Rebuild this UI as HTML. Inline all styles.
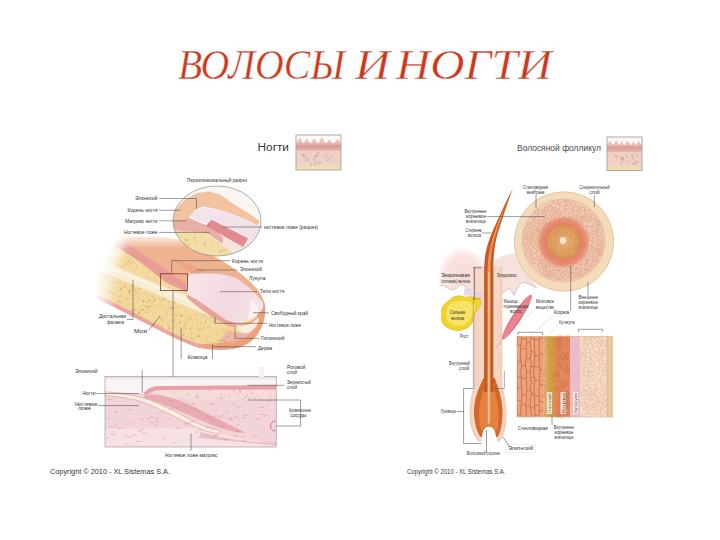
<!DOCTYPE html>
<html><head><meta charset="utf-8"><style>
html,body{margin:0;padding:0;background:#fff;width:720px;height:540px;overflow:hidden}
svg{display:block}
text{font-family:'Liberation Sans',sans-serif}
text.ttl{font-family:'Liberation Serif',serif;font-style:italic}
</style></head><body>
<svg width="720" height="540" viewBox="0 0 720 540"><defs>
<filter id="soft" x="-10%" y="-10%" width="120%" height="120%"><feGaussianBlur stdDeviation="0.7"/></filter>
<filter id="soft2" x="-30%" y="-30%" width="160%" height="160%"><feGaussianBlur stdDeviation="2"/></filter>
<filter id="soft4" x="-50%" y="-50%" width="200%" height="200%"><feGaussianBlur stdDeviation="4"/></filter>
<clipPath id="circClip"><ellipse cx="217" cy="221" rx="44" ry="35"/></clipPath>
<clipPath id="xsClip"><rect x="105" y="376.5" width="171.2" height="70.5"/></clipPath>
<linearGradient id="fadeL" gradientUnits="userSpaceOnUse" x1="95" y1="275" x2="121" y2="279">
 <stop offset="0" stop-color="#fff" stop-opacity="1"/>
 <stop offset="0.4" stop-color="#fff" stop-opacity="0.7"/>
 <stop offset="1" stop-color="#fff" stop-opacity="0"/>
</linearGradient>
<linearGradient id="fadeT" gradientUnits="userSpaceOnUse" x1="150" y1="233" x2="150" y2="248">
 <stop offset="0" stop-color="#fff" stop-opacity="1"/>
 <stop offset="1" stop-color="#fff" stop-opacity="0"/>
</linearGradient>
<linearGradient id="nailG" gradientUnits="userSpaceOnUse" x1="190" y1="274" x2="262" y2="305">
 <stop offset="0" stop-color="#f7e6ea"/>
 <stop offset="0.6" stop-color="#f3d8e0"/>
 <stop offset="1" stop-color="#f6e4e8"/>
</linearGradient>
<radialGradient id="pinkL" cx="0.55" cy="0.6" r="0.6">
 <stop offset="0" stop-color="#f7d9d6"/>
 <stop offset="0.7" stop-color="#f9e4e2"/>
 <stop offset="1" stop-color="#fdf2f2" stop-opacity="0.5"/>
</radialGradient>
<pattern id="cellsO" width="6" height="9" patternUnits="userSpaceOnUse">
 <rect width="6" height="9" fill="#eba06a"/>
 <path d="M0,0 L0,9 M3,0 L3,4.5 M0,4.5 L6,4.5" stroke="#c8703e" stroke-width="0.6"/>
</pattern>
<pattern id="cellsP" width="4" height="4" patternUnits="userSpaceOnUse">
 <rect width="4" height="4" fill="#f6d9c6"/>
 <circle cx="2" cy="2" r="1.4" fill="none" stroke="#e5b4a0" stroke-width="0.5"/>
</pattern>
<pattern id="cellsC" width="5" height="5" patternUnits="userSpaceOnUse">
 <rect width="5" height="5" fill="#f1cdb8"/>
 <circle cx="2.5" cy="2.5" r="1.9" fill="none" stroke="#e0a088" stroke-width="0.5"/>
</pattern>
<radialGradient id="coreG" gradientUnits="userSpaceOnUse" cx="563.5" cy="242" r="27">
 <stop offset="0" stop-color="#eab478"/>
 <stop offset="0.5" stop-color="#e0a060"/>
 <stop offset="0.64" stop-color="#df9058"/>
 <stop offset="0.67" stop-color="#e8846c"/>
 <stop offset="0.82" stop-color="#ea8c74"/>
 <stop offset="0.93" stop-color="#eeb098"/>
 <stop offset="1" stop-color="#f0cbb2" stop-opacity="0"/>
</radialGradient>
<linearGradient id="oliveG" x1="0" y1="0" x2="1" y2="0">
 <stop offset="0" stop-color="#e2b888"/>
 <stop offset="0.45" stop-color="#d6a24a"/>
 <stop offset="1" stop-color="#cf983c"/>
</linearGradient>
<clipPath id="rectClip"><rect x="517" y="336.3" width="95.4" height="80.7"/></clipPath>
<radialGradient id="fadeR" gradientUnits="userSpaceOnUse" cx="90" cy="236" r="42">
 <stop offset="0" stop-color="#fff" stop-opacity="1"/>
 <stop offset="0.55" stop-color="#fff" stop-opacity="0.9"/>
 <stop offset="1" stop-color="#fff" stop-opacity="0"/>
</radialGradient>
<linearGradient id="thG" x1="0" y1="0" x2="0" y2="1">
 <stop offset="0" stop-color="#efcfc6"/>
 <stop offset="1" stop-color="#f1e2b0"/>
</linearGradient>
</defs>
<rect width="720" height="540" fill="#fff"/>
<text x="178" y="78.5" class="ttl" font-size="41.5" fill="#cc391d" stroke="#fff" stroke-width="0.4" textLength="167" lengthAdjust="spacingAndGlyphs">ВОЛОСЫ</text>
<text x="355" y="78.5" class="ttl" font-size="41.5" fill="#cc391d" stroke="#fff" stroke-width="0.4" textLength="35" lengthAdjust="spacingAndGlyphs">И</text>
<text x="396" y="78.5" class="ttl" font-size="41.5" fill="#cc391d" stroke="#fff" stroke-width="0.4" textLength="156" lengthAdjust="spacingAndGlyphs">НОГТИ</text>
<text x="257.5" y="151.3" font-size="10" fill="#3a3a3a" textLength="31.5" lengthAdjust="spacingAndGlyphs">Ногти</text>
<rect x="296" y="135" width="45" height="35" fill="#efcfc6"/>
<rect x="296" y="135" width="45" height="8.4" fill="#fcf8f6"/>
<polygon points="296.0,144.1 295.7,143.8 300.0,137.5 302.8,143.8 307.0,138.6 310.3,143.8 314.0,138.5 318.4,143.8 321.6,137.3 325.9,143.8 329.1,139.4 333.1,143.8 338.0,138.9 341.1,143.8 341.0,144.1" fill="#e9c2b4"/>
<rect x="296" y="143.4" width="45" height="7.0" fill="#e2aaa2"/>
<rect x="296" y="145.5" width="45" height="1.75" fill="#d8968e" opacity="0.7"/>
<rect x="296" y="162.3" width="45" height="7.7" fill="url(#thG)"/>
<circle cx="314.8" cy="164.5" r="0.6" fill="none" stroke="#c09a90" stroke-width="0.5"/>
<circle cx="331.4" cy="156.0" r="0.7" fill="none" stroke="#c09a90" stroke-width="0.5"/>
<circle cx="304.7" cy="156.3" r="1.3" fill="none" stroke="#c09a90" stroke-width="0.5"/>
<circle cx="307.0" cy="159.6" r="1.1" fill="none" stroke="#c09a90" stroke-width="0.5"/>
<circle cx="313.9" cy="159.2" r="0.7" fill="none" stroke="#c09a90" stroke-width="0.5"/>
<circle cx="302.6" cy="155.0" r="1.1" fill="none" stroke="#c09a90" stroke-width="0.5"/>
<circle cx="315.9" cy="156.3" r="1.1" fill="none" stroke="#c09a90" stroke-width="0.5"/>
<circle cx="316.8" cy="156.2" r="1.2" fill="none" stroke="#c09a90" stroke-width="0.5"/>
<circle cx="325.7" cy="155.5" r="1.1" fill="none" stroke="#c09a90" stroke-width="0.5"/>
<circle cx="319.4" cy="163.2" r="1.2" fill="none" stroke="#c09a90" stroke-width="0.5"/>
<circle cx="310.9" cy="164.5" r="0.7" fill="none" stroke="#c09a90" stroke-width="0.5"/>
<circle cx="315.6" cy="161.8" r="0.7" fill="none" stroke="#c09a90" stroke-width="0.5"/>
<circle cx="318.1" cy="153.0" r="1.1" fill="none" stroke="#c09a90" stroke-width="0.5"/>
<circle cx="328.0" cy="159.5" r="1.3" fill="none" stroke="#c09a90" stroke-width="0.5"/>
<rect x="296" y="135" width="45" height="35" fill="none" stroke="#a8a2a0" stroke-width="0.9"/>
<text x="517" y="150.8" font-size="8.4" fill="#4a4a4a" textLength="84" lengthAdjust="spacingAndGlyphs">Волосяной фолликул</text>
<rect x="607" y="137" width="35" height="33.5" fill="#efcfc6"/>
<rect x="607" y="137" width="35" height="8.04" fill="#fcf8f6"/>
<polygon points="607.0,145.7 606.7,145.4 610.1,140.9 613.0,145.4 616.3,140.2 619.4,145.4 621.8,140.3 623.8,145.4 627.7,140.9 631.1,145.4 632.9,141.2 636.0,145.4 638.3,140.8 641.9,145.4 642.0,145.7" fill="#e9c2b4"/>
<rect x="607" y="145.04" width="35" height="6.7" fill="#e2aaa2"/>
<rect x="607" y="147.05" width="35" height="1.675" fill="#d8968e" opacity="0.7"/>
<rect x="607" y="163.13" width="35" height="7.37" fill="url(#thG)"/>
<circle cx="615.2" cy="155.1" r="0.6" fill="none" stroke="#c09a90" stroke-width="0.5"/>
<circle cx="632.0" cy="155.3" r="0.8" fill="none" stroke="#c09a90" stroke-width="0.5"/>
<circle cx="621.4" cy="164.0" r="0.7" fill="none" stroke="#c09a90" stroke-width="0.5"/>
<circle cx="623.1" cy="160.2" r="1.3" fill="none" stroke="#c09a90" stroke-width="0.5"/>
<circle cx="633.4" cy="163.9" r="0.8" fill="none" stroke="#c09a90" stroke-width="0.5"/>
<circle cx="622.1" cy="158.0" r="1.3" fill="none" stroke="#c09a90" stroke-width="0.5"/>
<circle cx="637.3" cy="155.5" r="0.7" fill="none" stroke="#c09a90" stroke-width="0.5"/>
<circle cx="617.0" cy="156.5" r="1.0" fill="none" stroke="#c09a90" stroke-width="0.5"/>
<circle cx="627.0" cy="156.8" r="0.6" fill="none" stroke="#c09a90" stroke-width="0.5"/>
<circle cx="622.2" cy="158.1" r="1.1" fill="none" stroke="#c09a90" stroke-width="0.5"/>
<circle cx="637.2" cy="161.8" r="1.0" fill="none" stroke="#c09a90" stroke-width="0.5"/>
<circle cx="627.8" cy="161.7" r="0.6" fill="none" stroke="#c09a90" stroke-width="0.5"/>
<circle cx="635.7" cy="162.9" r="1.3" fill="none" stroke="#c09a90" stroke-width="0.5"/>
<circle cx="632.8" cy="158.4" r="0.9" fill="none" stroke="#c09a90" stroke-width="0.5"/>
<rect x="607" y="137" width="35" height="33.5" fill="none" stroke="#a8a2a0" stroke-width="0.9"/>
<g filter="url(#soft)">
<path d="M122,238 C140,236 160,236 180,240 C195,246 205,252 217,258 C230,265 248,278 257,289 C262,295 265,301 265,310 C265,316 264,322 262,326 C258,336 250,345 237,348 C225,350 210,350 200,348 C185,344 165,333 147,324 C130,315 112,306 97,299 C93,290 96,262 105,250 C110,243 116,239 122,238 Z" fill="#f4d99c"/>
<path d="M97,299 C112,306 130,315 147,324 C165,333 185,344 200,348 C210,350 225,350 237,348 L236,344 C222,346 210,346 200,344 C185,340 166,330 148,320 C131,311 113,302 98,295 Z" fill="#eaa59e"/>
<path d="M103,260 C115,266 130,273 150,281 C165,287 178,292 190,297 C200,301 210,306 220,312 L232,326 C222,322 212,317 200,312 C188,307 175,302 163,297 C148,291 128,283 100,271 Z" fill="#f7ecd4"/>
<path d="M106,266 C125,274 150,284 175,295 C195,303 210,311 225,320" fill="none" stroke="#fbf6ea" stroke-width="1.6" opacity="0.9"/>
<path d="M112,244 C125,252 135,258 140,262 C150,270 158,276 165,282 L188,293 L188,294 C178,291 165,287 150,281 C130,272 115,265 103,258 Z" fill="#f5dba2"/>
<path d="M122,238 C140,236 160,236 180,240 C195,246 205,252 217,258 C230,265 248,278 257,289 C262,295 265,301 265,310 L262,301.5 L189,272 L190,286 C180,280 165,268 150,258 C140,251 130,244 120,240 Z" fill="#efb48f"/>
<path d="M120,240 C130,244 140,251 150,258 C165,268 175,276 190,286 L188,293 C178,288 170,285 165,282 C158,276 150,270 140,262 C130,255 120,249 112,244 Z" fill="#eba09a"/>
<path d="M117.0,241.0 C135,250.0 160,268.0 189,287.0" fill="none" stroke="#dc8884" stroke-width="0.45" opacity="0.8"/>
<path d="M115.92,242.44 C135,251.8 160,269.8 189,288.44" fill="none" stroke="#dc8884" stroke-width="0.45" opacity="0.8"/>
<path d="M114.84,243.88 C135,253.6 160,271.6 189,289.88" fill="none" stroke="#dc8884" stroke-width="0.45" opacity="0.8"/>
<path d="M113.76,245.32 C135,255.4 160,273.4 189,291.32" fill="none" stroke="#dc8884" stroke-width="0.45" opacity="0.8"/>
<path d="M172,258 C190,264 215,274 240,287 C252,293 259,298 263,303 L262,301.5 L189,272 C182,268 177,262 172,258 Z" fill="#eba283" opacity="0.9"/>
<path d="M188,293 C195,298 205,305 215,312 C225,319 232,323 238,324 C245,325 252,322 258,316 L259,320 C252,326 245,328 238,328 C230,327 222,323 212,317 C202,310 194,304 187,298 Z" fill="#e9a39c"/>
<path d="M257,312 C258,322 254,332 245,337 C232,342 215,344 200,344 L205,348 C215,350 228,350 237,348 C250,345 258,336 262,326 C266,316 266,306 264,302 Z" fill="#eea07c"/>
<path d="M228,330 C235,333 245,334 252,330 C250,336 244,339 236,341 C230,342 224,342 218,342 C222,338 225,334 228,330 Z" fill="#efb4a8"/>
<path d="M236,325 C244,327 252,324 259,317 C259,324 255,330 248,333 C242,334 238,331 236,325 Z" fill="#f8eedc"/>
</g>
<path d="M189.5,274 C205,272 225,273 235,277 C246,283 256,293 262,301 C265,306 262,312 258,313.4 C254,318 250,320 247.8,320.5 C242,322.5 238,323 235.5,322.6 C230,321 226,320 225.4,319.5 C218,314 212,310 205,305.3 C198,300 192,297 188,295 C186,290 186,280 189.5,274 Z" fill="url(#nailG)"/>
<path d="M189.5,274 C205,272 225,273 235,277 C246,283 256,293 262,301" stroke="#eab2ac" stroke-width="1.0" fill="none"/>
<path d="M250,300 C256,303 260,306 258,313.4 C254,318 250,320 247.8,320.5 C249,314 251,306 250,300 Z" fill="#fbf2f4" opacity="0.8"/>
<clipPath id="fatClip"><path d="M98,295 C113,302 131,311 148,320 C166,330 185,340 200,344 C210,346 222,346 236,344 C240,340 238,334 232,326 C222,322 212,317 200,312 C188,307 175,302 163,297 C148,291 128,283 100,271 Z"/></clipPath>
<clipPath id="fatClip2"><path d="M112,244 C125,252 135,258 140,262 C150,270 158,276 165,282 L188,294 C178,291 165,287 150,281 C130,272 115,265 103,258 Z"/></clipPath>
<g clip-path="url(#fatClip)"><path d="M235.8,342.8L241.7,340.0M235.1,334.0L228.9,331.7M235.1,334.0L231.6,341.0M228.9,331.7L230.2,340.7M230.2,340.7L231.6,341.0M235.8,342.8L232.8,342.2M232.4,343.9L232.8,342.2M232.4,343.9L226.6,352.2M226.6,352.2L150.2,2642.1M241.7,340.0L239.2,330.2M235.1,334.0L237.8,330.7M231.6,341.0L232.8,342.2M239.2,330.2L237.8,330.7M228.9,331.7L227.3,329.4M224.5,340.6L230.2,340.7M224.5,340.6L225.7,329.3M225.7,329.3L227.3,329.4M237.8,330.7L230.6,327.7M227.3,329.4L230.6,327.7M238.3,307.6L247.6,305.0M238.3,307.6L238.7,315.8M240.5,315.9L238.7,315.8M240.5,315.9L250.4,305.0M250.4,305.0L247.6,305.0M224.5,340.6L222.7,341.2M226.6,352.2L222.7,343.2M222.7,341.2L222.7,343.2M92.4,302.2L101.8,298.7M92.4,302.2L103.0,310.2M101.8,298.7L105.4,306.6M105.4,306.6L103.0,310.2M-200.5,314.1L-7900.8,338.8M-200.5,314.1L92.4,302.2M-7900.8,338.8L21.3,288.1M101.8,298.7L101.8,298.5M21.3,288.1L91.2,292.2M101.8,298.5L91.2,292.2M157.6,289.6L167.8,288.9M157.6,289.6L155.3,285.4M167.8,288.9L164.7,283.6M164.7,283.6L155.3,285.4M261.3,326.5L241.1,328.5M261.3,326.5L242.7,317.6M242.7,317.6L239.2,325.3M241.1,328.5L239.2,325.3M239.2,330.2L241.1,328.5M230.6,327.7L231.5,321.9M239.2,325.3L234.7,319.6M231.5,321.9L234.7,319.6M240.5,315.9L242.7,317.6M238.7,315.8L235.0,317.8M235.0,317.8L234.7,319.6M250.4,305.0L287.8,295.7M315.8,292.3L287.8,295.7M235.3,299.6L237.1,299.5M235.3,299.6L231.7,296.1M237.1,299.5L244.0,293.1M231.7,296.1L234.8,292.1M234.8,292.1L238.8,291.2M238.8,291.2L244.0,293.1M235.0,306.7L235.3,299.6M235.0,306.7L238.3,307.6M247.6,305.0L237.1,299.5M287.8,295.7L244.0,293.1M315.8,292.3L238.9,282.0M238.9,282.0L238.8,291.2M202.6,298.9L207.6,302.9M202.6,298.9L199.9,307.3M207.6,302.9L203.5,307.6M199.9,307.3L202.6,307.6M203.5,307.6L202.6,307.6M207.4,309.2L203.5,307.6M207.4,309.2L212.3,302.8M212.3,302.8L207.6,302.9M205.9,316.0L205.9,316.0M205.9,316.0L203.1,316.0M205.9,316.0L202.6,307.6M203.1,316.0L195.6,312.9M195.6,312.9L196.5,308.9M196.5,308.9L199.9,307.3M206.1,315.9L205.9,316.0M206.1,315.9L209.6,312.7M209.6,312.7L207.4,309.2M163.9,317.0L169.6,321.6M163.9,317.0L166.6,314.5M166.6,314.5L174.6,314.5M174.6,314.5L174.7,320.3M169.6,321.6L174.7,320.3M-200.5,314.1L90.4,317.7M90.4,317.7L98.6,315.8M103.0,310.2L101.7,313.7M98.6,315.8L101.7,313.7M153.7,323.3L154.7,321.6M153.7,323.3L155.7,327.8M155.7,327.8L162.3,330.6M163.9,317.0L158.8,318.6M162.3,330.6L168.4,329.5M169.6,321.6L168.4,329.5M154.7,321.6L158.8,318.6M168.4,329.5L168.7,329.5M168.7,329.5L175.7,326.6M176.3,322.4L174.7,320.3M176.3,322.4L176.1,326.1M176.1,326.1L175.7,326.6M117.0,339.2L114.2,338.3M117.0,339.2L113.5,351.6M114.2,338.3L111.0,340.3M111.0,340.3L109.8,342.0M109.8,342.0L111.7,348.7M113.5,351.6L111.7,348.7M119.2,333.4L114.3,330.1M119.2,333.4L125.8,325.6M125.8,325.6L114.3,330.1M121.3,338.9L122.1,337.9M121.3,338.9L117.0,339.2M122.1,337.9L119.2,333.4M113.1,330.0L114.3,330.1M113.1,330.0L114.2,338.3M130.8,332.3L126.8,335.8M130.8,332.3L126.1,325.4M126.8,335.8L122.1,337.9M126.1,325.4L125.8,325.6M139.8,317.1L137.0,310.9M139.8,317.1L128.3,320.7M137.0,310.9L135.7,309.9M135.7,309.9L129.1,312.3M129.1,312.3L128.3,320.7M130.8,332.3L132.1,332.7M141.6,318.8L132.1,332.7M141.6,318.8L140.6,317.6M126.1,325.4L125.7,322.6M140.6,317.6L139.8,317.1M128.3,320.7L125.7,322.6M112.6,324.4L111.8,326.1M112.6,324.4L105.5,315.4M105.5,315.4L104.0,314.9M104.0,314.9L108.4,325.1M111.8,326.1L108.4,325.1M98.6,315.8L103.6,324.8M101.7,313.7L104.0,314.9M108.4,325.1L103.6,324.8M155.7,327.8L155.3,328.9M155.3,328.9L153.2,337.7M162.3,330.6L165.4,339.8M165.4,339.8L162.9,342.7M153.2,337.7L162.9,342.7M144.7,343.1L135.7,338.0M144.7,343.1L145.5,342.4M145.5,342.4L144.3,335.2M144.3,335.2L140.4,332.3M140.4,332.3L134.3,334.3M134.3,334.3L135.7,338.0M153.7,323.3L150.0,322.8M150.0,322.8L140.4,332.3M155.3,328.9L144.3,335.2M150.0,322.8L141.6,318.8M132.1,332.7L134.3,334.3M165.4,339.8L169.9,341.0M168.7,329.5L170.0,331.2M170.0,331.2L169.9,341.0M176.8,329.7L175.7,326.6M176.8,329.7L176.0,336.4M170.0,331.2L176.0,336.4M101.8,298.5L103.8,294.8M91.2,292.2L96.6,290.4M96.6,290.4L101.9,292.1M101.9,292.1L103.8,294.8M105.4,306.6L106.6,306.3M106.6,306.3L112.2,299.1M112.2,299.1L104.4,294.6M103.8,294.8L104.4,294.6M143.7,29.3L139.9,258.9M143.7,29.3L157.0,254.0M146.9,268.1L157.0,254.0M146.9,268.1L142.1,266.4M142.1,266.4L139.9,258.9M146.9,268.1L149.2,270.8M142.1,266.4L141.9,271.5M149.2,270.8L141.9,271.5M183.3,289.5L188.1,298.5M183.3,289.5L183.9,287.2M183.9,287.2L191.0,283.7M196.4,295.6L193.1,283.8M196.4,295.6L189.2,298.9M191.0,283.7L193.1,283.8M189.2,298.9L188.1,298.5M180.7,273.6L180.6,281.5M180.7,273.6L184.6,271.3M180.6,281.5L183.9,287.2M184.6,271.3L190.4,275.4M190.4,275.4L191.0,283.7M182.8,304.8L186.4,312.1M182.8,304.8L185.0,301.3M186.4,312.1L190.2,300.7M185.0,301.3L188.1,298.5M190.2,300.7L189.2,298.9M156.0,276.4L165.5,280.2M156.0,276.4L156.7,270.2M158.0,268.2L156.7,270.2M158.0,268.2L166.0,279.1M166.0,279.1L165.5,280.2M164.7,283.6L165.6,281.4M155.3,285.4L154.0,284.6M165.6,281.4L165.5,280.2M156.0,276.4L153.1,282.8M153.1,282.8L154.0,284.6M225.7,329.3L225.5,329.1M225.5,329.1L226.4,323.8M231.5,321.9L228.8,321.6M226.4,323.8L228.8,321.6M225.2,296.9L231.7,296.1M225.2,296.9L225.1,299.2M235.0,306.7L228.1,309.9M228.1,309.9L225.1,299.2M235.0,317.8L228.0,310.1M228.1,309.9L228.0,310.1M207.8,327.8L213.5,322.5M207.8,327.8L203.9,327.0M205.8,319.8L212.3,321.6M205.8,319.8L203.7,326.4M212.3,321.6L213.5,322.5M203.7,326.4L203.9,327.0M206.1,315.9L212.3,321.6M205.9,316.0L205.8,319.8M201.4,323.1L203.7,326.4M201.4,323.1L203.1,316.0M201.4,323.1L196.9,319.8M196.9,319.8L196.3,329.0M196.3,329.0L199.3,330.5M199.3,330.5L203.9,327.0M217.7,319.8L222.6,328.7M217.7,319.8L214.8,322.0M214.8,322.0L217.0,331.6M222.6,328.7L218.8,332.1M218.8,332.1L217.0,331.6M225.5,329.1L222.6,328.7M226.4,323.8L217.9,319.5M217.9,319.5L217.7,319.8M207.8,327.8L210.6,332.6M213.5,322.5L214.8,322.0M210.6,332.6L217.0,331.6M222.7,341.2L220.8,340.5M220.8,340.5L218.8,332.1M196.9,319.8L193.4,316.0M196.3,329.0L191.8,327.6M191.8,327.6L193.4,316.0M176.7,312.2L174.6,314.5M176.7,312.2L185.7,316.5M176.3,322.4L184.1,320.2M184.1,320.2L185.7,316.5M195.6,312.9L193.3,315.6M196.5,308.9L190.2,300.7M186.4,312.1L187.3,315.7M187.3,315.7L193.3,315.6M193.3,315.6L193.4,316.0M199.0,273.8L198.0,267.2M199.0,273.8L193.7,273.9M193.7,273.9L189.1,262.1M198.0,267.2L192.1,253.1M192.1,253.1L189.1,262.1M184.6,271.3L189.1,262.1M190.4,275.4L193.7,273.9M222.9,-674.5L214.6,265.7M222.9,-674.5L202.9,-167.4M202.9,-167.4L192.1,253.1M214.6,265.7L212.8,269.4M212.8,269.4L198.0,267.2M140.6,317.6L147.5,307.8M137.0,310.9L143.5,304.5M143.5,304.5L147.5,307.8M153.1,314.0L155.9,308.0M153.1,314.0L149.7,307.9M155.9,308.0L151.2,305.8M149.7,307.9L151.2,305.8M160.4,306.5L158.8,318.6M160.4,306.5L159.8,305.1M159.8,305.1L155.9,308.0M154.7,321.6L153.1,314.0M147.5,307.8L149.7,307.9M159.8,305.1L159.8,305.0M159.8,305.0L151.7,304.5M151.7,304.5L151.2,305.8M159.9,299.1L155.0,298.7M159.9,299.1L159.2,292.8M159.2,292.8L157.6,289.8M157.6,289.8L153.4,295.0M155.0,298.7L153.2,296.4M153.2,296.4L153.4,295.0M157.6,289.6L157.6,289.8M154.0,284.6L150.4,289.4M150.4,289.4L153.4,295.0M146.3,293.5L146.6,295.4M146.3,293.5L146.6,292.6M146.6,295.4L153.2,296.4M150.4,289.4L146.6,292.6M135.7,309.9L133.8,306.2M143.5,304.5L143.5,300.6M143.5,300.6L138.6,299.2M133.8,306.2L138.6,299.2M137.2,292.4L130.0,298.2M137.2,292.4L137.4,292.8M137.4,292.8L138.1,298.6M138.1,298.6L130.0,298.2M137.2,292.4L137.1,292.2M137.1,292.2L128.9,292.3M128.9,292.3L127.0,298.7M130.0,298.2L127.0,298.7M176.0,336.4L176.2,336.8M170.0,341.1L169.9,341.0M170.0,341.1L175.2,339.0M176.2,336.8L175.2,339.0M170.5,346.5L170.0,341.1M170.5,346.5L176.2,346.1M176.2,346.1L176.3,346.0M176.3,346.0L175.2,339.2M175.2,339.2L175.2,339.0M134.0,342.4L143.0,356.0M134.0,342.4L132.7,343.5M132.7,343.5L145.9,456.8M143.0,356.0L145.9,456.8M144.7,343.1L143.0,356.0M135.7,338.0L134.0,342.4M126.8,335.8L128.3,343.4M128.3,343.4L130.5,344.3M130.5,344.3L132.7,343.5M148.5,519.2L145.9,456.8M148.5,519.2L142.7,749.0M142.7,749.0L120.1,379.0M130.5,344.3L120.1,379.0M153.2,337.7L152.3,339.3M145.5,342.4L151.9,339.6M151.9,339.6L152.3,339.3M148.5,519.2L159.8,381.3M151.9,339.6L159.8,381.3M112.4,292.4L112.7,298.8M112.4,292.4L118.7,297.5M112.7,298.8L115.8,299.6M118.7,297.5L115.8,299.6M106.6,306.3L111.1,307.4M112.2,299.1L112.7,298.8M116.0,300.9L115.8,299.6M116.0,300.9L115.8,305.6M111.1,307.4L115.8,305.6M96.6,290.4L98.9,284.4M101.8,288.9L101.9,292.1M101.8,288.9L101.1,285.6M101.1,285.6L98.9,284.4M21.3,288.1L97.4,282.5M98.1,272.3L99.5,278.8M99.5,278.8L97.4,282.5M97.4,282.5L98.9,284.4M98.1,272.3L98.6,272.2M107.7,261.5L105.6,266.5M98.6,272.2L105.6,266.5M119.6,290.8L121.1,296.5M119.6,290.8L114.4,290.1M121.1,296.5L118.7,297.5M112.4,292.4L112.2,291.8M114.4,290.1L112.2,291.8M137.0,272.7L137.3,263.9M137.0,272.7L135.6,272.5M135.6,272.5L132.1,272.0M137.3,263.9L132.5,270.3M132.5,270.3L132.1,272.0M139.9,258.9L137.3,263.9M141.9,271.5L140.8,274.0M140.8,274.0L137.0,272.7M127.8,-529.7L123.7,250.2M127.8,-529.7L143.7,29.3M123.7,250.2L132.5,270.3M168.0,289.1L168.8,289.4M168.0,289.1L164.7,292.0M168.8,289.4L169.1,294.2M164.7,292.0L163.7,299.6M163.7,299.6L169.1,294.2M167.8,288.9L168.0,289.1M159.2,292.8L164.7,292.0M179.5,290.8L173.8,298.4M179.5,290.8L170.2,289.0M170.2,289.0L168.8,289.4M173.8,298.4L169.1,294.2M161.3,300.4L159.9,299.1M161.3,300.4L163.4,300.1M163.4,300.1L163.7,299.6M180.6,273.5L173.8,272.0M180.6,273.5L176.4,261.0M176.4,261.0L173.8,272.0M202.9,-167.4L175.4,248.4M180.7,273.6L180.6,273.5M175.4,248.4L176.4,261.0M170.5,272.6L171.2,272.2M170.5,272.6L158.1,268.0M171.2,272.2L170.7,266.9M170.7,266.9L158.1,263.6M158.1,263.6L158.1,268.0M169.9,275.2L166.0,279.1M169.9,275.2L170.5,272.6M158.0,268.2L158.1,268.0M175.4,248.4L170.7,266.9M173.8,272.0L171.2,272.2M157.0,254.0L158.1,263.6M149.2,270.8L150.3,271.2M150.3,271.2L156.7,270.2M175.9,281.4L172.0,278.7M175.9,281.4L172.1,283.6M172.0,278.7L170.0,281.9M172.1,283.6L170.0,281.9M180.6,281.5L175.9,281.4M169.9,275.2L172.0,278.7M183.3,289.5L179.5,290.8M170.2,289.0L172.1,283.6M165.6,281.4L170.0,281.9M151.5,282.4L143.1,287.0M151.5,282.4L144.6,278.2M143.1,287.0L141.3,278.6M144.6,278.2L142.0,277.8M142.0,277.8L141.3,278.6M153.1,282.8L151.5,282.4M142.9,287.5L143.1,287.0M142.9,287.5L146.6,292.6M150.3,271.2L144.6,278.2M140.8,274.0L142.0,277.8M218.7,316.8L221.6,315.2M218.7,316.8L214.4,313.1M214.4,313.1L214.5,305.1M221.6,315.2L224.1,312.5M224.1,312.5L217.9,305.0M214.5,305.1L217.9,305.0M228.8,321.6L221.6,315.2M217.9,319.5L218.7,316.8M209.6,312.7L214.4,313.1M212.3,302.8L212.3,302.8M212.3,302.8L214.5,305.1M228.0,310.1L224.1,312.5M225.1,299.2L217.9,305.0M210.6,332.6L210.2,336.2M220.8,340.5L219.1,340.8M219.1,340.8L210.2,336.2M153.4,2088.2L142.7,749.0M153.4,2088.2L171.9,1373.3M170.5,346.5L161.8,367.2M176.2,346.1L186.0,361.5M159.8,381.3L161.8,367.2M186.0,361.5L171.9,1373.3M150.2,2642.1L153.4,2088.2M222.7,343.2L219.4,349.8M219.4,349.8L206.2,456.6M171.9,1373.3L206.2,456.6M191.2,327.8L185.7,328.5M191.2,327.8L191.8,337.8M184.2,333.1L185.6,328.6M184.2,333.1L184.0,334.6M185.6,328.6L185.7,328.5M184.0,334.6L186.1,336.7M191.8,337.8L186.1,336.7M191.8,327.6L191.2,327.8M184.1,320.2L185.7,328.5M187.3,315.7L185.7,316.5M199.3,330.5L199.0,333.5M194.0,338.7L199.0,333.5M194.0,338.7L193.1,338.4M193.1,338.4L191.8,337.8M176.8,329.7L184.2,333.1M176.1,326.1L185.6,328.6M182.7,335.2L176.2,336.8M182.7,335.2L184.0,334.6M193.1,283.8L197.6,283.0M197.6,283.0L197.9,282.3M199.0,273.8L199.8,274.6M199.8,274.6L197.9,282.3M202.6,298.9L202.3,296.0M196.4,295.6L200.9,294.8M200.9,294.8L202.3,296.0M227.5,273.5L214.6,265.7M227.5,273.5L229.6,271.6M245.7,250.9L229.6,271.6M235.3,281.4L236.0,275.8M235.3,281.4L238.8,281.9M239.8,278.8L238.8,281.9M239.8,278.8L238.3,273.1M238.3,273.1L236.0,275.8M232.0,285.4L234.8,281.5M232.0,285.4L234.8,292.1M238.9,282.0L238.8,281.9M234.8,281.5L235.3,281.4M245.7,250.9L238.3,273.1M229.6,271.6L236.0,275.8M225.2,296.9L222.7,294.4M232.0,285.4L227.8,286.1M222.7,294.4L223.7,289.8M227.8,286.1L223.7,289.8M166.6,314.5L166.6,312.9M160.4,306.5L163.9,308.2M163.9,308.2L166.6,311.7M166.6,312.9L166.6,311.7M145.9,297.5L143.5,300.6M145.9,297.5L152.3,301.2M143.5,300.6L151.6,303.9M152.3,301.2L151.6,303.9M137.4,292.8L146.3,293.5M146.6,295.4L145.9,297.5M143.5,300.6L143.5,300.6M138.1,298.6L138.6,299.2M155.0,298.7L152.3,301.2M151.7,304.5L151.6,303.9M161.3,300.4L159.8,305.0M181.4,341.3L180.3,342.9M181.4,341.3L185.6,341.7M185.4,348.6L180.4,343.2M185.4,348.6L185.7,345.2M180.4,343.2L180.3,342.9M185.7,345.2L185.6,341.7M182.7,335.2L181.4,341.3M175.2,339.2L180.3,342.9M186.1,336.7L185.6,341.7M176.3,346.0L180.4,343.2M186.0,361.5L187.0,355.5M187.0,355.5L185.4,348.6M194.0,338.7L195.4,343.3M193.1,338.4L185.7,345.2M195.4,343.3L187.0,355.5M122.0,344.1L128.1,343.5M122.0,344.1L117.7,361.2M128.1,343.5L118.6,367.0M117.7,361.2L118.6,367.0M121.3,338.9L122.0,344.1M128.3,343.4L128.1,343.5M113.5,351.6L117.7,361.2M120.1,379.0L118.6,367.0M102.2,345.8L111.7,348.7M102.2,345.8L101.8,342.8M109.8,342.0L107.0,341.3M101.8,342.8L102.4,342.0M107.0,341.3L102.4,342.0M101.8,342.8L85.9,341.9M111.8,329.7L108.0,331.9M111.8,329.7L110.0,338.5M108.0,331.9L109.2,337.3M110.0,338.5L109.2,337.3M113.1,330.0L112.3,329.4M111.0,340.3L110.0,338.5M112.3,329.4L111.8,329.7M107.0,341.3L106.0,337.0M106.0,337.0L109.2,337.3M162.3,344.6L153.5,340.6M162.3,344.6L161.1,349.5M161.1,349.5L153.5,340.6M162.9,342.7L162.3,344.6M152.3,339.3L153.5,340.6M161.8,367.2L161.1,349.5M122.3,302.4L125.4,298.8M122.3,302.4L122.0,308.2M122.0,308.2L128.4,303.8M126.8,298.9L128.8,303.2M126.8,298.9L125.4,298.8M128.4,303.8L128.8,303.2M116.0,300.9L120.7,303.2M121.1,296.5L125.4,298.8M120.7,303.2L122.3,302.4M133.8,306.2L128.8,303.2M127.0,298.7L126.8,298.9M126.3,311.1L129.1,312.3M126.3,311.1L128.4,303.8M116.5,316.1L115.7,314.8M116.5,316.1L118.8,317.5M115.7,314.8L116.3,305.8M118.8,317.5L118.8,317.5M118.8,317.5L121.3,312.2M121.3,312.2L120.9,309.9M120.9,309.9L117.5,306.2M117.5,306.2L116.3,305.8M105.5,315.4L116.5,316.1M111.1,307.4L115.7,314.8M112.6,324.4L118.8,317.5M115.8,305.6L116.3,305.8M125.7,322.6L118.8,317.5M111.8,326.1L112.3,329.4M126.3,311.1L121.3,312.2M122.0,308.2L120.9,309.9M120.7,303.2L117.5,306.2M104.9,273.6L106.6,271.6M104.9,273.6L107.1,278.0M106.6,271.6L113.2,272.5M107.1,278.0L111.6,274.8M113.2,272.5L111.6,274.8M98.6,272.2L104.9,273.6M105.6,266.5L106.6,271.6M106.6,279.5L99.5,278.8M106.6,279.5L107.1,278.0M107.7,261.5L113.9,272.0M113.9,272.0L113.2,272.5M101.8,288.9L105.2,287.9M104.4,294.6L107.4,292.1M107.4,292.1L105.2,287.9M112.2,291.8L108.4,291.6M107.4,292.1L108.4,291.6M127.3,281.5L123.2,279.5M127.3,281.5L124.2,287.2M123.2,279.5L120.1,283.2M120.1,283.2L122.4,287.2M122.4,287.2L124.2,287.2M119.6,290.8L122.4,287.2M116.5,281.9L114.2,282.7M116.5,281.9L120.1,283.2M114.2,282.7L113.3,283.3M114.4,290.1L113.3,283.3M123.2,276.5L129.6,273.9M123.2,276.5L117.8,273.1M122.2,265.2L117.3,272.2M122.2,265.2L129.7,273.6M129.7,273.6L129.6,273.9M117.3,272.2L117.8,273.1M116.5,281.9L117.8,273.1M123.2,279.5L123.2,276.5M123.7,250.2L122.2,265.2M113.9,272.0L117.3,272.2M132.1,272.0L129.7,273.6M114.2,282.7L111.6,274.8M137.1,292.2L137.3,290.4M142.9,287.5L139.7,288.2M139.7,288.2L137.7,289.8M137.3,290.4L137.7,289.8M215.6,346.4L215.4,344.2M215.6,346.4L210.3,362.6M215.4,344.2L209.5,344.8M210.3,362.6L209.5,344.8M219.4,349.8L215.6,346.4M219.1,340.8L215.4,344.2M206.2,456.6L206.7,412.0M206.7,412.0L210.3,362.6M207.2,342.5L207.8,338.8M207.2,342.5L201.8,344.9M201.8,344.9L200.7,344.3M200.7,344.3L201.5,335.8M201.5,335.8L207.8,338.8M210.2,336.2L207.8,338.8M209.5,344.8L207.2,342.5M206.7,412.0L201.8,344.9M195.4,343.3L200.7,344.3M199.0,333.5L201.5,335.8M197.6,283.0L200.1,285.8M200.9,294.8L201.5,289.6M200.1,285.8L201.5,289.6M197.9,282.3L211.5,279.2M200.1,285.8L211.7,282.6M211.7,282.6L211.7,280.1M211.7,280.1L211.5,279.2M199.8,274.6L211.3,273.7M211.5,279.2L211.3,273.7M212.8,269.4L211.6,273.2M211.6,273.2L211.3,273.7M225.5,278.6L222.9,279.9M225.5,278.6L227.5,275.6M227.5,275.6L227.5,275.3M227.5,275.3L218.3,276.2M218.3,276.2L222.9,279.9M221.5,285.8L223.7,289.8M221.5,285.8L221.8,281.1M227.8,286.1L225.5,278.6M221.8,281.1L222.9,279.9M234.8,281.5L227.5,275.6M227.5,273.5L227.5,275.3M211.6,273.2L218.3,276.2M221.8,281.1L211.7,280.1M173.5,308.2L169.6,306.7M173.5,308.2L176.6,309.2M177.1,308.3L176.6,309.2M177.1,308.3L174.0,299.9M174.0,299.9L173.7,299.6M173.7,299.6L168.0,302.3M169.6,306.7L168.5,304.5M168.5,304.5L168.0,302.3M166.6,312.9L173.5,308.2M166.6,311.7L169.6,306.7M176.7,312.2L176.6,309.2M182.8,304.8L177.1,308.3M185.0,301.3L174.0,299.9M173.8,298.4L173.7,299.6M163.4,300.1L168.0,302.3M163.9,308.2L168.5,304.5M103.6,324.8L102.1,327.9M108.0,331.9L105.3,332.6M105.3,332.6L102.1,327.9M90.4,317.7L98.7,328.6M102.1,327.9L98.7,328.6M98.7,328.6L97.8,330.7M109.8,283.0L108.4,286.2M109.8,283.0L107.1,280.9M108.4,286.2L105.0,286.7M107.1,280.9L102.9,285.1M102.9,285.1L105.0,286.7M113.3,283.3L109.8,283.0M108.4,291.6L108.4,286.2M106.6,279.5L107.1,280.9M105.2,287.9L105.0,286.7M101.1,285.6L102.9,285.1M135.3,282.2L132.7,283.1M135.3,282.2L137.9,280.7M135.2,278.0L129.9,274.6M135.2,278.0L138.2,280.4M138.2,280.4L137.9,280.7M129.8,280.7L129.9,274.6M129.8,280.7L132.1,282.9M132.1,282.9L132.7,283.1M139.7,288.2L137.9,280.7M137.7,289.8L135.3,282.2M135.6,272.5L135.2,278.0M129.6,273.9L129.9,274.6M141.3,278.6L138.2,280.4M127.3,281.5L129.8,280.7M124.2,287.2L126.8,288.4M126.8,288.4L132.1,282.9M206.8,288.5L211.8,283.2M206.8,288.5L210.2,295.1M215.2,294.4L211.9,283.2M215.2,294.4L213.5,295.6M211.9,283.2L211.8,283.2M213.5,295.6L210.2,295.1M201.5,289.6L206.8,288.5M211.7,282.6L211.8,283.2M202.3,296.0L210.2,295.1M222.7,294.4L215.2,294.4M221.5,285.8L211.9,283.2M212.3,302.8L213.5,295.6M104.7,335.1L102.0,339.1M104.7,335.1L104.9,333.1M104.9,333.1L98.9,333.9M102.0,339.1L97.9,335.8M97.9,335.8L98.9,333.9M102.4,342.0L102.0,339.1M106.0,337.0L104.7,335.1M105.3,332.6L104.9,333.1M97.8,330.7L98.9,333.9M85.9,341.9L97.9,335.8M134.7,288.4L134.7,288.4M134.7,288.4L128.5,290.7M134.7,288.4L131.4,287.9M131.4,287.9L128.4,290.6M128.5,290.7L128.4,290.6M137.3,290.4L134.7,288.4M132.7,283.1L132.9,284.3M132.9,284.3L134.7,288.4M128.9,292.3L128.5,290.7M132.9,284.3L131.4,287.9M126.8,288.4L128.4,290.6" fill="none" stroke="#e6c488" stroke-width="0.5" opacity="0.9"/></g>
<g clip-path="url(#fatClip2)"><path d="M602.6,163.9L187.7,244.9M602.6,163.9L219.3,245.3M187.7,244.9L186.0,246.6M219.3,245.3L190.6,250.0M186.0,246.6L190.6,250.0M189.8,254.3L189.2,253.4M189.8,254.3L219.3,245.3M189.2,253.4L190.6,250.0M63.5,258.3L106.1,271.5M63.5,258.3L68.3,258.1M68.3,258.1L107.8,266.6M106.1,271.5L107.8,266.6M11.9,258.2L105.0,280.0M105.0,280.0L72.4,349.1M72.4,349.1L70.2,352.6M190.0,256.7L804.5,293.3M190.0,256.7L189.8,254.3M1517.0,322.1L804.5,293.3M194.3,289.8L1517.0,322.1M194.3,289.8L191.9,290.1M191.9,290.1L186.9,296.7M176.7,298.4L181.1,295.4M186.9,296.7L181.1,295.4M176.7,298.4L176.7,298.4M173.5,289.2L176.7,298.4M173.5,289.2L173.9,289.1M181.1,295.4L182.8,288.6M173.9,289.1L182.8,288.6M191.9,290.1L184.4,286.9M184.4,286.9L182.8,288.6M177.7,123.6L187.7,244.9M72.4,349.1L111.7,290.0M70.2,352.6L120.0,296.1M120.0,296.1L118.8,290.7M111.7,290.0L118.8,290.7M105.0,280.0L110.5,279.8M111.7,290.0L110.5,279.8M11.9,258.2L63.5,258.3M106.1,271.5L110.6,279.6M110.5,279.8L110.6,279.6M189.1,280.6L314.1,275.1M189.1,280.6L188.8,280.4M188.8,280.4L189.1,278.0M189.1,278.0L265.3,272.5M265.3,272.5L314.1,275.1M194.3,289.8L189.1,280.6M804.5,293.3L314.1,275.1M183.3,282.9L184.4,286.9M183.3,282.9L188.8,280.4M194.8,268.1L187.8,272.9M194.8,268.1L265.3,272.5M187.8,272.9L189.1,278.0M176.1,286.3L181.7,281.2M176.1,286.3L175.3,274.9M181.7,281.2L178.4,275.6M178.4,275.6L177.5,275.2M175.3,274.9L177.5,275.2M173.9,289.1L176.1,286.3M183.3,282.9L181.7,281.2M187.8,272.9L185.1,273.4M185.1,273.4L178.4,275.6M173.5,289.2L168.8,286.9M169.5,274.2L168.3,282.0M169.5,274.2L175.3,274.9M168.8,286.9L168.3,282.0M194.8,268.1L192.4,266.3M185.1,273.4L183.9,262.9M183.9,262.9L192.4,266.3M177.5,275.2L183.1,262.5M183.9,262.9L183.1,262.5M190.0,256.7L189.7,257.1M189.7,257.1L192.4,266.3M68.3,258.1L100.9,254.1M100.9,254.1L106.8,246.5M106.8,246.5L107.6,234.5M109.8,265.5L107.8,266.6M109.8,265.5L115.8,269.9M110.6,279.6L116.4,276.0M116.4,276.0L115.8,269.9M177.7,123.6L177.3,130.0M135.3,94.0L142.4,238.6M177.3,130.0L166.0,219.9M142.4,238.6L153.3,247.1M166.0,219.9L153.3,247.1M186.0,246.6L181.8,248.0M189.2,253.4L183.0,252.4M181.8,248.0L183.0,252.4M189.7,257.1L181.9,259.1M183.0,252.4L181.9,259.1M183.1,262.5L181.5,259.8M181.9,259.1L181.5,259.8M126.7,289.8L118.8,290.7M126.7,289.8L120.8,281.1M120.8,281.1L118.8,290.7M118.8,290.7L118.8,290.7M119.2,276.6L116.4,276.0M119.2,276.6L120.8,281.1M127.0,290.2L130.9,293.2M127.0,290.2L124.3,298.6M125.4,305.1L124.3,298.6M125.4,305.1L131.3,294.8M131.3,294.8L130.9,293.2M120.0,296.1L124.3,298.6M126.8,289.9L127.0,290.2M126.8,289.9L126.7,289.8M135.3,299.6L137.2,291.9M135.3,299.6L131.3,294.8M137.2,291.9L136.8,291.7M136.8,291.7L130.9,293.2M176.7,298.4L167.5,296.2M168.8,286.9L166.2,290.0M167.5,296.2L166.2,290.0M168.3,282.0L154.7,285.6M154.7,285.6L151.6,292.8M166.2,290.0L151.6,292.8M154.7,285.6L155.3,278.1M155.3,278.1L149.0,277.9M149.0,277.9L146.9,288.4M146.9,288.4L150.8,293.6M151.6,292.8L150.8,293.6M148.9,266.3L145.9,276.5M148.9,266.3L133.9,277.5M145.9,276.5L138.9,280.2M138.9,280.2L135.3,279.2M135.3,279.2L134.6,278.8M133.9,277.5L134.6,278.8M149.0,277.9L145.9,276.5M146.9,288.4L138.9,280.2M126.8,289.9L134.6,278.8M136.8,291.7L135.3,279.2M133.4,276.9L126.4,275.2M133.4,276.9L133.9,277.5M126.4,275.2L119.2,276.6M106.8,246.5L113.3,246.9M107.6,234.5L109.4,236.9M113.3,246.9L109.4,236.9M100.9,254.1L102.9,254.8M113.3,246.9L117.7,249.1M117.7,249.1L117.1,250.4M117.1,250.4L102.9,254.8M109.8,265.5L109.8,260.0M109.8,260.0L102.9,254.8M169.5,274.2L168.7,273.3M181.5,259.8L171.5,260.0M171.5,260.0L168.7,273.3M155.3,278.1L159.4,272.0M168.7,273.3L159.4,272.0M149.6,265.2L156.2,268.6M149.6,265.2L148.9,266.3M159.4,272.0L156.2,268.6M144.2,254.5L153.3,247.1M144.2,254.5L147.1,262.1M147.1,262.1L148.0,262.4M148.0,262.4L156.4,251.3M156.4,251.3L156.3,249.4M156.3,249.4L153.3,247.1M142.4,238.6L140.0,243.0M140.0,243.0L141.4,249.8M141.4,249.8L144.2,254.5M153.3,247.1L153.3,247.1M166.0,219.9L163.7,244.4M163.7,244.4L156.3,249.4M138.0,257.9L134.9,257.2M138.0,257.9L138.4,254.4M138.4,254.4L134.0,254.0M134.9,257.2L134.0,254.0M142.5,262.4L138.0,257.9M142.5,262.4L147.1,262.1M141.4,249.8L138.4,254.4M181.8,248.0L180.9,247.4M171.5,260.0L170.5,258.3M170.5,258.3L171.6,251.1M171.6,251.1L180.9,247.4M167.2,296.8L150.6,294.5M167.2,296.8L149.3,335.8M149.3,335.8L148.7,325.7M148.7,325.7L150.2,295.4M150.2,295.4L150.6,294.5M167.5,296.2L167.2,296.8M150.8,293.6L150.6,294.5M135.3,299.6L148.7,325.7M137.2,291.9L150.2,295.4M117.1,250.4L117.3,256.6M109.8,260.0L114.7,259.0M114.7,259.0L117.3,256.6M156.5,251.4L160.4,261.2M156.5,251.4L168.4,258.0M168.4,258.0L160.4,261.2M149.6,265.2L148.0,262.4M156.2,268.6L160.4,261.2M156.4,251.3L156.5,251.4M163.7,244.4L169.1,247.6M170.5,258.3L168.4,258.0M169.1,247.6L171.6,251.1M177.9,219.9L171.0,245.2M177.9,219.9L178.9,240.1M178.9,240.1L171.0,245.2M177.3,130.0L177.9,219.9M169.1,247.6L171.0,245.2M180.9,247.4L178.9,240.1M117.7,244.3L118.2,247.6M117.7,244.3L123.9,226.3M118.2,247.6L125.2,240.1M123.9,226.3L125.2,240.1M109.4,236.9L117.7,244.3M117.7,249.1L118.1,248.8M118.1,248.8L118.2,247.6M135.3,94.0L123.9,226.3M127.2,251.0L121.1,249.2M127.2,251.0L130.5,249.6M121.1,249.2L126.1,242.0M126.1,242.0L131.8,248.2M130.5,249.6L131.0,249.2M131.8,248.2L131.0,249.2M125.9,257.0L122.3,259.4M125.9,257.0L127.2,251.0M118.1,248.8L121.1,249.2M122.3,259.4L117.3,256.6M125.9,257.0L128.8,259.2M128.8,259.2L131.4,259.1M131.4,259.1L130.5,249.6M125.2,240.1L126.1,242.0M140.0,243.0L131.8,248.2M134.9,257.2L132.5,259.4M134.0,254.0L131.0,249.2M131.4,259.1L132.5,259.4M129.1,264.6L133.5,262.4M129.1,264.6L134.2,272.0M133.5,262.4L137.7,265.0M134.2,272.0L137.7,265.0M128.0,264.2L128.8,259.2M128.0,264.2L129.1,264.6M132.5,259.4L133.5,262.4M142.5,262.4L137.7,265.0M133.4,276.9L134.2,272.0M122.4,261.0L117.3,265.7M122.4,261.0L125.4,265.1M125.1,265.8L116.8,268.2M125.1,265.8L125.4,265.1M116.8,268.2L117.3,265.7M122.3,259.4L122.4,261.0M114.7,259.0L117.3,265.7M128.0,264.2L125.4,265.1M126.4,275.2L125.1,265.8M115.8,269.9L116.8,268.2" fill="none" stroke="#e6c488" stroke-width="0.5" opacity="0.9"/></g>
<g clip-path="url(#fatClip)" fill="#c49858" opacity="0.65"><circle cx="200.8" cy="324.3" r="0.6"/><circle cx="161.3" cy="318.6" r="0.8"/><circle cx="206.0" cy="337.8" r="0.8"/><circle cx="121.4" cy="316.9" r="0.6"/><circle cx="181.5" cy="315.9" r="0.9"/><circle cx="131.9" cy="295.1" r="0.6"/><circle cx="125.7" cy="319.7" r="0.8"/><circle cx="149.1" cy="306.6" r="1.0"/><circle cx="173.5" cy="308.4" r="0.9"/><circle cx="193.2" cy="339.3" r="0.6"/><circle cx="169.1" cy="327.8" r="0.9"/><circle cx="228.4" cy="321.8" r="0.6"/><circle cx="121.1" cy="289.0" r="1.0"/><circle cx="183.7" cy="335.2" r="0.7"/><circle cx="221.9" cy="330.7" r="0.6"/><circle cx="210.0" cy="341.7" r="0.6"/><circle cx="185.5" cy="325.3" r="0.6"/><circle cx="154.8" cy="298.8" r="0.6"/><circle cx="139.4" cy="311.7" r="0.8"/><circle cx="132.5" cy="285.6" r="0.7"/><circle cx="196.6" cy="314.7" r="0.7"/><circle cx="132.5" cy="317.7" r="0.8"/><circle cx="113.5" cy="282.6" r="0.7"/><circle cx="179.3" cy="324.2" r="0.5"/><circle cx="127.1" cy="312.2" r="0.7"/><circle cx="143.2" cy="301.3" r="1.0"/><circle cx="147.2" cy="312.6" r="0.7"/><circle cx="161.2" cy="327.5" r="1.0"/><circle cx="154.1" cy="300.6" r="0.9"/><circle cx="132.5" cy="285.4" r="1.0"/><circle cx="162.2" cy="326.2" r="0.7"/><circle cx="224.2" cy="331.7" r="0.6"/><circle cx="107.0" cy="300.4" r="0.8"/><circle cx="227.8" cy="322.9" r="0.8"/><circle cx="155.1" cy="312.5" r="0.6"/><circle cx="143.2" cy="309.7" r="1.0"/><circle cx="119.7" cy="301.4" r="0.9"/><circle cx="235.5" cy="328.4" r="0.6"/><circle cx="232.3" cy="347.7" r="0.7"/><circle cx="112.2" cy="318.4" r="0.7"/><circle cx="227.1" cy="336.9" r="0.9"/><circle cx="126.6" cy="315.9" r="0.6"/><circle cx="159.6" cy="326.5" r="0.9"/><circle cx="129.7" cy="293.2" r="0.7"/><circle cx="174.9" cy="314.2" r="0.6"/><circle cx="138.4" cy="316.4" r="0.9"/><circle cx="110.5" cy="301.9" r="0.9"/><circle cx="110.1" cy="314.0" r="0.6"/><circle cx="185.9" cy="323.1" r="0.8"/><circle cx="146.3" cy="306.6" r="0.8"/><circle cx="162.5" cy="320.3" r="0.7"/><circle cx="164.2" cy="297.8" r="0.8"/><circle cx="171.1" cy="307.8" r="0.9"/><circle cx="210.3" cy="327.5" r="0.6"/><circle cx="168.9" cy="302.5" r="0.6"/><circle cx="163.1" cy="299.9" r="0.7"/><circle cx="173.9" cy="301.9" r="0.8"/><circle cx="116.1" cy="310.9" r="0.9"/><circle cx="174.1" cy="302.5" r="0.8"/><circle cx="156.0" cy="329.5" r="0.6"/><circle cx="220.7" cy="345.6" r="0.9"/><circle cx="215.0" cy="321.3" r="1.0"/><circle cx="171.4" cy="333.2" r="1.0"/><circle cx="127.3" cy="316.1" r="1.0"/><circle cx="113.8" cy="293.6" r="0.9"/><circle cx="126.4" cy="320.4" r="0.6"/><circle cx="215.1" cy="319.9" r="0.8"/><circle cx="229.2" cy="326.5" r="0.6"/><circle cx="173.3" cy="311.4" r="0.5"/><circle cx="129.6" cy="290.8" r="1.0"/><circle cx="196.8" cy="337.1" r="0.6"/><circle cx="211.0" cy="317.6" r="0.8"/><circle cx="190.9" cy="318.4" r="0.9"/><circle cx="179.9" cy="322.4" r="0.9"/><circle cx="119.1" cy="322.8" r="0.8"/><circle cx="158.2" cy="324.3" r="0.6"/><circle cx="238.7" cy="339.1" r="0.7"/><circle cx="208.2" cy="326.4" r="0.6"/><circle cx="205.4" cy="313.6" r="0.9"/><circle cx="139.2" cy="313.2" r="1.0"/><circle cx="184.1" cy="326.4" r="0.7"/><circle cx="105.2" cy="276.6" r="0.6"/><circle cx="188.2" cy="319.9" r="0.8"/><circle cx="225.9" cy="323.4" r="0.6"/><circle cx="193.2" cy="308.4" r="0.5"/><circle cx="152.9" cy="296.8" r="0.7"/><circle cx="135.3" cy="309.9" r="0.8"/><circle cx="132.6" cy="310.7" r="0.7"/><circle cx="123.2" cy="321.4" r="0.6"/><circle cx="125.2" cy="286.5" r="0.8"/><circle cx="222.6" cy="340.1" r="0.7"/><circle cx="140.7" cy="288.7" r="0.8"/><circle cx="180.9" cy="314.9" r="0.8"/><circle cx="164.9" cy="331.0" r="0.9"/><circle cx="138.5" cy="323.6" r="0.5"/><circle cx="176.8" cy="315.5" r="0.6"/><circle cx="112.9" cy="312.1" r="0.5"/><circle cx="179.4" cy="334.5" r="0.6"/><circle cx="131.9" cy="309.9" r="0.8"/><circle cx="191.6" cy="333.2" r="0.6"/><circle cx="146.8" cy="302.1" r="0.5"/><circle cx="225.1" cy="340.8" r="0.9"/><circle cx="105.9" cy="313.2" r="0.9"/><circle cx="167.8" cy="324.7" r="0.7"/><circle cx="135.5" cy="290.6" r="0.6"/><circle cx="110.2" cy="291.8" r="0.9"/><circle cx="198.8" cy="336.0" r="0.9"/><circle cx="140.9" cy="310.3" r="0.7"/><circle cx="211.4" cy="329.7" r="0.6"/><circle cx="191.7" cy="338.1" r="0.6"/><circle cx="223.8" cy="319.4" r="0.6"/><circle cx="136.9" cy="316.8" r="1.0"/><circle cx="205.7" cy="322.1" r="0.9"/><circle cx="149.4" cy="300.6" r="1.0"/><circle cx="190.1" cy="329.0" r="0.8"/><circle cx="237.2" cy="335.9" r="0.9"/><circle cx="199.2" cy="336.5" r="0.7"/><circle cx="202.8" cy="328.6" r="0.7"/><circle cx="133.6" cy="311.0" r="0.5"/><circle cx="228.0" cy="324.4" r="0.5"/><circle cx="119.4" cy="320.2" r="0.7"/><circle cx="124.1" cy="283.3" r="0.5"/><circle cx="198.5" cy="329.4" r="0.8"/><circle cx="204.5" cy="313.8" r="0.8"/><circle cx="154.1" cy="324.0" r="0.9"/><circle cx="225.3" cy="321.4" r="0.9"/><circle cx="228.4" cy="345.9" r="0.6"/><circle cx="132.8" cy="289.9" r="0.5"/><circle cx="219.4" cy="340.2" r="0.8"/><circle cx="216.4" cy="334.3" r="0.6"/></g>
<circle cx="116.0" cy="253.4" r="0.7" fill="#c49858" opacity="0.6"/>
<circle cx="155.4" cy="272.4" r="0.7" fill="#c49858" opacity="0.6"/>
<circle cx="129.1" cy="261.5" r="0.7" fill="#c49858" opacity="0.6"/>
<circle cx="111.3" cy="252.1" r="0.7" fill="#c49858" opacity="0.6"/>
<circle cx="127.0" cy="262.2" r="0.7" fill="#c49858" opacity="0.6"/>
<circle cx="132.1" cy="262.2" r="0.7" fill="#c49858" opacity="0.6"/>
<circle cx="167.8" cy="280.0" r="0.7" fill="#c49858" opacity="0.6"/>
<circle cx="161.1" cy="277.5" r="0.7" fill="#c49858" opacity="0.6"/>
<circle cx="111.9" cy="253.3" r="0.7" fill="#c49858" opacity="0.6"/>
<circle cx="136.2" cy="266.9" r="0.7" fill="#c49858" opacity="0.6"/>
<circle cx="130.8" cy="263.9" r="0.7" fill="#c49858" opacity="0.6"/>
<circle cx="142.3" cy="266.4" r="0.7" fill="#c49858" opacity="0.6"/>
<circle cx="161.7" cy="274.7" r="0.7" fill="#c49858" opacity="0.6"/>
<circle cx="159.2" cy="274.0" r="0.7" fill="#c49858" opacity="0.6"/>
<path d="M80,225 L180,225 L180,246 L120,310 L80,310 Z" fill="url(#fadeL)"/>
<path d="M80,228 L200,228 L200,252 L80,252 Z" fill="url(#fadeT)"/>
<circle cx="90" cy="236" r="42" fill="url(#fadeR)"/>
<rect x="160.5" y="273.8" width="27" height="16.7" fill="none" stroke="#7a3b2c" stroke-width="0.8"/>
<g clip-path="url(#circClip)"><g filter="url(#soft)">
<rect x="170" y="180" width="95" height="80" fill="#fcf6f2"/>
<path d="M205,236 L265,240 L265,262 L200,262 Z" fill="#f5e4dc"/>
<path d="M170,230 L205,233 C215,240 228,250 240,258 L236,262 L170,262 Z" fill="#f4dca6"/>
<path d="M170,208 L176,210 C182,214 188,218 192.8,219.5 C198,222 203,224 208,225.5 C214,229 220,234 223,237.7 L223,243.7 C214,238 208,234 205,233 L170,230 Z" fill="#ebaea6"/>
<path d="M175,210 L184.7,199.5 L197.3,193 L209.5,191.5 L220,194.5 L233.7,204.3 L249,213.4 L259.5,221 L258,225.5 L245.9,219.5 L230.7,213.4 L215.5,208.8 L203.4,206.6 L195.8,209.6 L189.7,216.4 L185.2,220.2 L170,221 L170,212 Z" fill="#f3c2a0"/>
<path d="M191.2,214.9 L195.8,210.3 L203.4,208.1 L215.5,209.6 L230.7,214.1 L245.9,220.2 L261,227 L261,236.1 L248.9,240.7 L230.7,230.1 L208,224 L194.3,219.5 Z" fill="#f4e2ea"/>
<path d="M206,226 L211.5,220 L248,238.5 L243,247 Z" fill="#dc7a80"/>
<line x1="211.0" y1="221.6" x2="247.0" y2="239.8" stroke="#f4c4c8" stroke-width="0.45"/>
<line x1="210.2" y1="223.2" x2="246.2" y2="241.4" stroke="#f4c4c8" stroke-width="0.45"/>
<line x1="209.4" y1="224.79999999999998" x2="245.4" y2="243.0" stroke="#f4c4c8" stroke-width="0.45"/>
<line x1="208.6" y1="226.4" x2="244.6" y2="244.60000000000002" stroke="#f4c4c8" stroke-width="0.45"/>
<line x1="207.8" y1="228.0" x2="243.8" y2="246.20000000000002" stroke="#f4c4c8" stroke-width="0.45"/>
<circle cx="175.1" cy="238.1" r="0.8" fill="#c8a050" opacity="0.7"/>
<circle cx="204.4" cy="245.3" r="0.8" fill="#c8a050" opacity="0.7"/>
<circle cx="186.1" cy="245.4" r="0.6" fill="#c8a050" opacity="0.7"/>
<circle cx="187.9" cy="250.5" r="0.7" fill="#c8a050" opacity="0.7"/>
<circle cx="181.6" cy="248.9" r="0.5" fill="#c8a050" opacity="0.7"/>
<circle cx="222.3" cy="250.4" r="0.8" fill="#c8a050" opacity="0.7"/>
<circle cx="212.7" cy="241.9" r="0.7" fill="#c8a050" opacity="0.7"/>
<circle cx="198.7" cy="255.3" r="0.5" fill="#c8a050" opacity="0.7"/>
<circle cx="187.4" cy="239.6" r="0.9" fill="#c8a050" opacity="0.7"/>
<circle cx="205.1" cy="242.5" r="0.9" fill="#c8a050" opacity="0.7"/>
<circle cx="189.0" cy="244.5" r="0.7" fill="#c8a050" opacity="0.7"/>
<circle cx="220.3" cy="251.8" r="0.8" fill="#c8a050" opacity="0.7"/>
<circle cx="195.9" cy="241.2" r="0.6" fill="#c8a050" opacity="0.7"/>
<circle cx="225.6" cy="249.6" r="0.8" fill="#c8a050" opacity="0.7"/>
<circle cx="185.2" cy="244.0" r="0.8" fill="#c8a050" opacity="0.7"/>
<circle cx="202.7" cy="255.1" r="0.6" fill="#c8a050" opacity="0.7"/>
<circle cx="186.5" cy="240.5" r="0.8" fill="#c8a050" opacity="0.7"/>
<circle cx="184.4" cy="239.2" r="0.6" fill="#c8a050" opacity="0.7"/>
<circle cx="194.7" cy="237.7" r="0.9" fill="#c8a050" opacity="0.7"/>
<circle cx="198.1" cy="257.6" r="0.8" fill="#c8a050" opacity="0.7"/>
<circle cx="219.0" cy="243.9" r="0.6" fill="#c8a050" opacity="0.7"/>
</g></g>
<ellipse cx="217" cy="221" rx="44" ry="35" fill="none" stroke="#8c8c8c" stroke-width="0.7"/>
<g clip-path="url(#xsClip)"><g filter="url(#soft)">
<rect x="100" y="370" width="180" height="80" fill="#f2d3d7"/>
<path d="M100,376 L280,376 L280,386 L160,386.5 C150,387 145,391 143.5,393.5 L100,391.5 Z" fill="#fbf4f4"/>
<rect x="100" y="376" width="180" height="2.8" fill="#ece2e4"/>
<path d="M100,429 L200,428 C220,434 240,440 280,444 L280,450 L100,450 Z" fill="#f6e2e4"/>
<path d="M150,390 L280,389 L280,400 L190,400 C175,398 160,394 150,392 Z" fill="#f4dcd8"/>
<path d="M143.5,393.5 C147,389 151,386.5 158,386 L280,385 L280,389.5 L160,390 C154,390.5 150,392 146,395.5 Z" fill="#e7a0a9"/>
<path d="M144,396 C152,393 162,395 175,399 C195,406 212,416 228,424 L246,433 C232,432 218,428 205,422 C185,413 165,404 144,398 Z" fill="#eaaab2"/>
<path d="M105,391.8 C120,393 135,395.5 145,398.5 C162,404 180,414 195,422 C205,427 212,429 220,430 L219,433.5 C210,433 202,430 192,425.5 C176,417 160,409 143,402 C132,398.5 118,396.5 105,395.5 Z" fill="#fbf0e2" stroke="#e2959d" stroke-width="0.6"/>
<path d="M200,432 C215,437 235,440 255,442 L280,443 L280,446 L200,438 Z" fill="#ebb6bc" opacity="0.8"/>
</g>
<ellipse cx="212.9" cy="403.9" rx="1.7" ry="0.55" fill="#d38c96" opacity="0.45"/>
<ellipse cx="171.5" cy="400.6" rx="2.1" ry="0.55" fill="#d38c96" opacity="0.45"/>
<ellipse cx="238.3" cy="430.9" rx="2.3" ry="0.55" fill="#d38c96" opacity="0.45"/>
<ellipse cx="212.0" cy="420.3" rx="1.5" ry="0.55" fill="#d38c96" opacity="0.45"/>
<ellipse cx="207.2" cy="417.6" rx="2.8" ry="0.55" fill="#d38c96" opacity="0.45"/>
<ellipse cx="257.7" cy="418.8" rx="2.5" ry="0.55" fill="#d38c96" opacity="0.45"/>
<ellipse cx="231.4" cy="418.4" rx="1.7" ry="0.55" fill="#d38c96" opacity="0.45"/>
<ellipse cx="226.9" cy="439.5" rx="2.9" ry="0.55" fill="#d38c96" opacity="0.45"/>
<ellipse cx="223.2" cy="438.2" rx="2.7" ry="0.55" fill="#d38c96" opacity="0.45"/>
<ellipse cx="213.5" cy="419.9" rx="1.9" ry="0.55" fill="#d38c96" opacity="0.45"/>
<ellipse cx="211.3" cy="403.5" rx="2.1" ry="0.55" fill="#d38c96" opacity="0.45"/>
<ellipse cx="236.9" cy="431.8" rx="2.6" ry="0.55" fill="#d38c96" opacity="0.45"/>
<ellipse cx="148.5" cy="418.5" rx="2.2" ry="0.55" fill="#d38c96" opacity="0.45"/>
<ellipse cx="210.2" cy="417.8" rx="2.7" ry="0.55" fill="#d38c96" opacity="0.45"/>
<ellipse cx="261.4" cy="407.4" rx="2.6" ry="0.55" fill="#d38c96" opacity="0.45"/>
<ellipse cx="236.2" cy="416.9" rx="2.3" ry="0.55" fill="#d38c96" opacity="0.45"/>
<ellipse cx="268.8" cy="400.8" rx="2.4" ry="0.55" fill="#d38c96" opacity="0.45"/>
<ellipse cx="133.7" cy="435.0" rx="3.3" ry="0.55" fill="#d38c96" opacity="0.45"/>
<ellipse cx="193.2" cy="403.7" rx="2.5" ry="0.55" fill="#d38c96" opacity="0.45"/>
<ellipse cx="196.8" cy="432.0" rx="2.3" ry="0.55" fill="#d38c96" opacity="0.45"/>
<ellipse cx="213.1" cy="437.1" rx="2.3" ry="0.55" fill="#d38c96" opacity="0.45"/>
<ellipse cx="175.1" cy="442.6" rx="1.7" ry="0.55" fill="#d38c96" opacity="0.45"/>
<ellipse cx="220.6" cy="417.1" rx="2.9" ry="0.55" fill="#d38c96" opacity="0.45"/>
<ellipse cx="127.3" cy="444.3" rx="2.0" ry="0.55" fill="#d38c96" opacity="0.45"/>
<ellipse cx="116.4" cy="411.6" rx="2.1" ry="0.55" fill="#d38c96" opacity="0.45"/>
<ellipse cx="109.2" cy="418.3" rx="2.1" ry="0.55" fill="#d38c96" opacity="0.45"/>
<ellipse cx="222.9" cy="415.2" rx="1.8" ry="0.55" fill="#d38c96" opacity="0.45"/>
<ellipse cx="144.3" cy="433.1" rx="3.3" ry="0.55" fill="#d38c96" opacity="0.45"/>
<ellipse cx="194.5" cy="409.1" rx="3.0" ry="0.55" fill="#d38c96" opacity="0.45"/>
<ellipse cx="172.1" cy="408.8" rx="1.5" ry="0.55" fill="#d38c96" opacity="0.45"/>
<ellipse cx="235.9" cy="436.2" rx="2.6" ry="0.55" fill="#d38c96" opacity="0.45"/>
<ellipse cx="184.9" cy="424.9" rx="1.7" ry="0.55" fill="#d38c96" opacity="0.45"/>
<ellipse cx="267.0" cy="415.2" rx="2.6" ry="0.55" fill="#d38c96" opacity="0.45"/>
<ellipse cx="242.9" cy="436.5" rx="2.2" ry="0.55" fill="#d38c96" opacity="0.45"/>
<ellipse cx="155.9" cy="424.2" rx="1.5" ry="0.55" fill="#d38c96" opacity="0.45"/>
<ellipse cx="245.4" cy="415.3" rx="3.1" ry="0.55" fill="#d38c96" opacity="0.45"/>
<ellipse cx="151.4" cy="416.3" rx="1.8" ry="0.55" fill="#d38c96" opacity="0.45"/>
<ellipse cx="177.7" cy="407.6" rx="1.2" ry="0.55" fill="#d38c96" opacity="0.45"/>
<ellipse cx="226.8" cy="411.9" rx="1.7" ry="0.55" fill="#d38c96" opacity="0.45"/>
<ellipse cx="157.1" cy="421.1" rx="2.1" ry="0.55" fill="#d38c96" opacity="0.45"/>
<ellipse cx="212.8" cy="429.3" rx="2.0" ry="0.55" fill="#d38c96" opacity="0.45"/>
<ellipse cx="261.2" cy="438.3" rx="1.3" ry="0.55" fill="#d38c96" opacity="0.45"/>
<ellipse cx="244.4" cy="440.7" rx="2.9" ry="0.55" fill="#d38c96" opacity="0.45"/>
<ellipse cx="130.3" cy="437.2" rx="2.6" ry="0.55" fill="#d38c96" opacity="0.45"/>
<ellipse cx="109.5" cy="399.5" rx="3.3" ry="0.55" fill="#d38c96" opacity="0.45"/>
<ellipse cx="215.9" cy="410.5" rx="1.4" ry="0.55" fill="#d38c96" opacity="0.45"/>
<ellipse cx="130.7" cy="409.7" rx="2.9" ry="0.55" fill="#d38c96" opacity="0.45"/>
<ellipse cx="164.5" cy="406.0" rx="3.2" ry="0.55" fill="#d38c96" opacity="0.45"/>
<ellipse cx="238.4" cy="406.7" rx="3.2" ry="0.55" fill="#d38c96" opacity="0.45"/>
<ellipse cx="208.0" cy="434.9" rx="2.7" ry="0.55" fill="#d38c96" opacity="0.45"/>
<ellipse cx="255.4" cy="435.3" rx="3.0" ry="0.55" fill="#d38c96" opacity="0.45"/>
<ellipse cx="139.8" cy="430.9" rx="2.4" ry="0.55" fill="#d38c96" opacity="0.45"/>
<ellipse cx="230.2" cy="419.2" rx="3.1" ry="0.55" fill="#d38c96" opacity="0.45"/>
<ellipse cx="199.1" cy="411.2" rx="1.7" ry="0.55" fill="#d38c96" opacity="0.45"/>
<ellipse cx="130.1" cy="421.7" rx="1.3" ry="0.55" fill="#d38c96" opacity="0.45"/>
<ellipse cx="184.5" cy="405.6" rx="2.3" ry="0.55" fill="#d38c96" opacity="0.45"/>
<ellipse cx="189.7" cy="423.8" rx="3.1" ry="0.55" fill="#d38c96" opacity="0.45"/>
<ellipse cx="108.1" cy="437.7" rx="2.2" ry="0.55" fill="#d38c96" opacity="0.45"/>
<ellipse cx="200.4" cy="429.6" rx="3.0" ry="0.55" fill="#d38c96" opacity="0.45"/>
<ellipse cx="169.2" cy="418.3" rx="3.3" ry="0.55" fill="#d38c96" opacity="0.45"/>
<ellipse cx="119.5" cy="428.3" rx="2.6" ry="0.55" fill="#d38c96" opacity="0.45"/>
<ellipse cx="111.7" cy="427.0" rx="2.7" ry="0.55" fill="#d38c96" opacity="0.45"/>
<ellipse cx="261.6" cy="414.2" rx="3.4" ry="0.55" fill="#d38c96" opacity="0.45"/>
<ellipse cx="191.8" cy="421.3" rx="3.2" ry="0.55" fill="#d38c96" opacity="0.45"/>
<ellipse cx="112.6" cy="432.0" rx="2.6" ry="0.55" fill="#d38c96" opacity="0.45"/>
<ellipse cx="163.2" cy="438.6" rx="2.0" ry="0.55" fill="#d38c96" opacity="0.45"/>
<ellipse cx="185.8" cy="423.2" rx="2.9" ry="0.55" fill="#d38c96" opacity="0.45"/>
<ellipse cx="142.0" cy="419.0" rx="2.1" ry="0.55" fill="#d38c96" opacity="0.45"/>
<ellipse cx="199.0" cy="437.0" rx="1.8" ry="0.55" fill="#d38c96" opacity="0.45"/>
<ellipse cx="244.4" cy="417.6" rx="2.3" ry="0.55" fill="#d38c96" opacity="0.45"/>
<ellipse cx="152.1" cy="422.3" rx="3.3" ry="0.55" fill="#d38c96" opacity="0.45"/>
<ellipse cx="215.7" cy="435.4" rx="1.9" ry="0.55" fill="#d38c96" opacity="0.45"/>
<ellipse cx="159.6" cy="412.8" rx="2.5" ry="0.55" fill="#d38c96" opacity="0.45"/>
<ellipse cx="212.4" cy="435.1" rx="1.3" ry="0.55" fill="#d38c96" opacity="0.45"/>
<ellipse cx="227.0" cy="439.7" rx="2.4" ry="0.55" fill="#d38c96" opacity="0.45"/>
<ellipse cx="115.3" cy="412.8" rx="1.2" ry="0.55" fill="#d38c96" opacity="0.45"/>
<ellipse cx="138.5" cy="441.4" rx="2.5" ry="0.55" fill="#d38c96" opacity="0.45"/>
<ellipse cx="216.2" cy="435.3" rx="3.2" ry="0.55" fill="#d38c96" opacity="0.45"/>
<ellipse cx="208.5" cy="427.4" rx="2.6" ry="0.55" fill="#d38c96" opacity="0.45"/>
<ellipse cx="222.6" cy="426.4" rx="2.7" ry="0.55" fill="#d38c96" opacity="0.45"/>
<ellipse cx="142.3" cy="429.7" rx="2.2" ry="0.55" fill="#d38c96" opacity="0.45"/>
<ellipse cx="233.6" cy="403.7" rx="1.6" ry="0.55" fill="#d38c96" opacity="0.45"/>
<ellipse cx="113.1" cy="434.6" rx="3.2" ry="0.55" fill="#d38c96" opacity="0.45"/>
<ellipse cx="215.8" cy="416.0" rx="3.0" ry="0.55" fill="#d38c96" opacity="0.45"/>
<ellipse cx="237.6" cy="424.9" rx="1.8" ry="0.55" fill="#d38c96" opacity="0.45"/>
<ellipse cx="157.1" cy="418.4" rx="1.9" ry="0.55" fill="#d38c96" opacity="0.45"/>
<ellipse cx="178.5" cy="428.5" rx="3.3" ry="0.55" fill="#d38c96" opacity="0.45"/>
<ellipse cx="116.1" cy="425.1" rx="1.3" ry="0.55" fill="#d38c96" opacity="0.45"/>
<ellipse cx="126.7" cy="436.3" rx="2.5" ry="0.55" fill="#d38c96" opacity="0.45"/>
<ellipse cx="259.5" cy="419.5" rx="1.2" ry="0.55" fill="#d38c96" opacity="0.45"/>
<circle cx="197.6" cy="395.9" r="1.1" fill="none" stroke="#e0a8ae" stroke-width="0.4"/>
<circle cx="270.6" cy="394.8" r="0.8" fill="none" stroke="#e0a8ae" stroke-width="0.4"/>
<circle cx="162.6" cy="396.4" r="0.7" fill="none" stroke="#e0a8ae" stroke-width="0.4"/>
<circle cx="168.7" cy="390.2" r="0.6" fill="none" stroke="#e0a8ae" stroke-width="0.4"/>
<circle cx="234.1" cy="391.2" r="1.1" fill="none" stroke="#e0a8ae" stroke-width="0.4"/>
<circle cx="160.8" cy="398.7" r="0.7" fill="none" stroke="#e0a8ae" stroke-width="0.4"/>
<circle cx="152.2" cy="397.2" r="0.7" fill="none" stroke="#e0a8ae" stroke-width="0.4"/>
<circle cx="240.2" cy="391.9" r="0.6" fill="none" stroke="#e0a8ae" stroke-width="0.4"/>
<circle cx="245.2" cy="397.1" r="1.0" fill="none" stroke="#e0a8ae" stroke-width="0.4"/>
<circle cx="239.8" cy="390.8" r="0.9" fill="none" stroke="#e0a8ae" stroke-width="0.4"/>
<circle cx="237.2" cy="394.6" r="1.1" fill="none" stroke="#e0a8ae" stroke-width="0.4"/>
<circle cx="181.2" cy="399.6" r="1.0" fill="none" stroke="#e0a8ae" stroke-width="0.4"/>
<circle cx="151.4" cy="390.1" r="0.9" fill="none" stroke="#e0a8ae" stroke-width="0.4"/>
<circle cx="250.5" cy="390.8" r="0.8" fill="none" stroke="#e0a8ae" stroke-width="0.4"/>
<circle cx="239.7" cy="391.7" r="1.0" fill="none" stroke="#e0a8ae" stroke-width="0.4"/>
<circle cx="209.8" cy="390.6" r="0.8" fill="none" stroke="#e0a8ae" stroke-width="0.4"/>
<circle cx="220.7" cy="394.4" r="0.9" fill="none" stroke="#e0a8ae" stroke-width="0.4"/>
<circle cx="167.8" cy="398.0" r="0.8" fill="none" stroke="#e0a8ae" stroke-width="0.4"/>
<circle cx="229.3" cy="396.3" r="0.8" fill="none" stroke="#e0a8ae" stroke-width="0.4"/>
<circle cx="197.4" cy="397.9" r="1.1" fill="none" stroke="#e0a8ae" stroke-width="0.4"/>
<circle cx="246.5" cy="395.7" r="0.7" fill="none" stroke="#e0a8ae" stroke-width="0.4"/>
<circle cx="157.5" cy="399.7" r="1.0" fill="none" stroke="#e0a8ae" stroke-width="0.4"/>
<circle cx="251.8" cy="393.3" r="0.9" fill="none" stroke="#e0a8ae" stroke-width="0.4"/>
<circle cx="270.2" cy="398.3" r="0.9" fill="none" stroke="#e0a8ae" stroke-width="0.4"/>
<circle cx="188.0" cy="394.3" r="1.0" fill="none" stroke="#e0a8ae" stroke-width="0.4"/>
<circle cx="196.3" cy="396.8" r="0.9" fill="none" stroke="#e0a8ae" stroke-width="0.4"/>
<circle cx="260.2" cy="398.1" r="0.7" fill="none" stroke="#e0a8ae" stroke-width="0.4"/>
<circle cx="150.2" cy="392.6" r="0.8" fill="none" stroke="#e0a8ae" stroke-width="0.4"/>
<circle cx="222.2" cy="398.2" r="1.0" fill="none" stroke="#e0a8ae" stroke-width="0.4"/>
<circle cx="155.2" cy="398.3" r="1.0" fill="none" stroke="#e0a8ae" stroke-width="0.4"/>
<circle cx="256.7" cy="395.7" r="0.7" fill="none" stroke="#e0a8ae" stroke-width="0.4"/>
<circle cx="254.7" cy="398.1" r="0.9" fill="none" stroke="#e0a8ae" stroke-width="0.4"/>
<circle cx="262.4" cy="393.5" r="0.6" fill="none" stroke="#e0a8ae" stroke-width="0.4"/>
<circle cx="218.1" cy="398.0" r="0.7" fill="none" stroke="#e0a8ae" stroke-width="0.4"/>
<circle cx="242.3" cy="399.3" r="0.7" fill="none" stroke="#e0a8ae" stroke-width="0.4"/>
<circle cx="224.6" cy="396.8" r="0.8" fill="none" stroke="#e0a8ae" stroke-width="0.4"/>
<circle cx="175.4" cy="392.5" r="1.0" fill="none" stroke="#e0a8ae" stroke-width="0.4"/>
<circle cx="247.4" cy="394.6" r="0.6" fill="none" stroke="#e0a8ae" stroke-width="0.4"/>
<circle cx="249.2" cy="397.7" r="0.7" fill="none" stroke="#e0a8ae" stroke-width="0.4"/>
<circle cx="221.3" cy="399.0" r="1.0" fill="none" stroke="#e0a8ae" stroke-width="0.4"/>
<path d="M275.5,421 A5,5 0 0 0 275.5,431" fill="none" stroke="#c8707c" stroke-width="0.9"/>
</g>
<rect x="105" y="376.5" width="171.2" height="70.5" fill="none" stroke="#9a8a90" stroke-width="0.6"/>
<text x="217" y="181.8" font-size="5.0" fill="#333333" text-anchor="middle" textLength="60" lengthAdjust="spacingAndGlyphs">Периэпонихиальный разрез</text>
<text x="135" y="199.8" font-size="5.2" fill="#333333" text-anchor="start" textLength="22.5" lengthAdjust="spacingAndGlyphs">Эпонихий</text>
<polyline points="159.0,198.5 196.5,198.5 196.5,209.0" fill="none" stroke="#4a4a4a" stroke-width="0.55"/>
<text x="127.5" y="212" font-size="5.2" fill="#333333" text-anchor="start" textLength="30" lengthAdjust="spacingAndGlyphs">Корень ногтя</text>
<polyline points="159.0,210.3 180.0,210.3" fill="none" stroke="#4a4a4a" stroke-width="0.55"/>
<text x="125" y="222.5" font-size="5.2" fill="#333333" text-anchor="start" textLength="32.5" lengthAdjust="spacingAndGlyphs">Матрикс ногтя</text>
<polyline points="159.0,220.8 186.0,220.8" fill="none" stroke="#4a4a4a" stroke-width="0.55"/>
<text x="124" y="234" font-size="5.2" fill="#333333" text-anchor="start" textLength="33.5" lengthAdjust="spacingAndGlyphs">Ногтевое ложе</text>
<polyline points="159.0,232.4 209.5,232.4" fill="none" stroke="#4a4a4a" stroke-width="0.55"/>
<text x="264" y="228.8" font-size="5.2" fill="#333333" text-anchor="start" textLength="54" lengthAdjust="spacingAndGlyphs">ногтевое ложе (разрез)</text>
<polyline points="223.0,227.0 262.5,227.0" fill="none" stroke="#4a4a4a" stroke-width="0.55"/>
<text x="232" y="263.3" font-size="5.2" fill="#333333" text-anchor="start" textLength="31" lengthAdjust="spacingAndGlyphs">Корень ногтя</text>
<polyline points="171.7,273.8 171.7,260.7 230.0,260.7" fill="none" stroke="#4a4a4a" stroke-width="0.55"/>
<text x="240" y="271.3" font-size="5.2" fill="#333333" text-anchor="start" textLength="22" lengthAdjust="spacingAndGlyphs">Эпонихий</text>
<polyline points="196.7,270.0 237.0,270.0" fill="none" stroke="#4a4a4a" stroke-width="0.55"/>
<text x="249" y="279.8" font-size="5.2" fill="#333333" text-anchor="start" textLength="16.5" lengthAdjust="spacingAndGlyphs">Лунула</text>
<text x="260" y="293.3" font-size="5.2" fill="#333333" text-anchor="start" textLength="24.5" lengthAdjust="spacingAndGlyphs">Тело ногтя</text>
<polyline points="220.0,291.7 257.0,291.7" fill="none" stroke="#4a4a4a" stroke-width="0.55"/>
<text x="271" y="314.8" font-size="5.2" fill="#333333" text-anchor="start" textLength="37" lengthAdjust="spacingAndGlyphs">Свободный край</text>
<polyline points="253.0,312.7 269.0,312.7" fill="none" stroke="#4a4a4a" stroke-width="0.55"/>
<text x="269" y="326.8" font-size="5.2" fill="#333333" text-anchor="start" textLength="32" lengthAdjust="spacingAndGlyphs">Ногтевое ложе</text>
<polyline points="215.0,316.7 215.0,323.3 267.0,323.3" fill="none" stroke="#4a4a4a" stroke-width="0.55"/>
<text x="261" y="339.6" font-size="5.2" fill="#333333" text-anchor="start" textLength="23.5" lengthAdjust="spacingAndGlyphs">Гипонихий</text>
<polyline points="235.0,328.3 235.0,338.3 259.5,338.3" fill="none" stroke="#4a4a4a" stroke-width="0.55"/>
<text x="258" y="349.6" font-size="5.2" fill="#333333" text-anchor="start" textLength="14" lengthAdjust="spacingAndGlyphs">Дерма</text>
<polyline points="213.0,346.7 256.0,346.7" fill="none" stroke="#4a4a4a" stroke-width="0.55"/>
<text x="99" y="317.8" font-size="5.2" fill="#333333" text-anchor="start" textLength="27" lengthAdjust="spacingAndGlyphs">Дистальная</text>
<text x="107" y="323.8" font-size="5.2" fill="#333333" text-anchor="start" textLength="17" lengthAdjust="spacingAndGlyphs">фаланга</text>
<polyline points="127.0,319.5 133.0,319.5 133.0,280.0" fill="none" stroke="#4a4a4a" stroke-width="0.55"/>
<text x="134" y="332.8" font-size="5.2" fill="#333333" text-anchor="start" textLength="14" lengthAdjust="spacingAndGlyphs">Мозг</text>
<polyline points="149.0,330.0 160.0,316.0" fill="none" stroke="#4a4a4a" stroke-width="0.55"/>
<text x="187.5" y="358.7" font-size="5.2" fill="#333333" text-anchor="start" textLength="20" lengthAdjust="spacingAndGlyphs">Кожица</text>
<polyline points="181.2,328.0 181.2,359.0" fill="none" stroke="#4a4a4a" stroke-width="0.55"/>
<polyline points="212.5,344.0 212.5,359.0" fill="none" stroke="#4a4a4a" stroke-width="0.55"/>
<polyline points="173.0,290.5 173.0,376.5" fill="none" stroke="#4a4a4a" stroke-width="0.55"/>
<text x="75" y="372.5" font-size="5.2" fill="#333333" text-anchor="start" textLength="22.5" lengthAdjust="spacingAndGlyphs">Эпонихий</text>
<polyline points="142.2,370.0 142.2,393.0" fill="none" stroke="#4a4a4a" stroke-width="0.55"/>
<text x="82.5" y="395.4" font-size="5.2" fill="#333333" text-anchor="start" textLength="13" lengthAdjust="spacingAndGlyphs">Ногти</text>
<polyline points="96.0,393.6 138.7,393.6" fill="none" stroke="#4a4a4a" stroke-width="0.55"/>
<text x="75" y="405.5" font-size="5.2" fill="#333333" text-anchor="start" textLength="22.5" lengthAdjust="spacingAndGlyphs">Ногтевое</text>
<text x="78" y="410.4" font-size="5.2" fill="#333333" text-anchor="start" textLength="13" lengthAdjust="spacingAndGlyphs">ложе</text>
<polyline points="98.0,405.6 138.7,405.6" fill="none" stroke="#4a4a4a" stroke-width="0.55"/>
<text x="287" y="369.2" font-size="5.2" fill="#333333" text-anchor="start" textLength="18.5" lengthAdjust="spacingAndGlyphs">Роговой</text>
<text x="287" y="374.4" font-size="5.2" fill="#333333" text-anchor="start" textLength="10" lengthAdjust="spacingAndGlyphs">слой</text>
<rect x="259" y="367" width="5" height="10" fill="#f3f1f1"/>
<text x="287" y="384.2" font-size="5.2" fill="#333333" text-anchor="start" textLength="24" lengthAdjust="spacingAndGlyphs">Зернистый</text>
<text x="287" y="389.4" font-size="5.2" fill="#333333" text-anchor="start" textLength="10" lengthAdjust="spacingAndGlyphs">слой</text>
<polyline points="247.5,385.3 284.4,385.3" fill="none" stroke="#4a4a4a" stroke-width="0.55"/>
<text x="289" y="412.3" font-size="5.2" fill="#333333" text-anchor="start" textLength="22" lengthAdjust="spacingAndGlyphs">Кровеносные</text>
<text x="290.5" y="417.4" font-size="5.2" fill="#333333" text-anchor="start" textLength="16" lengthAdjust="spacingAndGlyphs">сосуды</text>
<polyline points="247.5,400.0 300.6,400.0 300.6,426.0 276.0,426.0" fill="none" stroke="#4a4a4a" stroke-width="0.55"/>
<text x="165" y="457.3" font-size="5.2" fill="#333333" text-anchor="start" textLength="52.5" lengthAdjust="spacingAndGlyphs">Ногтевое ложе матрикс</text>
<polyline points="191.0,433.7 191.0,450.6" fill="none" stroke="#4a4a4a" stroke-width="0.55"/>
<text x="50" y="474.2" font-size="7.8" fill="#333" textLength="120" lengthAdjust="spacingAndGlyphs">Copyright © 2010 - XL Sistemas S.A.</text>
<g filter="url(#soft)">
<path d="M439.5,286 C438,268 442,254 456,248 C465,246 474,250 482,258 L483,295 L481,292.5 C478,290 475,288 472,289 C469,291 467,290 465,286 C462,283 459,286 456,289 C452,291 449,289 446,287 C443,285 441,285 439.5,286 Z" fill="url(#pinkL)"/>
<path d="M494,262 C498,257 505,254.5 513,254 C520,254 526,257 528,262 L528,270 C530,278 536,285 537,288 L531.8,285.6 C527,283 524,282 522,282.6 C518,286 516,290 514.3,295.3 C512,292 511,290 509.5,288.5 C505,290 503,293 501.7,294 L501.7,334 L494,334 Z" fill="#f8e0dc"/>
</g>
<path d="M439.5,286 C441,285 443,285 446,287 C449,289 452,291 456,289 C459,286 462,283 465,286 C467,290 469,291 472,289 C475,288 478,290 481,292.5" fill="none" stroke="#b0a09a" stroke-width="0.5"/>
<path d="M501.7,340 L501.7,294 C503,293 505,290 509.5,288.5 C511,290 512,292 514.3,295.3 C516,290 518,286 522,282.6 C524,282 527,283 531.8,285.6 L537,288" fill="none" stroke="#a8988e" stroke-width="0.5"/>
<path d="M473.8,267 L502.3,267 L502.3,386 C505,394 506.6,404 506.6,416 C506.6,428 504,437 499,441.8 L497,441.8 C497,432 494,426 489,426 C484,426 481,432 481,441.8 L479,441.8 C474,437 469.5,428 469.5,416 C469.5,404 471,394 473.8,386 Z" fill="#f3cdb8"/>
<path d="M476,268 L500,268 L500,384 C503,393 504.5,404 504.5,416 C504.5,427 502,435 498.5,439.5 L497,439.5 C497,431 494,425 489,425 C484,425 481,431 481,439.5 L479.5,439.5 C476,435 471.5,427 471.5,416 C471.5,404 473,393 476,384 Z" fill="#f6d8c8"/>
<line x1="473.8" y1="267" x2="473.8" y2="388" stroke="#c89c8c" stroke-width="0.5"/>
<line x1="473.8" y1="267" x2="483" y2="267" stroke="#c89c8c" stroke-width="0.5"/>
<line x1="478" y1="300" x2="478" y2="386" stroke="#e8b8a8" stroke-width="0.5"/>
<line x1="498" y1="300" x2="498" y2="386" stroke="#e8b8a8" stroke-width="0.5"/>
<path d="M483.4,378 C480,386 474.5,396 474,410 C474,422 476.5,431 480.5,437 L482,437 C482.5,430 485,426.5 489,426.5 C493,426.5 495.5,430 496,437 L497.5,437 C501.5,431 502.5,422 502.5,410 C502,396 497.5,386 494.8,378 Z" fill="#d4672a"/>
<path d="M485.5,384 C482,395 479,404 479,414 C479,422 480,428 482,432 C483,428 485.5,426 489,426 C492.5,426 495,428 496,432 C498,428 498.5,422 498.5,414 C498.5,404 496,395 492.5,384 Z" fill="#e88a48" opacity="0.8"/>
<path d="M513,188 C508,198 504,206 500.8,213 C495,226 490,236 487,247 C485,254 484.2,262 484.1,272 L484,392 L493.4,392 L493.4,268 C493.4,258 494,250 496,240 C500,225 507,205 513,188 Z" fill="#c95a26"/>
<path d="M511.5,193 C506,204 501,214 497.5,224 C493,236 490.5,246 489,254 C488,260 487.6,266 487.5,274 L487.4,424 L490.4,424 L490.4,272 C490.4,262 491,254 492.5,246 C495,236 499,224 503,212 C506,204 509,198 511.5,193 Z" fill="#ec985c"/>
<path d="M488.4,272 L488.3,423 L489.4,423 L489.5,272 Z" fill="#fbd8a8"/>
<path d="M441.7,312.8 C441,308 443,305 445,303.9 C447,301 449,300 450.6,299.4 C453,297 455,296 457.2,296.1 C460,295 463,297 466.1,297.2 C469,296 471,296.5 473.9,297.2 C477,297.5 480,298 480.6,300.6 C482,303 481,305 479.4,307.2 C478,309 476,311 475,313.9 C473,316 474,319 472.8,321.7 C471,324 470,326 468.3,327.2 C465,329 462,330.5 459.4,330.6 C456,331 454,330 451.7,329.4 C448,328 445,327 443.9,325 C442,322 441,320 441.7,318.3 Z" fill="#f3d22a" stroke="#dcb440" stroke-width="0.6"/>
<path d="M448,306 C452,301 460,300 466,301 C472,302 476,304 475,309 C473,315 470,322 464,325 C457,327 450,325 447,320 C445,315 446,310 448,306 Z" fill="#f7e46a" opacity="0.9" filter="url(#soft)"/>
<path d="M464,288.3 C470,290 478,292 481.7,294 L481.7,297.2 C476,297 470,296 464,295 Z" fill="#e4cce0" opacity="0.8"/>
<g transform="translate(517,317) rotate(-57)"><ellipse cx="0" cy="0" rx="26.5" ry="4.6" fill="#e47684"/><line x1="-25" y1="-1.6" x2="25" y2="-1.6" stroke="#f4b8c0" stroke-width="0.5"/><line x1="-25" y1="0.2" x2="25" y2="0.2" stroke="#f4b8c0" stroke-width="0.4"/><line x1="-25" y1="1.8" x2="25" y2="1.8" stroke="#f4b8c0" stroke-width="0.5"/></g>
<line x1="503" y1="339" x2="496" y2="348" stroke="#c0a0a0" stroke-width="0.6"/>
<circle cx="564" cy="241.5" r="50" fill="#f3dcbc"/>
<circle cx="564" cy="241.5" r="49.6" fill="none" stroke="#e9c59c" stroke-width="0.9"/>
<circle cx="563.5" cy="240.5" r="41.5" fill="#f0cbb2"/>
<circle cx="563.5" cy="241.5" r="27" fill="url(#coreG)"/>
<path d="M546.6,204.0L549.6,205.9M548.0,207.6L545.0,207.0M548.0,207.6L549.6,205.9M527.9,248.6L527.9,252.2M527.9,248.6L531.6,249.4M531.7,250.7L531.6,249.4M531.7,250.7L528.6,252.4M528.6,252.4L527.9,252.2M564.2,280.1L562.7,281.1M557.2,279.6L560.3,279.5M557.2,279.6L557.3,280.5M557.3,280.5L557.9,280.8M560.3,279.5L560.4,279.7M556.5,276.7L556.0,277.2M556.5,276.7L557.4,276.6M556.0,277.2L557.2,279.6M557.4,276.6L560.3,279.4M560.3,279.4L560.3,279.5M552.7,279.9L555.0,277.3M556.0,277.2L555.0,277.3M562.7,281.1L560.4,279.7M531.7,250.7L532.2,251.5M528.6,252.4L529.7,253.3M532.2,251.5L529.7,253.3M587.9,232.0L584.9,234.6M587.9,232.0L589.3,233.0M589.3,233.0L588.9,234.9M588.9,234.9L584.9,234.9M584.9,234.9L584.9,234.6M583.5,232.7L587.7,231.7M583.5,232.7L583.0,233.1M587.7,231.7L587.9,232.0M583.0,233.1L584.9,234.6M587.6,262.4L589.2,265.7M587.6,262.4L586.0,264.3M589.2,265.7L585.5,265.2M586.0,264.3L585.5,265.2M587.6,262.4L587.3,260.5M586.0,264.3L587.1,260.6M587.3,260.5L587.1,260.6M548.0,207.6L548.4,210.8M545.0,207.4L545.0,207.0M545.0,207.4L548.1,210.7M548.1,210.7L548.4,210.8M551.3,206.0L552.0,203.1M551.3,206.0L549.6,205.9M583.5,232.7L583.8,230.9M587.7,231.7L587.2,230.1M587.2,230.1L583.8,230.9M592.0,226.5L592.0,230.8M592.0,226.5L586.8,226.4M589.6,232.9L592.0,230.8M589.6,232.9L589.3,233.0M587.2,230.1L586.8,226.4M540.6,209.4L542.0,210.0M545.0,207.4L544.1,209.0M544.1,209.0L542.0,210.0M524.0,231.3L524.1,230.7M525.3,227.2L525.0,229.7M525.0,229.7L524.1,230.7M525.8,247.8L526.0,248.0M526.0,248.0L524.4,252.3M527.8,248.6L526.0,248.0M527.8,248.6L527.9,248.6M527.9,252.2L526.3,253.4M524.4,252.3L526.3,253.4M531.2,255.1L529.7,253.3M531.2,255.1L528.6,257.2M526.3,253.4L526.1,256.5M526.1,256.5L528.6,257.2M583.0,275.6L581.5,274.8M581.5,274.8L579.6,277.1M580.7,277.4L579.6,277.1M529.3,258.8L530.1,259.7M532.2,251.5L534.0,253.3M531.2,255.1L531.2,255.1M531.2,255.1L534.0,253.3M533.7,247.4L531.6,249.4M533.7,247.4L535.8,248.9M535.8,248.9L537.1,250.7M534.0,253.3L536.1,253.2M537.1,250.7L536.1,253.2M556.5,276.7L556.6,275.4M557.4,276.6L561.1,275.5M561.1,275.5L561.0,273.9M561.0,273.9L559.6,271.8M559.6,271.8L556.6,275.4M584.8,237.1L586.4,237.5M584.8,237.1L584.9,234.9M588.9,234.9L588.9,235.7M586.4,237.5L588.9,235.7M592.6,240.8L593.2,240.2M592.6,240.8L590.9,240.6M590.9,240.6L589.6,237.4M593.2,240.2L593.1,238.1M589.5,236.5L589.6,237.4M589.5,236.5L592.6,237.4M592.6,237.4L593.1,238.1M592.8,242.7L597.6,244.4M592.8,242.7L592.6,240.8M597.6,244.4L597.3,242.1M597.3,242.1L594.3,240.2M594.3,240.2L593.2,240.2M590.3,240.8L588.7,239.1M590.3,240.8L590.9,240.6M588.7,239.1L589.6,237.4M589.6,232.9L593.2,234.6M593.2,234.6L592.6,237.4M588.9,235.7L589.5,236.5M586.8,226.4L586.4,226.0M586.4,226.0L583.2,226.1M583.8,230.9L581.9,228.0M581.9,228.0L583.2,226.1M588.0,248.2L589.1,245.6M588.0,248.2L589.8,250.7M589.1,245.6L591.7,245.4M591.7,245.4L591.7,245.4M591.7,245.4L591.1,250.7M589.8,250.7L591.1,250.7M596.9,262.0L598.1,260.9M596.9,262.0L596.7,264.2M583.0,275.6L583.8,274.7M577.4,270.4L577.3,272.8M577.4,270.4L581.0,271.5M581.0,271.5L580.3,273.1M580.3,273.1L577.3,272.8M586.4,252.3L587.4,248.3M586.4,252.3L583.7,251.8M586.8,248.4L587.4,248.3M586.8,248.4L583.5,251.5M583.7,251.8L583.5,251.5M581.7,248.3L583.2,251.4M581.7,248.3L582.9,247.2M586.8,248.4L584.5,246.7M584.5,246.7L582.9,247.2M583.2,251.4L583.5,251.5M581.7,248.3L580.7,248.0M583.2,251.4L579.6,253.1M592.7,262.2L592.7,260.1M592.7,262.2L595.4,261.1M592.7,260.1L595.3,259.6M595.4,261.1L595.3,259.6M592.0,263.8L588.1,259.6M592.0,263.8L592.7,262.2M588.1,259.6L592.7,260.0M592.7,260.0L592.7,260.1M595.3,256.9L593.4,256.1M595.3,256.9L595.5,259.1M593.4,256.1L592.6,256.6M592.6,256.6L592.7,260.0M595.5,259.1L595.3,259.6M595.5,259.1L598.1,260.2M596.9,262.0L595.4,261.1M598.1,260.2L598.1,260.9M589.2,265.7L589.3,265.8M592.0,263.8L592.0,265.2M588.1,259.6L587.8,259.4M589.3,265.8L591.8,265.3M587.8,259.4L587.3,260.5M592.0,265.2L591.8,265.3M589.3,265.8L588.2,268.1M591.8,265.3L590.3,270.0M590.3,270.0L590.0,270.0M588.2,268.1L590.0,270.0M588.2,270.8L588.9,270.9M585.8,261.6L581.5,262.0M585.8,261.6L584.7,265.3M584.7,265.3L584.7,265.3M584.7,265.3L581.6,263.7M581.6,263.7L581.4,262.1M581.4,262.1L581.5,262.0M585.5,265.2L584.7,265.3M587.1,260.6L585.8,261.6M580.8,268.2L581.1,264.4M580.8,268.2L581.4,268.9M581.1,264.4L581.6,263.7M581.4,268.9L584.5,268.1M584.5,268.1L584.7,265.3M576.9,263.7L577.5,266.3M576.9,263.7L580.4,264.6M580.4,264.6L577.5,266.3M580.8,268.2L576.3,268.3M581.1,264.4L580.4,264.6M576.3,268.3L577.5,266.3M551.3,206.0L552.6,207.9M552.6,207.9L551.3,210.2M549.8,211.7L548.4,210.8M549.8,211.7L550.3,211.5M550.3,211.5L551.3,210.2M564.8,201.8L564.3,201.1M564.8,201.8L567.4,201.9M567.4,201.9L568.1,200.7M568.1,200.7L564.4,200.4M564.3,201.1L564.4,200.4M568.3,200.6L568.1,200.7M564.3,199.8L564.4,200.4M589.9,220.8L592.9,223.4M589.9,220.8L589.3,220.7M592.9,223.4L592.7,226.0M592.0,226.5L592.7,226.0M586.4,226.0L587.4,221.2M589.3,220.7L588.2,220.5M587.4,221.2L588.2,220.5M540.1,209.4L539.0,210.0M540.6,209.4L540.1,209.4M548.1,210.7L545.8,211.1M544.1,209.0L545.0,210.5M545.8,211.1L545.0,210.5M525.3,227.2L527.5,226.7M527.5,226.7L527.8,225.7M527.8,225.7L527.0,223.9M539.5,220.1L538.4,221.5M539.5,220.1L539.4,216.9M539.4,216.9L538.1,215.3M538.1,215.3L534.6,218.0M534.6,218.0L538.4,221.5M524.0,231.3L524.8,232.8M524.8,232.8L523.8,234.5M525.8,247.8L525.5,246.8M525.5,246.8L523.5,243.0M526.1,256.5L526.1,256.5M597.3,218.2L597.7,218.9M589.9,220.8L592.8,219.0M589.3,220.7L591.8,217.3M592.8,219.0L591.8,217.3M588.2,220.5L588.5,217.2M588.5,217.2L591.2,215.5M591.8,217.3L591.2,215.5M590.4,213.0L591.8,214.4M590.4,213.0L589.6,210.7M589.6,210.7L590.2,209.9M593.5,214.1L591.8,214.4M587.2,214.0L587.1,216.2M587.2,214.0L590.4,213.0M588.5,217.2L587.1,216.2M591.8,214.4L591.2,215.5M594.0,214.4L594.2,214.5M596.5,217.9L595.6,218.0M595.6,218.0L594.2,214.5M597.3,218.2L596.5,217.9M593.5,214.1L594.0,214.4M595.6,218.0L594.7,219.5M594.7,219.5L592.8,219.0M599.7,240.3L598.1,236.8M599.7,240.3L597.7,241.4M597.7,241.4L597.2,238.4M598.1,236.8L597.2,238.4M597.3,242.1L597.7,241.4M594.3,240.2L597.2,238.4M592.0,230.8L592.9,231.0M592.9,231.0L593.7,231.6M593.2,234.6L594.3,234.2M594.3,234.2L593.7,231.6M570.5,269.9L570.7,268.2M570.5,269.9L572.6,270.8M574.9,267.9L570.7,268.2M574.9,267.9L575.0,268.0M572.6,270.8L575.0,268.0M577.4,270.4L576.4,268.8M581.0,271.5L581.2,271.4M576.3,268.3L576.2,268.4M581.2,271.4L581.4,268.9M576.4,268.8L576.2,268.4M570.5,269.9L569.6,270.7M569.6,270.7L569.5,272.6M569.5,272.6L572.1,273.3M572.6,270.8L572.8,272.9M572.1,273.3L572.8,272.9M574.5,272.8L572.8,272.9M574.5,272.8L576.4,268.8M575.0,268.0L576.2,268.4M572.8,272.9L572.8,272.9M542.5,274.3L542.7,275.4M542.5,274.3L542.7,272.5M540.4,272.0L542.7,272.5M538.7,250.2L541.6,253.2M538.7,250.2L540.4,248.9M540.4,248.9L544.3,251.9M541.6,253.2L544.3,251.9M566.5,272.2L564.9,271.3M566.5,272.2L567.3,273.1M567.3,273.1L564.4,274.8M564.9,271.3L564.2,273.0M564.4,274.8L564.2,273.0M569.6,270.7L568.2,269.8M569.5,272.6L568.1,273.6M568.2,269.8L566.5,272.2M568.1,273.6L567.3,273.1M561.6,273.5L563.1,271.7M561.6,273.5L564.2,273.0M563.1,271.7L564.8,271.1M564.8,271.1L564.9,271.3M568.1,273.6L568.3,277.0M572.1,273.3L571.3,277.8M568.3,277.0L571.3,277.8M574.5,276.8L571.8,278.2M572.0,279.5L571.8,278.2M574.5,276.8L574.8,276.5M574.8,276.5L572.8,272.9M571.8,278.2L571.3,277.8M564.4,274.8L567.2,277.6M564.4,274.8L561.5,275.9M561.5,275.9L561.8,276.7M561.8,276.7L564.7,279.5M567.2,277.6L565.9,279.2M564.7,279.5L565.9,279.2M564.4,274.8L564.4,274.8M568.3,277.0L567.2,277.6M561.1,275.5L561.5,275.9M561.0,273.9L561.6,273.5M560.3,279.4L561.8,276.7M564.2,280.1L564.7,279.5M586.4,237.5L586.5,237.9M588.7,239.1L587.2,239.3M587.2,239.3L586.5,237.9M590.3,240.8L587.2,242.5M587.2,239.3L587.2,242.5M584.8,237.1L582.4,237.9M582.4,237.9L585.3,239.8M586.5,237.9L585.3,239.8M593.1,238.1L597.3,235.7M598.1,236.8L598.2,236.0M598.2,236.0L597.3,235.7M594.3,234.2L596.1,234.6M597.3,235.7L596.1,234.6M593.7,231.6L596.1,231.4M596.1,234.6L596.1,231.4M582.5,240.7L585.3,241.5M585.3,239.8L585.3,241.5M584.3,244.2L584.6,246.4M584.3,244.2L587.0,242.5M584.6,246.4L587.8,244.0M587.8,244.0L587.2,242.6M587.0,242.5L587.2,242.6M587.4,248.3L588.0,248.2M589.1,245.6L587.8,244.0M584.5,246.7L584.6,246.4M592.8,242.7L591.7,245.4M587.2,242.5L587.2,242.6M585.3,241.5L587.0,242.5M602.7,245.8L603.0,245.2M603.0,245.2L603.1,242.6M600.5,240.6L602.0,237.0M600.5,240.6L599.7,240.3M598.3,236.0L598.2,236.0M598.3,236.0L600.7,235.3M602.0,237.0L600.7,235.3M598.3,236.0L597.5,230.2M597.5,230.2L601.7,233.4M600.7,235.3L601.7,233.4M598.1,260.2L599.0,258.3M595.3,256.9L597.2,256.6M599.0,258.3L597.2,256.6M590.9,256.7L589.7,253.5M590.9,256.7L590.3,257.0M590.3,257.0L587.7,254.1M589.7,253.5L588.8,252.4M587.7,254.1L588.0,252.8M588.0,252.8L588.8,252.4M593.4,256.1L593.5,254.1M592.6,256.6L590.9,256.7M593.5,254.1L589.7,253.5M587.8,259.4L587.7,259.2M587.7,259.2L590.3,257.0M586.4,252.3L588.0,252.8M589.8,250.7L588.8,252.4M583.7,251.8L584.0,254.5M587.7,254.1L587.5,254.2M587.5,254.2L584.0,254.5M582.5,259.7L587.7,259.2M582.5,259.7L584.9,256.4M587.7,259.2L586.4,257.2M584.9,256.4L586.4,257.2M587.7,259.2L587.7,259.2M582.5,259.7L581.5,262.0M582.5,259.7L582.5,259.7M582.5,259.7L581.2,256.6M581.2,256.6L583.9,255.4M583.9,255.4L584.9,256.4M587.5,254.2L586.4,257.2M584.0,254.5L583.9,255.4M592.1,245.7L591.7,245.4M592.1,245.7L592.5,248.4M591.1,250.7L591.2,250.7M592.5,248.4L591.2,250.7M579.1,276.3L579.1,275.1M579.1,276.3L576.4,276.3M579.1,275.1L576.5,274.0M576.4,276.3L575.8,275.9M575.8,275.9L576.5,274.0M576.5,274.0L576.5,274.0M581.5,274.8L580.3,273.8M579.5,277.1L579.6,277.1M579.5,277.1L579.1,276.3M580.3,273.8L579.1,275.1M580.3,273.8L580.3,273.1M577.3,272.8L576.5,274.0M574.8,276.5L575.8,275.9M574.5,272.8L576.5,274.0M583.8,274.7L584.0,272.4M584.0,272.4L586.5,272.6M581.2,271.4L583.8,272.2M584.0,272.4L583.8,272.2M576.8,259.7L575.2,261.2M576.8,259.7L578.0,259.9M578.7,260.9L578.0,259.9M578.7,260.9L576.7,263.5M575.2,261.2L575.0,263.4M576.7,263.5L575.0,263.4M581.2,256.6L579.6,256.0M579.6,256.0L578.0,259.9M581.4,262.1L578.7,260.9M576.9,263.7L576.7,263.5M574.0,264.1L575.0,263.4M574.0,264.1L571.0,261.6M571.0,261.6L572.2,260.2M572.2,260.2L575.2,261.2M573.8,265.6L574.9,267.9M573.8,265.6L574.0,264.1M579.6,253.1L579.2,253.3M596.7,264.2L594.7,265.5M592.0,265.2L592.5,265.5M592.5,265.5L594.7,265.5M588.9,270.9L590.0,270.0M585.0,208.8L584.8,208.9M582.6,206.5L584.8,208.9M582.6,206.5L582.0,206.0M587.2,214.0L584.6,211.6M589.6,210.7L584.9,209.9M584.6,211.6L584.4,210.7M584.4,210.7L584.9,209.9M584.9,209.9L584.8,208.9M559.6,204.5L559.1,203.7M559.6,204.5L564.7,207.0M564.8,201.8L565.6,205.7M564.3,201.1L559.1,203.7M565.6,205.7L564.7,207.0M546.6,215.0L545.5,214.9M546.6,215.0L547.5,218.7M544.0,218.2L547.0,219.0M544.0,218.2L543.6,216.2M547.5,218.7L547.0,219.0M545.5,214.9L543.6,216.2M539.4,216.9L543.4,216.1M538.6,213.6L541.8,213.2M538.6,213.6L538.0,214.7M538.0,214.7L538.1,215.3M543.4,216.1L541.8,213.2M543.3,223.2L540.9,220.2M543.3,223.2L543.9,222.9M543.9,222.9L543.8,220.5M540.9,220.2L543.2,219.7M543.2,219.7L543.8,220.5M539.5,220.1L540.9,220.2M538.7,222.9L538.8,222.9M538.7,222.9L538.4,221.6M543.2,223.3L538.8,222.9M543.2,223.3L543.3,223.2M538.4,221.6L538.4,221.5M544.0,218.2L543.2,219.7M543.4,216.1L543.6,216.2M547.0,219.0L546.2,220.8M546.2,220.8L543.8,220.5M584.6,211.6L584.1,214.7M587.1,216.2L586.5,216.2M584.1,214.7L586.5,216.2M539.0,210.0L538.8,210.2M538.8,210.2L537.0,209.4M544.4,242.8L543.7,242.1M543.7,242.1L544.8,239.3M543.7,242.1L542.0,241.4M542.0,241.4L541.6,239.3M542.0,238.3L541.6,239.3M542.0,238.3L544.4,238.6M544.4,238.6L544.8,239.3M538.9,223.1L542.6,225.4M538.9,223.1L540.9,226.6M540.9,226.6L543.0,227.2M542.6,225.4L543.0,227.2M543.2,223.3L542.6,225.4M538.8,222.9L538.9,223.1M538.7,222.9L538.4,223.4M539.3,227.0L540.9,226.6M539.3,227.0L538.7,226.2M538.4,223.4L538.7,226.2M545.4,223.3L544.0,227.1M545.4,223.3L543.9,222.9M543.1,227.5L544.0,227.1M543.1,227.5L543.0,227.2M538.8,228.6L539.3,227.0M538.8,228.6L541.7,230.0M542.5,229.9L541.9,230.0M542.5,229.9L542.9,228.8M543.1,227.5L542.9,228.8M541.7,230.0L541.9,230.0M539.2,231.5L539.8,233.3M539.2,231.5L541.7,230.0M541.9,230.0L540.2,233.2M539.8,233.3L540.2,233.2M527.8,225.7L530.3,224.1M527.0,223.9L529.9,222.6M530.3,224.1L530.4,223.2M529.9,222.6L530.4,223.2M535.0,213.6L538.0,214.7M534.6,218.0L532.6,218.2M530.4,216.8L532.6,218.2M527.5,226.7L528.7,227.8M525.0,229.7L527.7,230.4M527.7,230.4L528.7,227.8M531.3,225.8L529.3,227.9M531.3,225.8L530.3,224.1M528.7,227.8L529.3,227.9M525.0,235.8L523.8,234.5M525.0,235.8L524.5,238.5M524.5,238.5L523.6,239.5M523.6,239.5L523.0,239.8M525.0,235.8L527.6,235.2M524.8,232.8L527.2,233.6M527.2,233.6L527.6,235.2M527.7,230.4L528.6,232.0M527.2,233.6L528.6,232.0M527.8,248.6L529.6,245.6M525.5,246.8L528.0,244.4M529.6,245.6L528.0,244.4M533.7,247.4L533.3,246.1M533.3,246.1L531.2,244.9M529.6,245.6L531.2,244.9M529.3,258.8L528.6,257.2M602.0,249.4L599.4,250.0M602.0,249.4L602.8,250.1M599.4,250.0L599.1,251.0M599.1,251.0L601.3,252.1M601.3,252.1L602.8,250.1M602.7,245.8L601.2,246.1M602.0,249.4L601.2,246.1M602.8,250.1L602.9,250.1M545.7,223.2L546.7,226.8M545.7,223.2L546.7,222.6M546.7,222.6L547.7,222.9M547.7,222.9L547.3,226.9M547.3,226.9L546.7,226.8M545.4,223.3L545.7,223.2M544.0,227.1L546.7,226.8M546.2,220.8L546.7,222.6M550.3,219.2L550.3,221.5M550.3,219.2L547.5,218.7M550.3,221.5L549.3,222.7M549.3,222.7L547.7,222.9M566.5,220.0L566.1,218.9M562.6,219.3L564.2,217.9M566.1,218.9L564.2,217.9M599.3,222.6L596.0,222.3M599.3,222.6L599.6,221.2M599.6,221.2L597.2,220.7M597.2,220.7L594.9,221.2M596.0,222.3L594.8,221.5M594.9,221.2L594.8,221.5M596.8,224.7L596.0,222.3M596.8,224.7L599.3,224.3M599.3,224.3L599.6,224.2M599.7,223.9L599.3,222.6M599.7,223.9L599.6,224.2M601.0,224.0L599.7,223.9M597.7,218.9L597.2,220.7M594.7,219.5L594.9,221.2M592.9,223.4L594.8,221.5M592.7,226.0L594.8,226.7M594.8,226.7L596.8,224.7M594.8,226.7L596.5,228.4M599.3,224.3L596.8,228.2M596.8,228.2L596.5,228.4M596.1,231.4L597.2,229.8M597.5,230.2L597.2,229.8M597.2,229.8L597.2,229.8M592.9,231.0L596.5,228.5M597.2,229.8L596.5,228.5M596.5,228.4L596.5,228.5M603.0,230.1L600.2,229.2M600.2,229.2L599.6,227.2M600.1,226.6L599.6,227.2M602.4,232.7L603.0,230.1M602.4,232.7L601.7,233.4M597.2,229.8L600.2,229.2M599.6,224.2L600.1,226.6M596.8,228.2L599.6,227.2M554.3,276.6L553.8,273.9M554.3,276.6L552.2,275.8M552.2,275.8L552.3,274.2M552.3,274.2L553.8,273.9M555.0,277.3L554.3,276.6M556.6,275.4L556.2,273.5M556.2,273.5L553.7,272.6M553.8,273.9L553.7,272.6M545.2,276.0L545.4,274.1M542.7,272.5L544.1,271.9M545.4,274.1L544.1,271.9M547.5,276.8L545.2,276.0M550.4,278.4L550.5,278.8M550.4,278.4L547.6,276.8M547.6,276.8L547.5,276.8M540.4,272.0L539.4,270.8M544.1,271.9L544.3,271.5M544.3,271.5L543.8,270.2M539.7,267.8L539.4,270.8M539.7,267.8L541.4,267.7M541.4,267.7L543.8,270.2M542.3,265.1L538.4,266.3M542.3,265.1L543.1,266.3M539.7,267.8L538.4,266.3M541.4,267.7L543.1,266.3M538.5,243.6L539.9,243.9M538.5,243.6L536.9,243.9M537.4,246.1L541.2,246.6M537.4,246.1L536.9,243.9M541.2,246.6L539.9,243.9M535.8,248.9L537.4,246.1M538.7,250.2L537.1,250.7M540.4,248.9L541.4,246.8M541.4,246.8L541.2,246.6M533.3,246.1L535.4,243.7M535.6,243.5L535.4,243.7M535.6,243.5L536.9,243.9M572.2,260.2L573.2,257.0M576.8,259.7L574.3,257.4M573.2,257.0L574.3,257.4M569.4,262.0L571.0,261.6M572.5,256.5L573.1,256.8M573.2,257.0L573.1,256.8M597.6,244.4L597.7,244.6M600.5,240.6L601.1,241.4M601.1,241.4L598.9,245.0M597.7,244.6L598.9,245.0M577.1,218.4L580.4,216.6M577.1,218.4L576.9,220.6M576.9,220.6L577.0,220.9M580.4,216.6L581.5,217.4M577.1,221.0L577.0,220.9M577.1,221.0L581.3,218.6M581.5,217.4L581.7,218.0M581.3,218.6L581.7,218.0M579.4,221.6L581.3,218.6M579.4,221.6L577.1,221.0M579.4,221.6L579.6,221.8M579.6,221.8L578.7,224.6M578.7,224.6L578.4,224.7M577.0,220.9L576.3,222.2M576.3,222.2L578.4,224.7M582.4,224.4L581.3,222.5M582.4,224.4L583.9,220.0M581.3,222.5L582.4,219.0M583.9,220.0L582.4,219.0M579.6,221.8L581.3,222.5M578.7,224.6L582.8,225.6M582.8,225.6L582.4,224.4M583.2,226.1L582.8,225.6M587.4,221.2L585.8,220.3M585.8,220.3L583.9,220.0M581.7,218.0L582.4,219.0M581.9,244.2L582.1,245.1M581.9,244.2L583.1,243.7M583.1,243.7L583.7,244.1M583.7,244.1L582.7,245.8M582.7,245.8L582.1,245.1M582.5,240.7L583.1,243.7M584.3,244.2L583.7,244.1M582.9,247.2L582.7,245.8M603.1,242.6L602.7,242.3M602.7,242.3L602.1,241.4M602.1,241.4L603.9,239.6M604.4,240.6L603.9,239.6M603.7,238.1L604.1,238.9M602.0,237.0L603.7,238.1M601.1,241.4L602.1,241.4M603.9,239.6L604.1,238.9M601.2,255.7L601.4,253.5M601.3,252.1L601.2,253.2M601.2,253.2L601.2,253.2M601.4,253.5L601.2,253.2M588.2,268.1L587.6,268.6M588.2,270.8L588.1,270.8M588.1,270.8L587.6,268.6M568.3,200.6L569.2,200.4M571.2,202.0L573.5,201.5M571.2,202.0L570.7,201.1M576.2,205.4L573.5,201.5M576.2,205.4L575.9,206.1M575.9,206.1L577.6,207.3M582.0,206.0L580.6,207.0M577.6,207.3L580.6,207.0M581.5,211.4L579.9,210.0M581.5,211.4L579.8,213.8M579.3,213.7L579.8,213.8M579.3,213.7L577.1,210.8M579.9,210.0L578.7,209.6M577.1,210.8L578.7,209.6M584.4,210.7L581.5,211.4M580.6,207.0L579.9,210.0M584.1,214.7L581.8,217.2M581.8,217.2L581.5,217.4M580.4,216.6L580.4,216.5M580.4,216.5L579.8,213.8M577.6,207.3L578.7,209.6M575.9,206.1L572.8,208.0M572.7,210.9L572.5,209.3M572.7,210.9L577.1,210.8M572.8,208.0L572.5,209.3M571.1,202.6L571.6,206.3M571.1,202.6L568.0,203.4M571.6,206.3L566.7,205.3M568.0,203.4L566.7,205.3M572.8,208.0L571.6,206.3M571.2,202.0L571.1,202.6M567.4,201.9L568.0,203.4M569.2,200.4L570.7,201.1M572.5,209.3L564.9,208.6M565.6,205.7L566.7,205.3M564.7,207.0L564.9,208.6M545.1,212.4L543.3,211.8M545.1,212.4L545.3,214.5M545.3,214.5L542.5,212.3M543.3,211.8L542.7,211.8M542.7,211.8L542.5,212.3M545.8,211.1L545.1,212.4M545.0,210.5L543.3,211.8M549.3,213.5L546.6,215.0M549.3,213.5L549.8,211.7M545.5,214.9L545.3,214.5M541.8,213.2L542.5,212.3M542.0,210.0L542.7,211.8M538.6,213.6L538.7,210.6M538.7,210.6L538.8,210.2M553.7,200.9L558.1,199.9M552.0,203.1L552.8,202.8M552.8,202.8L553.7,200.9M552.8,202.8L558.3,203.6M558.3,203.6L558.6,203.5M558.6,203.5L558.1,199.9M559.1,203.7L558.6,203.5M585.5,218.3L585.6,217.0M585.5,218.3L583.1,217.2M583.1,217.2L585.6,217.0M585.8,220.3L585.5,218.3M586.5,216.2L585.6,217.0M581.8,217.2L583.1,217.2M534.8,212.0L535.5,211.1M535.0,213.6L534.8,212.0M538.7,210.6L535.5,211.1M554.0,223.2L553.9,225.0M554.0,223.2L550.3,221.5M549.3,222.7L550.8,226.9M553.9,225.0L550.8,226.9M544.4,238.6L545.9,236.5M541.6,236.9L541.0,236.5M541.6,236.9L544.8,235.1M541.0,236.5L541.6,233.8M544.8,235.1L544.8,234.4M544.8,234.4L541.7,233.8M541.6,233.8L541.7,233.8M542.0,238.3L541.6,236.9M541.6,239.3L539.7,239.5M537.4,238.3L538.7,239.2M537.4,238.3L537.5,236.9M537.5,236.9L538.0,236.0M538.0,236.0L541.0,236.5M539.7,239.5L538.7,239.2M545.9,236.5L544.8,235.1M539.8,233.3L537.8,235.4M540.2,233.2L541.6,233.8M537.8,235.4L538.0,236.0M544.9,232.3L542.7,230.4M544.9,232.3L545.0,233.7M542.7,230.4L541.7,233.8M545.0,233.7L544.8,234.4M542.5,229.9L542.7,230.4M534.0,224.1L532.5,222.6M534.0,224.1L536.5,221.8M532.5,222.6L533.3,220.7M536.5,221.8L533.3,220.7M530.4,223.2L532.5,222.6M532.6,218.2L533.3,220.7M538.4,221.6L536.5,221.8M523.3,242.4L523.1,240.8M523.5,243.0L523.5,242.8M523.5,242.8L523.3,242.4M523.0,239.8L523.1,240.8M528.6,232.0L530.1,231.8M527.6,235.2L527.7,235.4M529.9,234.8L530.1,231.8M529.9,234.8L529.4,236.0M529.4,236.0L527.7,235.4M524.5,238.5L527.0,237.0M527.0,237.0L527.7,235.4M533.3,233.7L533.8,236.0M533.3,233.7L533.0,234.0M533.0,234.0L532.3,236.9M533.8,236.0L532.3,236.9M530.0,236.4L530.7,238.2M530.0,236.4L533.0,234.0M532.3,236.9L531.3,238.6M530.7,238.2L531.3,238.6M554.0,223.2L556.7,220.2M558.5,220.7L556.7,220.2M562.6,219.3L559.5,220.1M558.5,220.7L559.5,220.1M534.9,262.8L533.3,263.4M534.9,262.8L534.5,259.4M531.3,259.8L531.5,263.5M531.3,259.8L533.9,259.2M531.5,263.5L533.3,263.4M533.9,259.2L534.5,259.4M536.5,264.3L534.9,262.8M530.1,259.7L531.3,259.8M531.2,255.1L533.9,259.2M536.1,253.2L537.5,256.3M541.6,253.2L540.7,255.9M540.7,255.9L539.6,256.4M539.6,256.4L537.5,256.3M569.4,262.0L569.0,262.4M573.8,265.6L572.5,265.7M572.5,265.7L569.0,262.6M569.0,262.4L569.0,262.6M568.2,269.8L567.5,268.7M564.8,271.1L564.8,270.4M567.5,268.7L567.4,268.7M564.8,270.4L567.4,268.7M567.5,268.7L568.0,267.6M568.0,267.6L565.6,265.0M565.6,265.0L563.4,266.8M567.4,268.7L563.4,266.8M566.0,258.3L565.7,260.4M567.5,262.8L569.0,262.4M567.5,262.8L566.4,261.7M565.7,260.4L566.4,261.7M538.4,266.3L538.4,266.3M538.4,266.3L537.2,267.5M536.5,264.3L537.8,264.7M537.8,264.7L538.4,266.3M544.4,242.8L545.0,244.3M541.4,246.8L542.0,246.7M544.3,251.9L545.1,251.9M542.0,246.7L544.5,248.7M544.5,248.7L545.1,251.9M579.4,255.8L579.0,254.2M579.4,255.8L575.7,256.8M575.7,256.8L576.9,254.3M579.0,254.2L576.9,254.3M579.6,256.0L579.4,255.8M579.2,253.3L579.0,254.2M574.3,257.4L575.7,256.8M599.4,250.0L599.3,249.8M601.2,246.1L600.9,246.0M599.3,249.8L600.9,246.0M602.7,242.3L600.3,245.6M598.9,245.0L599.0,245.1M599.0,245.1L600.3,245.6M600.9,246.0L600.3,245.6M599.1,251.0L598.4,251.7M597.7,251.5L598.4,251.7M597.7,251.5L597.1,250.1M599.3,249.8L598.2,248.8M597.1,250.1L598.2,248.8M599.0,245.1L598.2,248.7M598.2,248.8L598.2,248.7M583.0,233.1L582.4,233.2M582.4,233.2L581.5,234.3M567.8,221.7L570.8,220.2M570.8,220.2L572.0,220.8M573.7,224.4L573.9,223.6M573.7,224.4L573.2,224.8M573.9,223.6L572.1,220.8M572.1,220.8L572.0,220.8M566.5,220.0L567.8,221.7M593.5,254.1L593.8,253.0M591.2,250.7L593.3,251.6M593.8,253.0L593.3,251.6M597.4,254.2L598.8,253.0M597.4,254.2L597.5,256.2M597.5,256.2L599.5,255.2M599.0,253.1L598.8,253.0M599.0,253.1L599.4,254.7M599.4,254.7L599.5,255.2M597.7,251.5L597.3,251.7M598.4,251.7L598.8,253.0M595.7,252.9L597.3,251.7M595.7,252.9L597.4,254.2M597.2,256.6L597.5,256.2M595.7,252.9L593.8,253.0M601.2,255.7L599.5,255.2M601.2,253.2L599.0,253.1M601.2,253.2L599.4,254.7M587.0,271.5L584.9,269.8M587.0,271.5L587.2,271.3M587.2,271.3L586.2,268.8M584.9,269.8L585.0,268.8M585.0,268.8L586.2,268.8M583.8,272.2L584.9,269.8M586.5,272.6L587.0,271.5M588.1,270.8L587.2,271.3M587.6,268.6L586.2,268.8M584.5,268.1L585.0,268.8M538.7,241.1L538.8,240.9M538.7,241.1L540.7,242.5M538.8,240.9L539.5,240.7M539.5,240.7L541.2,242.0M541.2,242.0L540.7,242.5M536.2,240.2L538.2,241.3M536.2,240.2L537.4,238.3M538.2,241.3L538.7,241.1M538.7,239.2L538.8,240.9M538.2,241.3L538.5,243.6M539.9,243.9L540.7,242.5M539.7,239.5L539.5,240.7M542.0,241.4L541.2,242.0M545.0,244.3L542.0,246.7M545.9,229.4L548.7,227.8M545.9,229.4L546.5,231.4M548.7,227.8L550.1,228.3M550.8,226.9L550.1,228.3M542.9,228.8L545.9,229.4M547.3,226.9L548.7,227.8M544.9,232.3L546.5,231.4M538.8,228.6L538.8,228.6M538.7,226.2L536.5,227.3M536.5,227.3L536.9,227.7M536.9,227.7L538.0,228.6M538.8,228.6L538.0,228.6M529.9,234.8L533.4,232.1M530.1,231.8L532.8,231.0M533.4,232.1L532.8,231.0M536.9,227.7L536.3,229.9M538.0,228.6L537.0,229.9M536.3,229.9L537.0,229.9M529.3,227.9L532.8,230.9M532.8,230.9L532.8,231.0M535.3,226.0L535.4,226.9M535.3,226.0L534.1,224.9M535.4,226.9L533.4,229.5M534.1,224.9L531.7,225.9M531.7,225.9L533.4,229.5M538.4,223.4L535.3,226.0M536.5,227.3L535.4,226.9M534.0,224.1L534.1,224.9M533.2,230.4L536.3,229.9M533.2,230.4L533.4,229.5M531.3,225.8L531.7,225.9M533.2,230.4L532.8,230.9M531.2,244.9L531.1,243.6M535.4,243.7L531.8,242.3M531.1,243.6L531.8,242.3M528.0,240.5L529.2,241.4M528.0,240.5L526.0,242.8M526.0,242.8L527.3,243.3M527.3,243.3L529.3,242.1M529.3,242.1L529.2,241.4M523.5,242.8L526.0,242.8M528.0,244.4L527.3,243.3M531.1,243.6L529.3,242.1M527.4,237.7L530.1,238.4M527.4,237.7L527.7,239.6M530.1,238.4L527.8,239.7M527.7,239.6L527.8,239.7M529.4,236.0L530.0,236.4M527.0,237.0L527.4,237.7M530.7,238.2L530.1,238.4M523.6,239.5L527.7,239.6M528.0,240.5L527.8,239.7M550.3,219.2L550.4,219.0M556.7,220.2L556.0,219.3M556.0,219.3L550.4,219.0M577.1,218.4L576.7,218.0M580.4,216.5L576.6,215.6M576.7,218.0L576.6,215.6M579.3,213.7L575.5,214.0M576.6,215.6L575.5,214.0M566.1,218.9L567.2,218.6M570.8,220.2L570.7,220.0M567.2,218.6L570.7,220.0M568.1,214.2L570.4,212.8M568.1,214.2L568.8,217.2M568.8,217.2L570.4,217.2M570.4,217.2L572.8,215.3M572.8,215.3L573.0,213.3M570.4,212.8L572.5,212.2M572.5,212.2L573.0,213.3M564.4,209.9L570.4,212.8M564.4,209.9L564.2,210.2M565.5,214.3L564.2,210.2M565.5,214.3L568.1,214.2M564.2,217.9L564.2,217.2M564.2,217.2L564.7,215.8M564.7,215.8L565.5,214.3M567.2,218.6L568.8,217.2M570.7,220.0L570.4,217.2M572.7,210.9L572.5,212.2M564.9,208.6L564.4,209.9M575.5,214.0L573.0,213.3M550.1,271.4L548.0,275.0M550.1,271.4L551.0,275.7M550.6,276.0L551.0,275.7M550.6,276.0L548.2,275.6M548.2,275.6L548.0,275.0M550.4,278.4L550.6,276.0M552.2,275.8L551.0,275.7M547.6,276.8L548.2,275.6M545.4,274.1L547.6,274.8M547.6,274.8L548.0,275.0M544.3,271.5L546.4,270.8M547.6,274.8L546.4,270.8M546.4,270.8L546.4,270.8M543.8,270.2L544.1,268.3M544.1,268.3L546.4,267.9M546.4,270.8L546.4,267.9M550.1,271.4L550.2,271.0M546.4,270.8L550.2,271.0M552.3,274.2L551.3,270.9M551.3,270.9L550.2,271.0M550.2,271.0L550.2,271.0M553.7,272.6L552.6,270.6M551.3,270.9L552.5,270.6M552.6,270.6L552.5,270.6M534.5,259.4L536.3,258.0M537.5,256.3L536.7,257.6M536.3,258.0L536.7,257.6M570.3,267.6L570.9,266.1M570.3,267.6L568.5,267.4M568.5,267.4L569.3,264.0M570.9,266.1L569.3,264.0M572.5,265.7L570.9,266.1M570.7,268.2L570.3,267.6M568.0,267.6L568.5,267.4M567.5,262.8L565.8,264.4M565.8,264.4L565.6,265.0M569.0,262.6L569.3,264.0M595.6,249.6L596.3,248.5M595.6,249.6L594.9,250.0M594.9,250.0L594.5,250.1M594.5,250.1L594.1,248.6M594.1,248.6L594.2,246.5M596.3,248.5L595.8,246.1M594.2,246.5L595.8,246.1M597.1,250.1L595.6,249.6M598.2,248.7L596.3,248.5M597.3,251.7L594.9,250.0M593.3,251.6L594.5,250.1M592.5,248.4L594.1,248.6M592.1,245.7L594.2,246.5M597.7,244.6L595.8,246.1M581.1,230.3L580.8,228.9M580.8,228.9L580.6,229.1M582.4,233.2L581.1,230.3M581.9,228.0L580.8,228.8M580.8,228.8L580.8,228.9M577.0,227.9L577.9,227.3M577.9,227.3L577.6,225.7M577.6,225.7L575.5,225.6M573.7,224.4L575.5,225.6M580.8,228.8L577.9,227.3M578.4,224.7L577.6,225.7M576.3,222.2L573.9,223.6M537.8,235.4L536.8,234.2M537.5,236.9L534.3,237.1M534.3,237.1L533.8,236.0M533.3,233.7L533.7,232.6M533.7,232.6L536.8,234.2M533.4,232.1L533.5,232.3M533.7,232.6L533.5,232.3M531.5,238.8L531.6,239.3M531.5,238.8L534.0,237.6M531.6,239.3L532.5,240.5M534.0,237.6L535.8,240.5M532.5,240.5L535.3,241.1M535.8,240.5L535.3,241.1M531.3,238.6L531.5,238.8M529.2,241.4L531.6,239.3M534.3,237.1L534.0,237.6M531.8,242.3L532.5,240.5M536.2,240.2L535.8,240.5M535.6,243.5L535.3,241.1M549.3,213.5L550.2,215.0M550.4,219.0L550.8,216.8M550.2,215.0L550.8,216.8M552.6,207.9L553.4,207.9M551.3,210.2L555.4,212.2M555.4,212.2L555.7,211.8M555.7,211.8L553.4,207.9M558.3,203.6L554.7,207.6M553.4,207.9L554.7,207.6M564.7,215.8L560.8,212.6M564.2,210.2L561.2,211.1M561.2,211.1L560.8,212.6M575.4,217.6L573.1,215.9M575.4,217.6L574.1,219.7M573.1,215.9L572.9,219.9M574.1,219.7L572.9,219.9M576.7,218.0L575.4,217.6M572.8,215.3L573.1,215.9M576.9,220.6L574.1,219.7M572.1,220.8L572.9,219.9M555.7,267.2L558.7,270.0M555.7,267.2L554.7,267.4M554.7,267.4L557.3,270.5M558.7,270.0L557.4,270.5M557.4,270.5L557.3,270.5M552.6,270.6L557.3,270.5M552.5,270.6L552.7,270.1M554.3,267.4L552.7,270.1M554.3,267.4L554.7,267.4M559.6,271.8L559.0,270.0M556.2,273.5L557.4,270.5M559.0,270.0L558.7,270.0M540.7,255.9L545.1,256.5M545.1,256.5L545.5,259.1M539.6,256.4L540.5,258.2M545.5,259.1L543.1,259.5M540.5,258.2L543.1,259.5M564.8,260.2L564.0,261.5M564.8,260.2L563.4,259.3M563.4,259.3L563.6,261.6M564.0,261.5L563.6,261.6M565.7,260.4L564.8,260.2M566.4,261.7L564.0,261.5M565.0,263.9L563.2,262.0M565.0,263.9L565.8,264.4M563.2,262.0L563.6,261.6M563.2,262.0L561.6,262.2M537.2,230.2L537.1,231.1M537.2,230.2L538.3,230.7M537.1,231.1L538.1,231.8M538.3,230.7L538.7,231.4M538.7,231.4L538.1,231.8M537.0,229.9L537.2,230.2M533.5,232.3L537.1,231.1M538.8,228.6L538.3,230.7M536.8,234.2L538.1,231.8M539.2,231.5L538.7,231.4M557.0,215.0L555.2,212.6M557.0,215.0L555.6,216.8M555.6,216.8L554.7,216.2M554.7,216.2L553.9,214.9M553.9,214.9L553.8,213.4M553.8,213.4L555.2,212.6M556.0,219.3L555.6,216.8M550.8,216.8L554.7,216.2M550.2,215.0L553.9,214.9M550.3,211.5L553.8,213.4M555.4,212.2L555.2,212.6M556.3,211.6L557.9,209.9M556.3,211.6L557.7,213.1M557.7,213.1L559.6,210.2M557.9,209.9L559.2,209.9M559.2,209.9L559.6,210.2M555.7,211.8L556.3,211.6M554.7,207.6L557.9,209.9M559.6,204.5L559.2,209.9M561.2,211.1L559.6,210.2M560.8,215.0L559.6,215.8M560.8,215.0L560.6,213.0M560.6,213.0L557.8,214.0M559.6,215.8L557.2,214.9M557.2,214.9L557.8,214.0M564.2,217.2L560.8,215.0M559.5,220.1L559.6,215.8M560.8,212.6L560.6,213.0M557.7,213.1L557.8,214.0M557.0,215.0L557.2,214.9M543.1,266.3L543.9,266.3M544.1,268.3L544.0,266.4M543.9,266.3L544.0,266.4M555.3,263.2L553.7,264.0M555.3,263.2L555.5,263.4M556.6,266.0L555.5,263.4M556.6,266.0L555.7,267.2M554.3,267.4L553.5,265.3M553.7,264.0L553.5,265.3M552.7,270.1L551.8,266.8M553.5,265.3L551.8,266.8M537.8,264.7L538.9,263.6M542.3,265.1L541.9,263.4M541.9,263.4L538.9,263.6M543.9,266.3L544.6,264.7M543.4,262.9L544.6,264.7M543.4,262.9L542.4,263.0M541.9,263.4L542.4,263.0M536.3,258.0L539.0,262.4M538.9,263.6L539.0,262.4M552.7,256.5L552.8,256.6M555.3,263.2L555.9,261.6M555.9,261.6L555.5,260.6M552.1,263.5L553.7,264.0M552.1,263.5L551.2,261.5M551.2,261.5L552.6,260.3M555.5,260.6L552.6,260.3M550.0,256.0L552.3,258.4M550.0,256.0L552.7,256.5M552.8,256.6L553.0,257.9M553.0,257.9L552.3,258.4M545.1,256.5L546.8,253.7M545.1,251.9L545.6,252.2M546.8,253.7L545.6,252.2M545.6,252.2L546.5,250.4M547.1,265.4L549.7,265.7M547.1,265.4L546.4,267.1M546.5,267.3L549.4,267.7M546.5,267.3L546.4,267.1M549.4,267.7L549.8,266.3M549.8,266.3L549.7,265.7M544.0,266.4L546.4,267.1M547.0,265.3L547.1,265.4M547.0,265.3L544.8,264.7M544.6,264.7L544.8,264.7M546.4,267.9L546.5,267.3M550.2,271.0L549.4,267.7M551.8,266.8L549.8,266.3M551.2,261.5L550.3,261.0M552.6,260.3L552.2,258.4M552.2,258.4L549.7,259.2M550.3,261.0L549.7,259.2M549.9,256.0L549.4,258.9M549.9,256.0L550.0,256.0M552.3,258.4L552.2,258.4M549.4,258.9L549.7,259.2M558.0,266.6L558.9,265.1M558.0,266.6L559.1,269.9M558.9,265.1L561.8,265.9M559.3,269.8L559.1,269.9M559.3,269.8L562.5,267.6M561.8,265.9L562.6,267.3M562.5,267.6L562.6,267.3M556.6,266.0L558.0,266.6M555.5,263.4L558.7,264.5M558.7,264.5L558.9,265.1M559.0,270.0L559.1,269.9M563.1,271.7L559.3,269.8M564.8,270.4L562.5,267.6M565.0,263.9L561.6,263.5M563.4,266.8L562.6,267.3M561.6,263.5L561.8,265.9M552.1,263.5L551.0,264.1M549.7,265.7L549.7,265.7M551.0,264.1L549.7,265.7M550.3,261.0L548.1,262.5M551.0,264.1L548.1,262.5M540.5,258.2L540.5,259.0M543.1,259.5L542.2,260.5M542.2,260.5L540.5,259.0M555.2,258.5L555.5,259.7M555.2,258.5L555.8,257.3M555.5,259.7L559.7,258.1M555.8,257.3L559.7,258.1M555.5,260.6L555.5,259.7M553.0,257.9L555.2,258.5M559.8,258.1L559.7,258.1M555.9,261.6L556.6,261.5M559.8,258.1L558.1,261.0M556.6,261.5L558.1,261.0M545.7,263.6L545.4,261.1M545.7,263.6L547.1,264.3M547.1,264.3L548.0,262.8M545.4,261.1L545.7,260.6M545.7,260.6L548.0,262.5M548.0,262.8L548.0,262.5M543.4,262.9L545.4,261.1M544.8,264.7L545.7,263.6M547.0,265.3L547.1,264.3M549.7,265.7L548.0,262.8M545.5,259.1L545.6,259.2M542.4,263.0L541.9,261.0M545.6,259.2L545.7,260.6M542.2,260.5L541.9,261.0M545.6,259.2L549.4,258.9M548.1,262.5L548.0,262.5M540.5,259.0L541.0,260.8M540.5,259.0L539.5,260.4M541.0,260.8L539.5,261.5M539.5,260.4L539.5,261.5M541.9,261.0L541.0,260.8M540.5,259.0L540.5,259.0M536.7,257.6L539.5,260.4M539.0,262.4L539.5,261.5M549.4,252.4L548.1,253.7M549.5,255.1L548.1,253.7M546.8,253.7L548.1,253.7M549.9,256.0L549.5,255.1M560.8,262.0L560.5,262.0M560.8,262.0L561.4,262.3M560.5,262.0L559.0,263.2M561.4,262.3L561.5,263.2M561.5,263.2L558.8,264.5M558.8,264.5L559.0,263.2M558.1,261.0L560.5,262.0M561.6,262.2L561.4,262.3M556.6,261.5L559.0,263.2M561.6,263.5L561.5,263.2M558.7,264.5L558.8,264.5" fill="none" stroke="#d48c70" stroke-width="0.5" opacity="0.8"/>
<circle cx="563.5" cy="240.5" r="41.5" fill="none" stroke="#e6b89a" stroke-width="0.8"/>
<path d="M579.8,239.3L579.5,239.5M579.5,239.5L579.3,241.1M580.0,241.9L579.3,241.1M548.4,241.2L546.7,243.5M548.4,241.2L549.4,244.9M549.4,244.9L546.7,243.5M557.0,257.1L558.2,257.1M559.0,257.2L558.2,257.1M555.1,253.6L556.5,252.4M555.1,253.6L555.4,255.8M556.7,252.5L558.2,257.1M556.7,252.5L556.5,252.4M555.4,255.8L555.5,256.0M555.5,256.0L557.0,257.1M561.0,256.8L559.0,257.2M569.6,256.8L569.4,255.2M569.8,255.2L569.4,255.2M579.5,239.5L578.4,238.7M577.1,234.5L578.2,234.0M577.1,234.5L577.1,234.5M577.1,234.5L578.4,238.7M548.2,237.1L551.7,238.0M548.6,240.2L550.6,240.4M551.7,238.0L550.6,240.4M548.8,235.1L548.2,237.1M548.4,241.2L548.6,240.2M546.6,243.5L546.7,243.5M553.2,242.2L555.8,244.9M553.2,242.2L553.6,241.9M553.6,241.9L557.5,243.5M555.8,244.9L557.4,244.7M557.4,244.7L557.5,243.5M555.1,248.9L555.2,249.0M555.1,248.9L554.0,246.7M555.2,249.0L558.4,245.8M554.0,246.7L555.8,244.9M558.4,245.8L557.4,244.7M560.5,240.9L559.8,241.1M560.5,240.9L561.8,243.4M559.8,241.1L559.2,242.9M559.2,242.9L561.6,243.6M561.8,243.4L561.6,243.6M559.2,242.9L557.5,243.5M557.5,243.5L557.5,243.5M558.4,245.8L560.5,246.8M561.6,243.6L560.5,246.8M549.4,244.9L549.8,245.2M552.1,242.5L550.8,245.2M552.1,242.5L550.6,240.4M549.8,245.2L550.8,245.2M553.2,250.5L551.6,251.7M553.2,250.5L553.9,253.1M553.9,253.1L551.6,251.7M556.3,250.3L555.2,249.0M556.3,250.3L556.5,252.4M555.1,248.9L553.6,249.6M553.6,249.6L553.2,250.5M555.1,253.6L554.3,253.5M554.3,253.5L553.9,253.1M554.3,253.5L553.0,254.2M550.6,251.6L551.6,251.7M561.0,256.8L561.2,256.6M556.7,252.5L560.0,253.3M560.0,253.3L561.3,256.2M561.2,256.6L561.3,256.2M577.1,234.5L575.9,236.9M578.4,238.7L578.0,238.6M578.0,238.6L575.9,236.9M577.1,234.5L575.8,234.0M575.9,236.9L575.1,236.9M575.1,236.9L573.8,235.2M573.8,235.2L575.8,234.0M575.7,230.6L575.5,231.0M575.5,231.0L575.3,231.7M575.8,234.0L575.3,231.7M548.8,235.1L549.5,234.0M549.5,234.0L549.3,233.2M551.7,238.0L551.9,237.8M551.9,237.8L551.4,235.6M551.4,235.6L550.7,235.0M549.5,234.0L550.7,235.0M554.9,234.0L551.4,235.6M554.9,234.0L554.9,232.7M554.9,232.7L554.8,232.5M550.7,235.0L554.8,232.5M549.3,233.2L549.7,232.1M560.5,240.9L561.2,239.4M559.8,241.1L558.5,240.9M561.2,239.4L561.1,239.3M561.1,239.3L558.5,240.0M558.5,240.9L558.5,240.0M557.5,243.5L557.4,242.5M557.4,242.5L558.4,240.9M558.5,240.9L558.4,240.9M558.3,237.7L560.0,237.7M558.3,237.7L558.4,239.5M560.0,237.7L561.1,239.3M558.4,239.5L558.5,240.0M550.2,248.4L550.8,245.3M550.2,248.4L551.9,249.5M552.5,249.3L551.9,249.5M552.5,249.3L551.3,245.6M551.3,245.6L550.8,245.3M550.8,245.2L550.8,245.3M549.9,248.8L550.2,248.4M550.6,251.6L551.9,249.5M553.6,249.6L552.5,249.3M554.0,246.7L551.3,245.6M552.1,242.5L553.2,242.2M569.3,242.2L569.5,242.0M569.3,242.2L569.4,244.5M569.5,242.0L569.5,241.9M569.5,241.9L573.3,243.0M573.3,243.0L573.7,246.8M569.4,244.5L573.7,246.8M569.3,242.2L565.0,242.8M566.9,247.1L565.6,246.5M566.9,247.1L568.2,246.4M565.0,242.8L564.7,245.4M568.2,246.4L569.2,245.3M565.6,246.5L564.7,245.4M569.4,244.5L569.2,245.3M564.1,254.6L562.7,255.4M564.1,254.6L569.1,255.2M562.7,255.4L566.8,257.7M569.1,255.2L566.8,257.7M561.3,256.2L562.7,255.4M569.4,255.2L569.2,255.2M569.2,255.2L569.1,255.2M569.8,255.2L572.2,253.5M572.2,253.5L573.5,253.5M577.5,242.1L577.1,244.6M577.5,242.1L575.6,242.0M575.6,242.0L573.5,243.0M573.5,243.0L576.0,245.5M577.1,244.6L576.0,245.5M575.1,247.1L575.5,246.7M575.1,247.1L574.1,247.2M573.5,243.0L573.3,243.0M574.1,247.2L573.7,246.8M576.0,245.5L575.5,246.7M576.2,238.7L574.9,238.1M576.2,238.7L574.9,240.2M574.9,238.1L572.9,239.0M574.9,240.2L572.9,239.0M578.0,238.6L576.2,238.7M575.1,236.9L574.9,238.1M577.5,242.1L579.3,241.1M575.6,242.0L574.9,240.2M569.5,241.9L570.7,238.8M570.7,238.8L572.9,239.0M573.8,235.2L570.9,235.6M575.3,231.7L571.4,232.7M571.4,232.7L570.9,235.6M575.5,231.0L570.8,229.9M571.4,232.7L570.8,229.9M572.8,227.8L570.7,229.8M570.8,229.9L570.7,229.8M570.7,238.8L570.4,236.0M570.4,236.0L570.9,235.6M569.6,225.7L569.7,229.5M569.7,229.5L570.7,229.8M567.9,226.3L567.9,227.7M567.9,226.3L566.2,227.3M566.2,227.3L567.9,227.7M569.7,229.5L569.4,229.5M567.1,233.5L569.8,235.8M567.1,233.5L568.6,229.9M569.8,235.8L570.4,236.0M569.4,229.5L568.6,229.9M569.6,225.7L568.6,225.4M567.9,226.3L568.1,225.7M567.9,227.7L569.4,229.5M568.1,225.7L568.6,225.4M549.7,232.1L550.1,231.6M554.8,232.5L553.9,230.5M553.9,230.5L550.1,231.6M556.6,237.3L555.8,237.1M556.6,237.3L557.3,240.1M555.8,237.1L555.0,237.9M555.0,237.9L554.8,240.6M554.8,240.6L555.9,241.0M555.9,241.0L557.3,240.4M557.3,240.1L557.3,240.4M557.1,237.3L556.6,237.3M557.1,237.3L558.3,237.7M558.4,239.5L557.3,240.1M554.9,234.0L555.3,235.1M551.9,237.8L555.0,237.9M555.3,235.1L555.8,237.1M553.6,241.9L554.8,240.6M557.4,242.5L555.9,241.0M558.4,240.9L557.3,240.4M561.0,247.7L561.3,247.7M561.0,247.7L560.8,248.3M561.3,247.7L563.6,248.6M560.8,248.3L561.0,251.2M561.0,251.2L564.2,251.9M563.6,248.6L565.7,250.2M564.2,251.9L565.7,250.2M565.7,250.2L565.7,250.2M564.4,242.5L565.0,242.8M564.4,242.5L561.8,243.4M560.5,246.8L561.0,247.7M564.7,245.4L561.3,247.7M556.3,250.3L560.8,248.3M565.6,246.5L563.6,248.6M560.0,253.3L561.0,251.2M564.1,254.6L564.2,251.9M566.9,247.1L565.7,250.2M567.7,251.2L569.2,255.2M567.7,251.2L565.7,250.2M569.2,245.3L570.0,246.6M574.1,247.2L572.8,248.9M572.8,248.9L572.7,249.0M570.0,246.6L572.7,249.0M573.5,253.5L575.0,253.0M577.1,244.6L577.7,245.1M579.2,245.1L577.7,245.1M574.7,250.2L575.8,252.0M574.7,250.2L575.9,249.2M575.9,249.2L576.9,250.5M576.2,251.8L575.8,252.0M576.2,251.8L576.8,250.9M576.8,250.9L576.9,250.5M575.1,247.1L575.9,248.2M572.8,248.9L574.7,250.2M575.9,248.2L575.9,249.2M575.0,253.0L575.8,252.0M569.5,242.0L565.3,238.3M564.4,242.5L563.5,240.2M565.3,238.3L563.5,240.2M561.2,239.4L562.2,239.5M563.5,240.2L562.2,239.5M564.5,225.9L564.5,225.4M564.5,225.9L568.1,225.7M554.9,232.7L555.7,232.8M555.3,235.1L559.0,234.1M555.7,232.8L559.0,234.1M557.1,237.3L559.1,234.1M559.0,234.1L559.1,234.1M560.0,237.7L561.6,235.2M561.3,234.6L559.2,234.1M561.3,234.6L561.3,234.7M561.6,235.2L561.3,234.7M559.1,234.1L559.2,234.1M553.9,230.5L554.1,229.9M559.7,226.8L560.0,227.0M564.5,225.9L564.3,226.5M560.0,227.0L560.9,227.3M564.3,226.5L560.9,227.3M566.2,227.3L564.7,227.2M564.3,226.5L564.7,227.2M561.6,231.8L560.1,231.1M561.6,231.8L562.9,230.9M560.1,231.1L561.5,228.7M561.5,228.7L562.9,230.9M568.2,246.4L568.6,249.8M570.0,246.6L569.7,248.9M569.7,248.9L568.6,249.8M567.7,251.2L568.4,250.5M568.4,250.5L568.6,249.8M578.7,247.2L578.8,247.2M578.7,247.2L578.2,247.2M578.2,247.2L576.7,248.5M578.8,247.3L578.0,249.4M578.8,247.3L578.8,247.2M576.7,248.5L577.9,249.4M578.0,249.4L577.9,249.4M579.2,245.1L578.8,247.2M577.7,245.1L578.7,247.2M575.5,246.7L578.2,247.2M575.9,248.2L576.7,248.5M576.9,250.5L577.9,249.4M569.8,235.8L565.4,237.3M565.3,238.3L565.3,237.4M565.4,237.3L565.3,237.4M562.2,239.5L563.5,236.6M565.3,237.4L563.5,236.6M558.0,232.3L558.9,232.7M558.0,232.3L558.4,230.6M558.9,232.7L559.9,231.1M558.4,230.6L559.6,230.7M559.6,230.7L559.9,231.1M555.7,232.8L558.0,232.3M559.2,234.1L558.9,232.7M555.8,229.2L554.1,229.9M555.8,229.2L558.4,230.6M561.3,234.6L561.6,231.8M560.1,231.1L559.9,231.1M560.0,227.0L559.6,230.7M560.9,227.3L561.5,228.7M556.0,229.0L559.0,226.8M559.0,226.8L558.5,226.1M555.8,229.2L556.0,229.0M559.7,226.8L559.0,226.8M567.0,229.7L565.0,228.9M567.0,229.7L565.4,232.8M565.0,228.9L563.8,230.9M563.8,230.9L564.8,232.3M565.4,232.8L564.8,232.3M568.6,229.9L567.0,229.7M564.7,227.2L565.0,228.9M562.9,230.9L563.8,230.9M561.3,234.7L564.8,232.3M572.2,251.9L572.4,249.4M572.2,251.9L569.6,250.4M569.6,250.4L572.3,249.4M572.4,249.4L572.3,249.4M572.2,253.5L572.2,251.9M572.7,249.0L572.4,249.4M568.4,250.5L569.6,250.4M569.7,248.9L572.3,249.4M565.6,234.6L563.1,236.0M565.6,234.6L566.3,233.4M566.3,233.4L565.4,232.9M565.4,232.9L562.3,235.5M562.3,235.5L563.1,236.0M565.4,237.3L565.6,234.6M563.5,236.6L563.1,236.0M567.1,233.5L566.3,233.4M565.4,232.8L565.4,232.9M561.6,235.2L562.3,235.5" fill="none" stroke="#c87848" stroke-width="0.4" opacity="0.6"/>
<circle cx="563.5" cy="241.5" r="17.8" fill="none" stroke="#d8784a" stroke-width="0.8" opacity="0.8"/>
<circle cx="563" cy="240.5" r="3.4" fill="#f8e0c4"/>
<rect x="517" y="336.3" width="95.4" height="80.7" fill="#f6dcc8"/>
<rect x="517" y="336.3" width="26" height="80.7" fill="#eda27c"/>
<g fill="none" stroke="#c2643a" stroke-width="0.7" clip-path="url(#rectClip)"><polyline points="517.7,336.3 517.8,340.6 516.6,347.0 516.6,353.5 517.0,358.1 517.0,362.8 517.3,369.6 516.9,375.7 517.5,382.0 517.7,388.1 516.9,394.6 517.3,398.8 516.8,405.3 517.6,411.1 517.0,417.0"/><line x1="517.0" y1="336.3" x2="521.4" y2="336.3"/><line x1="517.0" y1="345.5" x2="521.4" y2="344.7"/><line x1="517.0" y1="361.8" x2="521.4" y2="361.6"/><line x1="517.0" y1="376.2" x2="521.4" y2="376.2"/><line x1="517.0" y1="388.3" x2="521.4" y2="387.7"/><line x1="517.0" y1="400.4" x2="521.4" y2="401.1"/><line x1="517.0" y1="415.0" x2="521.4" y2="414.6"/><polyline points="521.5,336.3 521.4,341.6 520.6,348.0 520.4,354.1 520.7,360.6 521.9,365.4 520.7,370.5 521.3,377.1 521.0,383.8 521.9,389.3 522.0,394.8 521.7,399.4 521.2,403.9 520.7,407.9 521.1,414.7 521.2,417.0"/><line x1="521.2" y1="338.8" x2="525.6" y2="338.5"/><line x1="521.2" y1="348.7" x2="525.6" y2="348.8"/><line x1="521.2" y1="365.5" x2="525.6" y2="365.5"/><line x1="521.2" y1="377.9" x2="525.6" y2="378.7"/><line x1="521.2" y1="394.9" x2="525.6" y2="395.2"/><line x1="521.2" y1="404.6" x2="525.6" y2="404.8"/><polyline points="526.0,336.3 526.5,342.3 526.3,347.4 526.9,353.4 526.0,358.9 525.5,365.9 526.6,372.4 526.2,378.0 526.9,384.3 526.7,390.5 526.0,394.6 527.0,399.0 525.7,405.7 526.4,411.4 526.1,415.6 526.3,417.0"/><line x1="526.3" y1="342.7" x2="530.7" y2="342.3"/><line x1="526.3" y1="358.6" x2="530.7" y2="358.2"/><line x1="526.3" y1="372.5" x2="530.7" y2="372.3"/><line x1="526.3" y1="390.3" x2="530.7" y2="390.6"/><line x1="526.3" y1="406.5" x2="530.7" y2="406.9"/><polyline points="531.0,336.3 530.3,342.4 530.8,346.9 531.1,353.3 530.1,358.4 531.3,363.9 531.0,368.4 530.4,372.9 530.3,377.1 531.4,382.2 530.2,389.1 531.4,394.0 530.4,398.6 530.0,404.0 530.5,408.7 531.4,413.9 530.7,417.0"/><line x1="530.7" y1="338.3" x2="535.1" y2="339.2"/><line x1="530.7" y1="351.4" x2="535.1" y2="352.1"/><line x1="530.7" y1="366.1" x2="535.1" y2="366.7"/><line x1="530.7" y1="378.0" x2="535.1" y2="377.3"/><line x1="530.7" y1="393.8" x2="535.1" y2="393.7"/><line x1="530.7" y1="407.8" x2="535.1" y2="408.1"/><polyline points="534.2,336.3 534.4,343.1 534.6,347.9 534.8,352.7 534.9,356.8 534.1,362.5 534.0,369.3 533.7,374.1 534.8,379.7 534.2,385.7 533.8,392.2 534.6,397.1 534.6,404.0 534.8,410.1 535.1,415.3 534.4,417.0"/><line x1="534.4" y1="339.7" x2="538.8" y2="339.5"/><line x1="534.4" y1="356.0" x2="538.8" y2="355.7"/><line x1="534.4" y1="366.6" x2="538.8" y2="367.4"/><line x1="534.4" y1="380.4" x2="538.8" y2="380.5"/><line x1="534.4" y1="395.5" x2="538.8" y2="396.3"/><line x1="534.4" y1="405.7" x2="538.8" y2="405.3"/><line x1="534.4" y1="415.2" x2="538.8" y2="415.1"/><polyline points="539.6,336.3 539.2,342.0 539.0,347.8 539.8,354.3 538.8,360.8 539.8,366.8 540.0,372.3 539.7,379.0 539.6,385.5 538.8,392.1 539.7,398.2 539.0,404.1 539.5,408.3 539.0,414.7 539.4,417.0"/><line x1="539.4" y1="338.5" x2="543.8" y2="337.7"/><line x1="539.4" y1="353.6" x2="543.8" y2="354.6"/><line x1="539.4" y1="369.8" x2="543.8" y2="369.6"/><line x1="539.4" y1="385.1" x2="543.8" y2="384.3"/><line x1="539.4" y1="401.7" x2="543.8" y2="401.3"/><line x1="539.4" y1="410.7" x2="543.8" y2="411.0"/></g>
<rect x="543" y="336.3" width="12" height="80.7" fill="url(#oliveG)"/>
<g fill="#a88030" opacity="0.6"><circle cx="546.3" cy="341.1" r="0.5"/><circle cx="548.3" cy="381.1" r="0.5"/><circle cx="552.7" cy="339.5" r="0.5"/><circle cx="552.9" cy="345.2" r="0.5"/><circle cx="545.7" cy="387.1" r="0.5"/><circle cx="547.1" cy="363.0" r="0.5"/><circle cx="549.8" cy="353.9" r="0.5"/><circle cx="552.5" cy="353.2" r="0.5"/><circle cx="553.1" cy="401.6" r="0.5"/><circle cx="549.4" cy="338.8" r="0.5"/><circle cx="552.3" cy="338.6" r="0.5"/><circle cx="549.1" cy="370.5" r="0.5"/><circle cx="543.8" cy="387.1" r="0.5"/><circle cx="551.7" cy="383.5" r="0.5"/><circle cx="547.8" cy="377.6" r="0.5"/><circle cx="550.1" cy="354.6" r="0.5"/><circle cx="553.4" cy="416.7" r="0.5"/><circle cx="552.7" cy="413.9" r="0.5"/><circle cx="547.0" cy="415.9" r="0.5"/><circle cx="543.9" cy="374.9" r="0.5"/><circle cx="544.6" cy="372.9" r="0.5"/><circle cx="551.2" cy="393.5" r="0.5"/><circle cx="548.5" cy="363.9" r="0.5"/><circle cx="545.3" cy="368.8" r="0.5"/><circle cx="546.4" cy="352.0" r="0.5"/><circle cx="551.8" cy="378.0" r="0.5"/><circle cx="548.3" cy="352.3" r="0.5"/><circle cx="551.4" cy="352.2" r="0.5"/><circle cx="546.2" cy="381.5" r="0.5"/><circle cx="551.4" cy="414.8" r="0.5"/><circle cx="552.0" cy="412.8" r="0.5"/><circle cx="554.0" cy="394.6" r="0.5"/><circle cx="551.6" cy="341.4" r="0.5"/><circle cx="545.5" cy="337.4" r="0.5"/><circle cx="553.4" cy="394.6" r="0.5"/><circle cx="550.6" cy="357.6" r="0.5"/><circle cx="547.3" cy="349.5" r="0.5"/><circle cx="550.6" cy="416.3" r="0.5"/><circle cx="546.7" cy="339.9" r="0.5"/><circle cx="545.1" cy="365.0" r="0.5"/><circle cx="553.8" cy="401.2" r="0.5"/><circle cx="548.5" cy="344.5" r="0.5"/><circle cx="544.3" cy="348.7" r="0.5"/><circle cx="552.3" cy="374.3" r="0.5"/><circle cx="554.9" cy="409.9" r="0.5"/><circle cx="552.5" cy="374.7" r="0.5"/><circle cx="552.9" cy="346.7" r="0.5"/><circle cx="544.3" cy="381.8" r="0.5"/><circle cx="549.1" cy="353.2" r="0.5"/><circle cx="546.0" cy="338.0" r="0.5"/><circle cx="553.9" cy="393.6" r="0.5"/><circle cx="554.3" cy="415.4" r="0.5"/><circle cx="548.2" cy="395.4" r="0.5"/><circle cx="547.6" cy="401.8" r="0.5"/><circle cx="553.1" cy="347.1" r="0.5"/><circle cx="543.2" cy="353.6" r="0.5"/><circle cx="550.0" cy="366.9" r="0.5"/><circle cx="543.1" cy="403.3" r="0.5"/><circle cx="552.4" cy="373.7" r="0.5"/><circle cx="543.5" cy="408.0" r="0.5"/><circle cx="549.4" cy="342.0" r="0.5"/><circle cx="546.9" cy="386.7" r="0.5"/><circle cx="553.6" cy="375.4" r="0.5"/><circle cx="550.7" cy="352.9" r="0.5"/><circle cx="545.9" cy="409.4" r="0.5"/><circle cx="547.6" cy="344.7" r="0.5"/><circle cx="550.1" cy="346.5" r="0.5"/><circle cx="545.4" cy="373.1" r="0.5"/><circle cx="550.0" cy="387.7" r="0.5"/><circle cx="551.5" cy="371.8" r="0.5"/><circle cx="543.8" cy="394.8" r="0.5"/><circle cx="543.6" cy="374.3" r="0.5"/><circle cx="547.8" cy="390.6" r="0.5"/><circle cx="551.6" cy="355.7" r="0.5"/><circle cx="550.8" cy="392.1" r="0.5"/><circle cx="548.7" cy="347.7" r="0.5"/><circle cx="553.9" cy="384.6" r="0.5"/><circle cx="543.8" cy="355.6" r="0.5"/><circle cx="554.8" cy="354.8" r="0.5"/><circle cx="547.7" cy="399.9" r="0.5"/><circle cx="552.9" cy="387.5" r="0.5"/><circle cx="551.9" cy="339.4" r="0.5"/><circle cx="544.1" cy="415.1" r="0.5"/><circle cx="552.6" cy="339.4" r="0.5"/><circle cx="543.6" cy="355.7" r="0.5"/><circle cx="554.2" cy="354.0" r="0.5"/><circle cx="551.1" cy="411.4" r="0.5"/><circle cx="550.7" cy="410.5" r="0.5"/><circle cx="546.2" cy="348.7" r="0.5"/><circle cx="543.2" cy="397.4" r="0.5"/><circle cx="544.2" cy="414.8" r="0.5"/><circle cx="551.5" cy="351.4" r="0.5"/><circle cx="552.7" cy="349.4" r="0.5"/><circle cx="549.1" cy="344.8" r="0.5"/><circle cx="552.4" cy="408.1" r="0.5"/><circle cx="554.0" cy="336.5" r="0.5"/><circle cx="553.2" cy="381.2" r="0.5"/><circle cx="552.9" cy="376.8" r="0.5"/><circle cx="550.4" cy="384.3" r="0.5"/><circle cx="552.6" cy="342.6" r="0.5"/><circle cx="543.7" cy="380.3" r="0.5"/><circle cx="546.5" cy="368.3" r="0.5"/><circle cx="543.1" cy="396.4" r="0.5"/><circle cx="543.3" cy="403.3" r="0.5"/><circle cx="552.7" cy="373.3" r="0.5"/><circle cx="544.5" cy="388.8" r="0.5"/><circle cx="545.5" cy="370.9" r="0.5"/><circle cx="544.3" cy="415.1" r="0.5"/><circle cx="549.6" cy="364.7" r="0.5"/><circle cx="544.1" cy="395.2" r="0.5"/><circle cx="553.2" cy="404.8" r="0.5"/><circle cx="544.2" cy="366.0" r="0.5"/><circle cx="546.6" cy="397.8" r="0.5"/><circle cx="544.8" cy="385.2" r="0.5"/><circle cx="554.7" cy="398.3" r="0.5"/><circle cx="543.1" cy="342.4" r="0.5"/><circle cx="544.4" cy="392.2" r="0.5"/><circle cx="550.2" cy="378.3" r="0.5"/><circle cx="548.5" cy="369.2" r="0.5"/><circle cx="550.3" cy="388.6" r="0.5"/></g>
<rect x="555" y="336.3" width="15" height="80.7" fill="#e48a5e"/>
<g fill="none" stroke="#c8603a" stroke-width="0.5" opacity="0.7"><ellipse cx="567.9" cy="395.0" rx="2.3" ry="3.8"/><ellipse cx="566.9" cy="393.7" rx="1.5" ry="3.4"/><ellipse cx="567.0" cy="371.2" rx="2.4" ry="2.4"/><ellipse cx="568.3" cy="372.1" rx="2.2" ry="2.5"/><ellipse cx="559.9" cy="364.7" rx="1.8" ry="2.2"/><ellipse cx="561.8" cy="414.5" rx="2.2" ry="3.9"/><ellipse cx="565.9" cy="403.2" rx="2.5" ry="3.5"/><ellipse cx="559.6" cy="357.0" rx="1.9" ry="2.0"/><ellipse cx="559.0" cy="407.1" rx="2.4" ry="2.7"/><ellipse cx="566.0" cy="398.3" rx="2.4" ry="3.6"/><ellipse cx="562.9" cy="345.6" rx="2.3" ry="2.6"/><ellipse cx="564.2" cy="366.2" rx="2.0" ry="3.9"/><ellipse cx="558.1" cy="379.1" rx="2.1" ry="3.1"/><ellipse cx="568.2" cy="369.4" rx="2.4" ry="3.4"/><ellipse cx="568.6" cy="344.4" rx="1.7" ry="2.6"/><ellipse cx="567.8" cy="338.4" rx="1.8" ry="3.4"/><ellipse cx="568.9" cy="351.2" rx="1.9" ry="3.4"/><ellipse cx="565.0" cy="396.0" rx="2.3" ry="2.5"/><ellipse cx="559.3" cy="339.5" rx="2.2" ry="2.4"/><ellipse cx="559.4" cy="413.2" rx="2.1" ry="3.2"/><ellipse cx="564.5" cy="384.4" rx="2.2" ry="2.6"/><ellipse cx="556.8" cy="342.6" rx="1.5" ry="2.7"/><ellipse cx="557.8" cy="346.2" rx="2.0" ry="3.9"/><ellipse cx="564.9" cy="358.8" rx="2.3" ry="2.4"/><ellipse cx="557.3" cy="361.2" rx="1.9" ry="3.4"/><ellipse cx="561.8" cy="394.6" rx="1.6" ry="3.9"/><ellipse cx="560.5" cy="402.8" rx="1.5" ry="3.7"/><ellipse cx="558.9" cy="404.6" rx="2.3" ry="3.3"/><ellipse cx="559.6" cy="338.1" rx="1.7" ry="3.8"/><ellipse cx="558.1" cy="389.2" rx="2.1" ry="3.3"/><ellipse cx="558.3" cy="348.6" rx="1.6" ry="4.0"/><ellipse cx="561.0" cy="388.6" rx="2.1" ry="2.4"/><ellipse cx="556.8" cy="338.5" rx="2.4" ry="2.3"/><ellipse cx="568.5" cy="365.9" rx="2.2" ry="2.3"/><ellipse cx="566.2" cy="357.1" rx="1.9" ry="3.0"/><ellipse cx="557.4" cy="356.8" rx="2.3" ry="2.6"/><ellipse cx="561.0" cy="397.5" rx="1.7" ry="2.4"/><ellipse cx="558.8" cy="367.5" rx="1.9" ry="3.3"/><ellipse cx="562.1" cy="405.7" rx="1.6" ry="3.3"/><ellipse cx="566.9" cy="355.8" rx="1.5" ry="2.9"/><ellipse cx="557.5" cy="373.5" rx="2.2" ry="2.2"/><ellipse cx="557.5" cy="375.0" rx="1.7" ry="2.5"/><ellipse cx="561.7" cy="346.6" rx="1.6" ry="2.7"/><ellipse cx="562.1" cy="411.0" rx="2.1" ry="2.1"/><ellipse cx="558.9" cy="395.9" rx="2.1" ry="3.7"/><ellipse cx="568.5" cy="404.8" rx="1.6" ry="3.9"/><ellipse cx="562.8" cy="356.2" rx="1.7" ry="3.7"/><ellipse cx="558.8" cy="343.8" rx="1.8" ry="3.8"/><ellipse cx="562.0" cy="394.9" rx="1.6" ry="2.9"/><ellipse cx="560.1" cy="353.5" rx="2.2" ry="2.7"/><ellipse cx="557.6" cy="414.8" rx="2.0" ry="2.4"/><ellipse cx="556.1" cy="388.7" rx="2.0" ry="2.0"/><ellipse cx="562.1" cy="395.6" rx="2.0" ry="2.5"/><ellipse cx="562.5" cy="384.9" rx="2.2" ry="2.3"/><ellipse cx="566.4" cy="411.7" rx="2.2" ry="3.7"/><ellipse cx="560.8" cy="408.3" rx="1.7" ry="2.5"/><ellipse cx="563.8" cy="408.3" rx="1.6" ry="2.4"/><ellipse cx="556.5" cy="371.9" rx="1.6" ry="2.4"/><ellipse cx="565.7" cy="383.2" rx="2.4" ry="2.8"/><ellipse cx="564.8" cy="338.3" rx="2.4" ry="2.5"/></g>
<rect x="570" y="336.3" width="10" height="80.7" fill="#ecbcc6"/>
<path d="M600.5,343.5L601.4,346.1M600.5,343.5L602.1,342.7M602.1,342.7L603.4,345.7M601.4,346.1L603.4,345.7M602.3,340.6L606.0,342.2M602.3,340.6L602.1,342.7M606.0,342.2L605.9,346.2M605.8,346.3L605.9,346.2M605.8,346.3L603.4,345.7M605.3,393.4L605.3,393.4M605.3,393.4L606.3,391.0M580.5,358.1L581.1,357.6M581.6,353.2L581.6,353.6M581.1,357.6L581.6,353.6M580.5,358.1L580.7,358.8M600.3,336.5L602.4,338.7M583.2,340.1L583.0,344.2M583.2,340.1L581.9,340.2M582.2,344.7L583.0,344.2M583.2,340.1L583.5,340.0M606.0,342.2L606.5,341.7M601.9,340.1L602.4,338.7M601.9,340.1L602.3,340.6M599.5,343.0L600.6,346.5M599.5,343.0L598.1,342.1M598.1,342.1L597.6,346.0M597.6,346.0L599.3,347.2M599.3,347.2L600.6,346.5M600.5,343.5L599.5,343.0M601.4,346.1L600.6,346.5M599.8,340.4L598.1,337.4M599.8,340.4L598.0,342.1M598.0,342.1L596.3,341.5M596.3,341.5L594.5,338.8M594.5,338.8L597.6,337.2M598.1,337.4L597.6,337.2M601.9,340.1L599.8,340.4M600.3,336.5L598.1,337.4M598.1,342.1L598.0,342.1M592.9,346.8L592.5,345.3M592.9,346.8L597.6,346.0M592.5,345.3L596.3,341.5M590.8,343.2L590.8,342.9M590.8,343.2L592.5,345.3M590.8,342.9L591.4,341.8M594.5,338.8L594.5,338.8M591.4,341.8L594.5,338.8M599.1,361.4L603.7,360.7M599.1,361.4L599.8,364.8M603.7,360.7L603.9,363.3M603.9,363.3L599.8,364.8M604.3,411.4L604.8,413.0M604.8,413.0L606.1,413.1M601.0,416.4L601.9,416.5M605.3,393.4L604.4,394.2M604.2,395.9L604.4,394.2M595.4,405.2L592.9,404.4M595.4,405.2L597.4,401.6M597.4,401.6L596.4,401.7M596.4,401.7L592.8,404.1M592.9,404.4L592.8,404.1M595.9,407.7L596.8,406.2M595.9,407.7L591.9,407.4M596.8,406.2L595.4,405.2M591.9,407.4L591.8,406.3M591.8,406.3L592.9,404.4M604.3,411.4L601.9,408.6M601.9,408.6L606.2,406.2M580.5,404.9L580.5,402.6M595.1,394.2L596.1,398.5M595.1,394.2L595.0,394.3M596.1,398.5L592.2,399.2M592.2,399.2L595.0,394.3M596.4,401.7L592.1,399.3M592.8,404.1L590.8,400.1M592.1,399.3L591.4,399.5M590.8,400.1L591.4,399.5M591.8,406.3L589.2,405.7M589.2,405.7L587.4,403.0M587.4,403.0L589.5,400.2M590.8,400.1L589.5,400.2M582.5,366.3L581.3,363.2M582.5,366.3L585.0,366.3M585.0,366.3L585.0,366.3M585.0,366.3L585.6,364.0M585.6,364.0L584.1,362.3M584.1,362.3L582.5,362.1M582.5,362.1L581.3,363.2M581.5,366.8L582.5,366.3M588.5,368.9L589.6,367.4M588.5,368.9L585.0,366.3M589.6,367.4L586.9,363.4M586.9,363.4L585.6,364.0M580.7,358.8L582.5,362.1M594.4,371.2L595.9,367.1M594.4,371.2L591.6,371.9M591.6,371.9L590.7,371.5M590.7,371.5L594.0,365.9M594.0,365.9L595.9,367.1M605.9,366.8L605.2,364.0M605.8,386.9L604.8,384.1M603.5,382.4L604.8,384.1M602.7,381.8L603.5,382.4M599.1,381.2L593.9,377.2M599.1,381.2L599.9,380.8M599.9,380.8L600.6,376.4M600.6,376.4L598.6,374.3M593.4,375.8L593.9,377.2M593.4,375.8L597.5,374.0M597.5,374.0L598.6,374.3M592.5,375.5L591.6,371.9M592.5,375.5L593.4,375.8M594.4,371.2L597.5,374.0M599.0,366.9L599.1,369.1M599.0,366.9L595.9,367.1M599.1,369.1L598.6,374.3M604.5,388.0L604.1,388.8M604.5,388.0L601.9,386.6M604.1,388.8L603.1,389.7M603.1,389.7L601.0,388.5M601.9,386.6L601.0,388.5M605.8,386.9L604.5,388.0M606.3,391.0L604.1,388.8M600.3,381.1L602.7,381.8M600.3,381.1L601.9,386.6M605.3,393.4L603.0,390.8M603.0,390.8L603.1,389.7M583.7,348.1L581.9,349.1M583.7,348.1L584.5,348.3M584.5,348.3L585.9,349.7M581.9,349.1L581.0,350.8M585.9,349.7L585.8,350.6M585.8,350.6L581.7,353.1M581.0,350.8L581.6,353.1M581.6,353.1L581.7,353.1M582.2,344.7L583.7,348.1M585.6,343.6L586.8,344.7M585.6,343.6L583.0,344.2M586.8,344.7L584.5,348.3M589.0,348.8L585.9,349.7M589.0,348.8L587.0,344.7M587.0,344.7L586.8,344.7M581.6,353.2L581.6,353.1M580.9,371.4L583.5,371.1M581.4,368.0L583.5,369.9M583.5,369.9L583.5,371.1M580.5,373.4L580.9,371.4M581.5,366.8L581.4,368.0M580.5,373.4L583.9,375.0M583.9,375.0L584.2,371.6M584.2,371.6L583.5,371.1M585.0,366.3L583.5,369.9M588.8,371.1L584.2,371.6M588.8,371.1L588.5,368.9M581.9,385.1L581.0,382.2M583.1,388.3L583.2,388.3M583.2,388.3L584.8,386.1M584.8,386.1L581.9,385.1M605.8,346.3L605.6,347.6M599.5,349.6L603.7,350.0M599.5,349.6L599.3,347.2M605.6,347.6L604.6,349.5M603.7,350.0L604.6,349.5M588.4,337.6L592.9,336.6M594.5,338.8L592.9,336.7M592.9,336.6L592.9,336.7M599.0,366.9L599.5,366.5M599.1,369.1L602.7,371.5M599.5,366.5L601.9,367.4M601.9,367.4L602.7,371.5M603.4,374.6L603.7,373.7M603.4,374.6L600.6,376.4M602.7,371.5L603.7,373.7M601.7,357.8L603.4,356.4M601.7,357.8L603.9,360.5M599.1,361.4L598.4,360.4M598.4,360.4L600.3,358.1M603.7,360.7L603.9,360.5M600.3,358.1L601.7,357.8M605.2,364.0L603.9,363.3M600.3,358.1L599.9,356.2M602.9,355.2L603.3,355.6M602.9,355.2L602.3,354.8M603.3,355.6L603.4,356.4M599.9,356.2L602.3,354.8M603.2,353.0L602.9,355.2M603.2,353.0L601.4,353.7M601.4,353.7L602.3,354.8M604.8,413.0L601.9,416.5M601.0,416.4L600.6,416.0M600.6,416.0L600.4,412.5M601.1,408.5L601.9,408.6M601.1,408.5L600.8,409.0M600.8,409.0L600.4,412.5M605.8,399.9L604.1,403.8M606.2,406.2L604.2,404.0M604.2,404.0L604.1,403.8M606.2,406.2L606.2,406.2M601.1,408.5L600.6,407.7M600.6,407.7L602.0,404.8M602.0,404.8L604.2,404.0M603.1,399.2L599.1,400.7M603.1,399.2L605.0,399.9M605.0,399.9L602.6,402.6M599.1,400.7L599.0,401.0M602.6,402.6L601.6,402.5M601.6,402.5L599.1,401.2M599.0,401.0L599.1,401.2M602.8,397.3L604.2,395.9M602.8,397.3L603.1,399.2M605.8,399.9L605.0,399.9M604.1,403.8L602.6,402.6M598.6,399.3L596.1,398.5M598.6,399.3L599.1,400.7M597.4,401.6L599.0,401.0M592.2,399.2L592.1,399.3M602.0,404.8L601.6,402.5M598.8,405.9L600.6,407.7M598.8,405.9L599.1,401.2M596.8,406.2L598.8,405.9M596.6,390.1L596.6,389.5M596.6,390.1L590.5,391.0M590.5,391.0L588.9,388.2M596.5,388.9L588.9,387.9M596.5,388.9L596.6,389.5M588.9,388.2L588.9,387.9M596.3,384.5L596.5,388.9M596.3,384.5L588.1,385.2M588.1,385.2L588.9,387.9M597.2,382.8L599.1,381.2M597.2,382.8L596.3,384.5M600.3,381.1L599.9,380.8M601.0,388.5L596.6,389.5M583.2,388.3L585.6,390.6M584.8,386.1L587.2,384.5M587.2,384.5L588.1,385.2M587.5,389.9L585.6,390.6M587.5,389.9L588.9,388.2M595.7,393.6L599.0,397.7M595.7,393.6L596.6,391.5M596.6,391.5L596.8,391.0M596.8,391.0L599.6,392.5M599.6,392.5L600.8,394.4M600.8,394.4L600.5,395.9M599.0,397.7L600.5,395.9M595.1,394.2L595.7,393.6M598.6,399.3L599.0,397.7M590.1,393.1L596.6,391.5M590.1,393.1L590.5,391.0M596.6,390.1L596.8,391.0M603.0,390.8L599.6,392.5M604.4,394.2L600.8,394.4M602.8,397.3L600.5,395.9M586.7,406.9L588.2,406.7M586.7,406.9L589.3,411.1M588.2,406.7L589.4,411.0M589.3,411.1L589.4,411.0M591.9,407.4L591.6,409.7M589.2,405.7L588.2,406.7M589.4,411.0L591.6,409.7M582.8,405.2L585.9,403.9M582.8,405.2L584.9,407.9M585.9,403.9L586.0,406.8M584.9,407.9L586.0,406.8M580.5,404.9L582.8,405.2M580.5,402.6L584.7,402.4M584.7,402.4L586.1,403.5M586.1,403.5L585.9,403.9M582.7,409.2L584.6,409.1M584.6,409.1L584.9,407.9M587.4,403.0L586.1,403.5M586.7,406.9L586.0,406.8M584.7,402.4L584.3,399.7M584.3,399.7L580.7,399.4M581.1,391.5L581.3,396.7M595.0,394.3L591.0,394.4M591.4,399.5L590.9,395.6M591.0,394.4L590.9,395.6M590.1,393.1L590.1,393.3M591.0,394.4L590.1,393.3M589.5,400.2L588.6,399.5M588.6,399.5L588.9,396.1M590.9,395.6L588.9,396.1M582.3,392.1L584.5,391.4M582.3,392.1L581.2,391.3M584.5,391.4L582.9,388.6M582.9,388.6L581.2,391.2M581.2,391.3L581.2,391.2M581.1,391.5L581.2,391.3M584.7,395.1L581.3,396.7M584.7,395.1L582.3,392.1M583.1,388.3L582.9,388.6M585.6,390.6L585.4,391.4M585.4,391.4L584.5,391.4M582.5,353.3L585.8,353.9M582.5,353.3L586.2,356.4M586.2,356.4L585.8,353.9M586.4,352.3L585.8,353.9M586.4,352.3L585.8,350.6M581.7,353.1L582.5,353.3M589.0,348.8L590.3,348.9M586.4,352.3L589.9,353.2M589.9,353.2L590.3,348.9M590.8,343.2L587.0,344.7M592.9,346.8L592.6,347.7M592.6,347.7L590.3,348.9M589.9,353.2L591.5,356.5M595.4,351.9L593.0,356.1M595.4,351.9L592.6,347.7M593.0,356.1L591.5,356.5M583.0,381.0L582.4,379.6M583.0,381.0L581.0,382.2M582.1,377.4L582.4,379.6M583.9,375.0L584.1,375.6M584.1,375.6L582.1,377.4M592.5,375.5L590.6,376.9M588.8,371.1L588.7,371.8M588.8,371.1L590.7,371.5M588.7,371.8L590.6,376.9M588.8,371.1L588.8,371.1M584.1,375.6L585.2,375.9M585.2,375.9L587.7,373.8M588.7,371.8L587.7,373.8M585.2,375.9L586.6,377.8M587.7,373.8L589.2,377.0M586.6,377.8L589.2,377.0M583.0,381.0L585.9,382.2M586.6,377.8L585.9,382.2M587.2,384.5L587.0,383.5M587.0,383.5L585.9,382.2M590.6,376.9L590.3,377.3M590.3,377.3L589.2,377.0M584.3,339.9L584.2,337.2M584.3,339.9L585.8,340.3M585.8,340.3L585.9,340.2M585.9,340.2L585.5,336.7M584.2,337.2L585.5,336.7M583.5,340.0L584.3,339.9M585.6,343.6L585.8,340.3M590.8,342.9L587.0,339.9M587.0,339.9L585.9,340.2M587.0,339.9L588.3,337.9M588.4,337.6L588.3,337.9M603.1,351.6L603.4,352.8M603.1,351.6L603.3,351.1M603.3,351.1L605.2,353.7M603.4,352.8L605.0,353.8M605.0,353.8L605.2,353.7M603.2,353.0L603.4,352.8M600.6,353.1L601.4,353.7M600.6,353.1L603.1,351.6M603.7,350.0L603.3,351.1M603.3,355.6L605.0,353.8M590.9,340.5L591.6,338.1M590.9,340.5L590.3,339.2M590.3,339.2L591.6,338.1M591.4,341.8L590.9,340.5M592.9,336.7L591.6,338.1M588.3,337.9L590.3,339.2M606.2,371.4L604.4,372.8M606.2,371.4L605.6,367.0M604.4,372.8L603.7,367.5M605.6,367.0L603.7,367.5M603.4,374.6L606.1,375.6M603.7,373.7L604.4,372.8M605.9,366.8L605.6,367.0M601.9,367.4L603.7,367.5M599.5,366.5L599.8,364.8M599.4,352.7L599.1,355.0M599.4,352.7L598.5,351.5M595.7,351.9L597.9,355.7M595.7,351.9L598.5,351.5M597.9,355.7L599.1,355.0M599.9,356.2L599.1,355.0M600.6,353.1L599.4,352.7M599.5,349.6L598.5,351.5M595.4,351.9L595.7,351.9M593.0,356.1L595.5,357.4M595.5,357.4L597.9,355.7M598.4,360.4L598.0,360.3M598.0,360.3L595.5,357.4M597.5,411.9L597.6,410.2M597.5,411.9L596.6,414.2M596.6,414.2L595.0,414.3M595.0,414.3L594.0,410.8M594.0,410.8L595.9,409.8M595.9,409.8L597.6,410.2M600.8,409.0L597.6,410.2M600.4,412.5L597.5,411.9M600.6,416.0L596.6,414.2M587.9,412.7L594.3,415.0M587.9,412.7L589.3,411.1M591.6,409.7L594.0,410.8M594.3,415.0L595.0,414.3M595.9,407.7L595.9,409.8M588.2,399.3L586.1,398.4M588.2,399.3L587.9,395.1M586.1,398.4L584.7,395.1M584.7,395.1L586.0,394.1M586.0,394.1L587.3,393.8M587.9,395.1L587.4,393.8M587.3,393.8L587.4,393.8M588.6,399.5L588.2,399.3M584.3,399.7L586.1,398.4M588.9,396.1L587.9,395.1M584.7,395.1L584.7,395.1M585.4,391.4L586.0,394.1M587.5,389.9L587.3,393.8M590.1,393.3L587.4,393.8M581.1,357.6L584.7,357.8M584.1,362.3L584.8,360.2M584.8,360.2L584.7,357.8M581.6,353.6L586.3,356.8M584.7,357.8L586.3,356.8M586.2,356.4L586.3,356.8M586.3,356.8L586.3,356.8M588.4,382.2L590.4,377.4M588.4,382.2L592.6,380.3M590.4,377.4L592.3,379.3M592.6,380.3L592.3,379.3M587.0,383.5L588.4,382.2M590.3,377.3L590.4,377.4M597.2,382.8L592.6,380.3M593.9,377.2L592.3,379.3M584.6,409.1L587.5,412.9M584.7,413.8L587.5,412.9M587.9,412.7L587.6,412.9M587.5,412.9L587.6,412.9M586.9,363.4L587.7,363.0M584.8,360.2L588.4,361.0M588.4,361.0L587.7,363.0M590.5,357.6L594.1,362.7M590.5,357.6L590.5,357.6M590.5,357.6L590.2,358.4M590.2,358.4L591.5,365.0M594.1,362.7L593.3,365.3M593.3,365.3L591.7,365.2M591.7,365.2L591.5,365.0M591.5,356.5L590.5,357.6M598.0,360.3L594.1,362.7M586.3,356.8L590.5,357.6M588.4,361.0L590.2,358.4M587.7,363.0L591.5,365.0M594.0,365.9L593.3,365.3M589.6,367.4L591.7,365.2M589.6,416.5L587.9,414.6M587.6,412.9L587.9,414.6M581.5,416.9L581.1,414.8M581.1,414.8L584.1,414.5M581.4,416.9L581.5,416.9M584.7,413.8L584.1,414.5" fill="none" stroke="#dca88c" stroke-width="0.45"/>
<rect x="607" y="336.3" width="5.4" height="80.7" fill="#eec89c"/>
<line x1="607" y1="336.3" x2="607" y2="417.0" stroke="#c8a080" stroke-width="0.5"/>
<rect x="546.9" y="392" width="5.2" height="22" fill="#f8eee8" opacity="0.85"/>
<text x="0" y="0" font-size="4.2" fill="#555" transform="translate(551.0,413) rotate(-90)" textLength="20" lengthAdjust="spacingAndGlyphs">Плотный</text>
<rect x="560.4" y="392" width="5.2" height="22" fill="#f8eee8" opacity="0.85"/>
<text x="0" y="0" font-size="4.2" fill="#555" transform="translate(564.5,413) rotate(-90)" textLength="20" lengthAdjust="spacingAndGlyphs">Корка</text>
<rect x="572.9" y="392" width="5.2" height="22" fill="#f8eee8" opacity="0.85"/>
<text x="0" y="0" font-size="4.2" fill="#555" transform="translate(577.0,413) rotate(-90)" textLength="20" lengthAdjust="spacingAndGlyphs">Кутикула</text>
<rect x="517" y="336.3" width="95.4" height="80.7" fill="none" stroke="#d8b090" stroke-width="0.6"/>
<text x="535.5" y="188.8" font-size="4.8" fill="#333333" text-anchor="middle" textLength="25" lengthAdjust="spacingAndGlyphs">Стекловидная</text>
<text x="535.5" y="193.5" font-size="4.8" fill="#333333" text-anchor="middle" textLength="18" lengthAdjust="spacingAndGlyphs">мембрана</text>
<polyline points="536.0,195.0 536.0,208.0" fill="none" stroke="#4a4a4a" stroke-width="0.55"/>
<text x="594.5" y="188.8" font-size="4.8" fill="#333333" text-anchor="middle" textLength="30" lengthAdjust="spacingAndGlyphs">Соединительный</text>
<text x="594.5" y="193.5" font-size="4.8" fill="#333333" text-anchor="middle" textLength="10" lengthAdjust="spacingAndGlyphs">слой</text>
<polyline points="594.3,195.3 594.3,207.0" fill="none" stroke="#4a4a4a" stroke-width="0.55"/>
<text x="464.4" y="213.3" font-size="4.8" fill="#333333" text-anchor="start" textLength="22" lengthAdjust="spacingAndGlyphs">Внутреннее</text>
<text x="466" y="217.7" font-size="4.8" fill="#333333" text-anchor="start" textLength="20" lengthAdjust="spacingAndGlyphs">корневое</text>
<text x="466" y="222.6" font-size="4.8" fill="#333333" text-anchor="start" textLength="20" lengthAdjust="spacingAndGlyphs">влагалище</text>
<polyline points="486.7,216.6 545.0,216.6" fill="none" stroke="#4a4a4a" stroke-width="0.55"/>
<text x="465.5" y="232.3" font-size="4.8" fill="#333333" text-anchor="start" textLength="16.5" lengthAdjust="spacingAndGlyphs">Стержень</text>
<text x="468" y="237" font-size="4.8" fill="#333333" text-anchor="start" textLength="13" lengthAdjust="spacingAndGlyphs">волоса</text>
<polyline points="482.0,233.0 491.0,233.0" fill="none" stroke="#4a4a4a" stroke-width="0.55"/>
<text x="496.7" y="277.2" font-size="4.8" fill="#333333" text-anchor="start" textLength="20" lengthAdjust="spacingAndGlyphs">Эпидермис</text>
<text x="441" y="277.2" font-size="4.8" fill="#333333" text-anchor="start" textLength="29" lengthAdjust="spacingAndGlyphs">Эккриновая</text>
<text x="441" y="282.6" font-size="4.8" fill="#333333" text-anchor="start" textLength="29" lengthAdjust="spacingAndGlyphs">(потовая) железа</text>
<polyline points="473.0,267.8 481.0,267.8" fill="none" stroke="#4a4a4a" stroke-width="0.55"/>
<polyline points="474.4,267.8 474.4,300.0" fill="none" stroke="#4a4a4a" stroke-width="0.55"/>
<text x="450" y="314.3" font-size="4.8" fill="#333333" text-anchor="start" textLength="15" lengthAdjust="spacingAndGlyphs">Сальная</text>
<text x="451" y="319.5" font-size="4.8" fill="#333333" text-anchor="start" textLength="13" lengthAdjust="spacingAndGlyphs">железа</text>
<text x="503.6" y="302.5" font-size="4.8" fill="#333333" text-anchor="start" textLength="14" lengthAdjust="spacingAndGlyphs">Мышца</text>
<text x="503.6" y="307.5" font-size="4.8" fill="#333333" text-anchor="start" textLength="25" lengthAdjust="spacingAndGlyphs">поднимающая</text>
<text x="510" y="312.5" font-size="4.8" fill="#333333" text-anchor="start" textLength="12" lengthAdjust="spacingAndGlyphs">волос</text>
<text x="535.7" y="302.5" font-size="4.8" fill="#333333" text-anchor="start" textLength="18.3" lengthAdjust="spacingAndGlyphs">Мозговое</text>
<text x="536" y="308.5" font-size="4.8" fill="#333333" text-anchor="start" textLength="18" lengthAdjust="spacingAndGlyphs">вещество</text>
<text x="554" y="313.5" font-size="4.8" fill="#333333" text-anchor="start" textLength="15" lengthAdjust="spacingAndGlyphs">Корка</text>
<text x="559" y="323.5" font-size="4.8" fill="#333333" text-anchor="start" textLength="15.6" lengthAdjust="spacingAndGlyphs">Кутикула</text>
<text x="578.5" y="298.5" font-size="4.8" fill="#333333" text-anchor="start" textLength="19.5" lengthAdjust="spacingAndGlyphs">Внешнее</text>
<text x="578.5" y="303.5" font-size="4.8" fill="#333333" text-anchor="start" textLength="19.5" lengthAdjust="spacingAndGlyphs">корневое</text>
<text x="578.5" y="308.5" font-size="4.8" fill="#333333" text-anchor="start" textLength="19.5" lengthAdjust="spacingAndGlyphs">влагалище</text>
<polyline points="570.7,266.0 570.7,311.0" fill="none" stroke="#4a4a4a" stroke-width="0.55"/>
<polyline points="588.0,282.0 588.0,296.0" fill="none" stroke="#4a4a4a" stroke-width="0.55"/>
<polyline points="518.0,335.0 518.0,332.3 542.5,332.3 542.5,335.0" fill="none" stroke="#4a4a4a" stroke-width="0.55"/>
<polyline points="578.5,332.0 578.5,329.3 602.8,329.3 602.8,332.0" fill="none" stroke="#4a4a4a" stroke-width="0.55"/>
<polyline points="534.0,310.0 515.0,330.0" fill="none" stroke="#c8c8c8" stroke-width="0.5"/>
<polyline points="553.0,316.0 531.0,335.0" fill="none" stroke="#c8c8c8" stroke-width="0.5"/>
<polyline points="558.0,325.0 550.0,334.0" fill="none" stroke="#c8c8c8" stroke-width="0.5"/>
<text x="440.7" y="413.3" font-size="4.8" fill="#333333" text-anchor="start" textLength="15" lengthAdjust="spacingAndGlyphs">Луковица</text>
<polyline points="473.8,388.5 463.6,388.5 463.6,443.5 481.0,443.5" fill="none" stroke="#4a4a4a" stroke-width="0.55"/>
<polyline points="456.5,411.5 463.6,411.5" fill="none" stroke="#4a4a4a" stroke-width="0.55"/>
<text x="466.7" y="455.1" font-size="4.8" fill="#333333" text-anchor="start" textLength="33.3" lengthAdjust="spacingAndGlyphs">Волосяной сосочек</text>
<polyline points="486.5,430.0 486.5,453.0" fill="none" stroke="#4a4a4a" stroke-width="0.55"/>
<text x="508" y="450.3" font-size="4.8" fill="#333333" text-anchor="start" textLength="25" lengthAdjust="spacingAndGlyphs">Эпителий</text>
<rect x="505.5" y="444.5" width="30" height="8" fill="none" stroke="#d8d8d8" stroke-width="0.4"/>
<polyline points="503.0,437.0 510.0,447.0" fill="none" stroke="#4a4a4a" stroke-width="0.55"/>
<text x="517.8" y="429.8" font-size="4.8" fill="#333333" text-anchor="start" textLength="30" lengthAdjust="spacingAndGlyphs">Стекловидная</text>
<polyline points="552.0,417.0 552.0,425.0" fill="none" stroke="#4a4a4a" stroke-width="0.55"/>
<text x="553.7" y="428.8" font-size="4.8" fill="#333333" text-anchor="start" textLength="20.3" lengthAdjust="spacingAndGlyphs">Внутреннее</text>
<text x="554.5" y="434" font-size="4.8" fill="#333333" text-anchor="start" textLength="19" lengthAdjust="spacingAndGlyphs">корневое</text>
<text x="554.5" y="439.2" font-size="4.8" fill="#333333" text-anchor="start" textLength="19" lengthAdjust="spacingAndGlyphs">влагалище</text>
<text x="449" y="364.8" font-size="4.8" fill="#333333" text-anchor="start" textLength="21" lengthAdjust="spacingAndGlyphs">Внутренний</text>
<text x="459" y="370" font-size="4.8" fill="#333333" text-anchor="start" textLength="10" lengthAdjust="spacingAndGlyphs">слой</text>
<text x="460" y="338.3" font-size="4.8" fill="#333333" text-anchor="start" textLength="8.5" lengthAdjust="spacingAndGlyphs">Рост</text>
<polyline points="504.3,371.0 504.3,388.5 493.0,388.5" fill="none" stroke="#555" stroke-width="0.5"/>
<polyline points="473.3,296.0 473.3,387.4" fill="none" stroke="#777" stroke-width="0.45"/>
<polyline points="473.3,298.9 481.7,298.9" fill="none" stroke="#777" stroke-width="0.45"/>
<text x="407" y="474" font-size="6.6" fill="#3a3a3a" textLength="98.5" lengthAdjust="spacingAndGlyphs">Copyright © 2010 - XL Sistemas S.A.</text></svg>
</body></html>
